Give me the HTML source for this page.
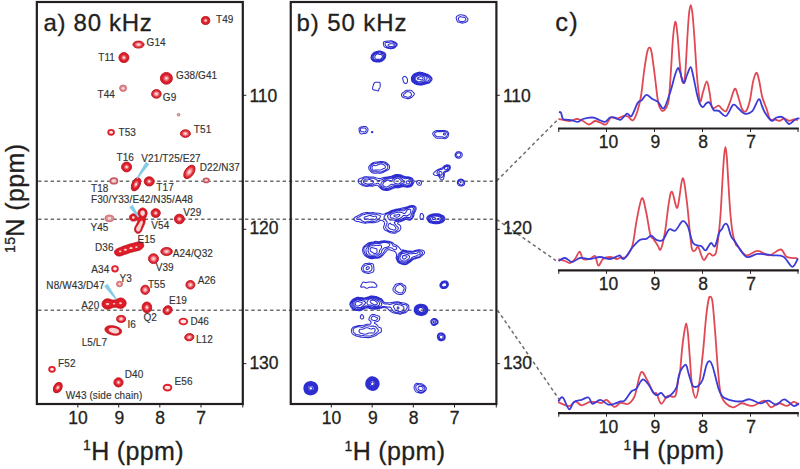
<!DOCTYPE html><html><head><meta charset="utf-8"><style>html,body{margin:0;padding:0;background:#fff;overflow:hidden}svg{display:block}text{font-family:"Liberation Sans", sans-serif}</style></head><body>
<svg width="800" height="469" viewBox="0 0 800 469">
<defs><radialGradient id="rg" cx="0.5" cy="0.5" r="0.5"><stop offset="0" stop-color="#f8d4d4"/><stop offset="0.3" stop-color="#ee7a80"/><stop offset="0.62" stop-color="#e2252f"/><stop offset="1" stop-color="#d51824"/></radialGradient><radialGradient id="rg2" cx="0.5" cy="0.5" r="0.5"><stop offset="0" stop-color="#f8d8d8"/><stop offset="0.4" stop-color="#ef9096"/><stop offset="0.68" stop-color="#e3343e"/><stop offset="1" stop-color="#d41a26"/></radialGradient></defs>
<rect width="800" height="469" fill="#fff"/>
<line x1="38.1" y1="181.3" x2="496" y2="181.3" stroke="#6e6e6e" stroke-width="1.5" stroke-dasharray="3.4 2.87" fill="none"/>
<line x1="38.1" y1="219.3" x2="496" y2="219.3" stroke="#6e6e6e" stroke-width="1.5" stroke-dasharray="3.4 2.87" fill="none"/>
<line x1="38.1" y1="310.2" x2="496" y2="310.2" stroke="#6e6e6e" stroke-width="1.5" stroke-dasharray="3.4 2.87" fill="none"/>
<line x1="496.8" y1="180.8" x2="558" y2="119.4" stroke="#6e6e6e" stroke-width="1.5" stroke-dasharray="3.4 2.87" fill="none"/>
<line x1="496.8" y1="219.5" x2="556" y2="260.6" stroke="#6e6e6e" stroke-width="1.5" stroke-dasharray="3.4 2.87" fill="none"/>
<line x1="497.5" y1="310.2" x2="560.3" y2="401" stroke="#6e6e6e" stroke-width="1.5" stroke-dasharray="3.4 2.87" fill="none"/>
<g><ellipse cx="205.60" cy="20.50" rx="4.20" ry="4.00" fill="url(#rg)" stroke="#c0141f" stroke-width="0.9"/>
<ellipse cx="205.60" cy="20.50" rx="2.60" ry="2.48" fill="none" stroke="#c01520" stroke-width="0.5" opacity="0.6"/>
<ellipse cx="205.60" cy="20.50" rx="0.80" ry="0.80" fill="#fbe6e6"/></g>
<g><ellipse cx="138.50" cy="44.60" rx="5.60" ry="3.50" fill="url(#rg2)" stroke="#c0141f" stroke-width="0.9"/>
<ellipse cx="138.50" cy="44.60" rx="1.01" ry="0.80" fill="#fbe6e6"/></g>
<g><ellipse cx="123.90" cy="57.60" rx="5.00" ry="5.00" fill="url(#rg)" stroke="#c0141f" stroke-width="0.9"/>
<ellipse cx="123.90" cy="57.60" rx="3.10" ry="3.10" fill="none" stroke="#c01520" stroke-width="0.5" opacity="0.6"/>
<ellipse cx="123.90" cy="57.60" rx="0.90" ry="0.90" fill="#fbe6e6"/></g>
<g><ellipse cx="166.40" cy="78.30" rx="6.00" ry="5.90" fill="url(#rg)" stroke="#c0141f" stroke-width="0.9"/>
<ellipse cx="166.40" cy="78.30" rx="3.72" ry="3.66" fill="none" stroke="#c01520" stroke-width="0.5" opacity="0.6"/>
<ellipse cx="166.40" cy="78.30" rx="1.08" ry="1.06" fill="#fbe6e6"/></g>
<g><ellipse cx="123.10" cy="88.20" rx="3.50" ry="3.20" fill="#dc8c90" stroke="#d07078" stroke-width="1"/>
<ellipse cx="123.10" cy="88.20" rx="1.40" ry="1.28" fill="#f7dede"/></g>
<g><ellipse cx="156.40" cy="93.90" rx="4.80" ry="4.30" fill="url(#rg2)" stroke="#c0141f" stroke-width="0.9"/>
<ellipse cx="156.40" cy="93.90" rx="0.86" ry="0.80" fill="#fbe6e6"/></g>
<g><ellipse cx="178.60" cy="114.70" rx="1.30" ry="1.30" fill="#dc8c90" stroke="#d07078" stroke-width="1"/>
<ellipse cx="178.60" cy="114.70" rx="0.52" ry="0.52" fill="#f7dede"/></g>
<g><ellipse cx="111.10" cy="132.30" rx="2.85" ry="2.45" fill="#fbeaea" stroke="#e2202c" stroke-width="1.9"/></g>
<g><ellipse cx="185.40" cy="133.60" rx="5.00" ry="3.80" fill="url(#rg2)" stroke="#c0141f" stroke-width="0.9"/>
<ellipse cx="185.40" cy="133.60" rx="0.90" ry="0.80" fill="#fbe6e6"/></g>
<g><ellipse cx="126.60" cy="167.00" rx="5.00" ry="4.90" fill="url(#rg)" stroke="#c0141f" stroke-width="0.9"/>
<ellipse cx="126.60" cy="167.00" rx="3.10" ry="3.04" fill="none" stroke="#c01520" stroke-width="0.5" opacity="0.6"/>
<ellipse cx="126.60" cy="167.00" rx="0.90" ry="0.88" fill="#fbe6e6"/></g>
<g transform="rotate(-55.0 189.40 171.90)"><ellipse cx="189.40" cy="171.90" rx="7.60" ry="4.40" fill="url(#rg2)" stroke="#c0141f" stroke-width="0.9"/>
<ellipse cx="189.40" cy="171.90" rx="1.37" ry="0.80" fill="#fbe6e6"/></g>
<g><ellipse cx="113.90" cy="180.90" rx="3.55" ry="2.75" fill="#f0cfcf" stroke="#c65a60" stroke-width="1.7"/></g>
<g transform="rotate(-65.0 136.00 184.30)"><ellipse cx="136.00" cy="184.30" rx="7.00" ry="4.00" fill="url(#rg)" stroke="#c0141f" stroke-width="0.9"/>
<ellipse cx="136.00" cy="184.30" rx="4.34" ry="2.48" fill="none" stroke="#c01520" stroke-width="0.5" opacity="0.6"/>
<ellipse cx="136.00" cy="184.30" rx="1.26" ry="0.80" fill="#fbe6e6"/></g>
<g><ellipse cx="149.20" cy="181.40" rx="5.00" ry="4.60" fill="url(#rg)" stroke="#c0141f" stroke-width="0.9"/>
<ellipse cx="149.20" cy="181.40" rx="3.10" ry="2.85" fill="none" stroke="#c01520" stroke-width="0.5" opacity="0.6"/>
<ellipse cx="149.20" cy="181.40" rx="0.90" ry="0.83" fill="#fbe6e6"/></g>
<g><ellipse cx="206.20" cy="180.40" rx="2.75" ry="1.95" fill="#f0cfcf" stroke="#c65a60" stroke-width="1.7"/></g>
<g><ellipse cx="155.70" cy="213.10" rx="4.60" ry="4.40" fill="url(#rg)" stroke="#c0141f" stroke-width="0.9"/>
<ellipse cx="155.70" cy="213.10" rx="2.85" ry="2.73" fill="none" stroke="#c01520" stroke-width="0.5" opacity="0.6"/>
<ellipse cx="155.70" cy="213.10" rx="0.83" ry="0.80" fill="#fbe6e6"/></g>
<g><ellipse cx="179.40" cy="219.00" rx="5.00" ry="4.80" fill="url(#rg)" stroke="#c0141f" stroke-width="0.9"/>
<ellipse cx="179.40" cy="219.00" rx="3.10" ry="2.98" fill="none" stroke="#c01520" stroke-width="0.5" opacity="0.6"/>
<ellipse cx="179.40" cy="219.00" rx="0.90" ry="0.86" fill="#fbe6e6"/></g>
<g><ellipse cx="109.40" cy="218.40" rx="4.40" ry="3.30" fill="#dc8c90" stroke="#d07078" stroke-width="1"/>
<ellipse cx="109.40" cy="218.40" rx="1.76" ry="1.32" fill="#f7dede"/></g>
<g><ellipse cx="166.60" cy="251.50" rx="5.80" ry="4.00" fill="url(#rg2)" stroke="#c0141f" stroke-width="0.9"/>
<ellipse cx="166.60" cy="251.50" rx="1.04" ry="0.80" fill="#fbe6e6"/></g>
<g><ellipse cx="153.50" cy="258.70" rx="5.00" ry="4.90" fill="url(#rg2)" stroke="#c0141f" stroke-width="0.9"/>
<ellipse cx="153.50" cy="258.70" rx="0.90" ry="0.88" fill="#fbe6e6"/></g>
<g><ellipse cx="115.00" cy="268.80" rx="2.85" ry="2.65" fill="#fbeaea" stroke="#e2202c" stroke-width="1.9"/></g>
<g><ellipse cx="119.50" cy="284.00" rx="3.00" ry="2.80" fill="#dc8c90" stroke="#d07078" stroke-width="1"/>
<ellipse cx="119.50" cy="284.00" rx="1.20" ry="1.12" fill="#f7dede"/></g>
<g><ellipse cx="145.20" cy="289.80" rx="4.40" ry="4.60" fill="url(#rg2)" stroke="#c0141f" stroke-width="0.9"/>
<ellipse cx="145.20" cy="289.80" rx="0.80" ry="0.83" fill="#fbe6e6"/></g>
<g><ellipse cx="190.40" cy="284.80" rx="4.50" ry="4.30" fill="url(#rg2)" stroke="#c0141f" stroke-width="0.9"/>
<ellipse cx="190.40" cy="284.80" rx="0.81" ry="0.80" fill="#fbe6e6"/></g>
<g><ellipse cx="146.90" cy="307.40" rx="4.80" ry="5.40" fill="url(#rg)" stroke="#c0141f" stroke-width="0.9"/>
<ellipse cx="146.90" cy="307.40" rx="2.98" ry="3.35" fill="none" stroke="#c01520" stroke-width="0.5" opacity="0.6"/>
<ellipse cx="146.90" cy="307.40" rx="0.86" ry="0.97" fill="#fbe6e6"/></g>
<g transform="rotate(-45.0 167.50 310.20)"><ellipse cx="167.50" cy="310.20" rx="4.80" ry="4.20" fill="url(#rg)" stroke="#c0141f" stroke-width="0.9"/>
<ellipse cx="167.50" cy="310.20" rx="2.98" ry="2.60" fill="none" stroke="#c01520" stroke-width="0.5" opacity="0.6"/>
<ellipse cx="167.50" cy="310.20" rx="0.86" ry="0.80" fill="#fbe6e6"/></g>
<g><ellipse cx="121.10" cy="318.90" rx="4.50" ry="3.50" fill="url(#rg2)" stroke="#c0141f" stroke-width="0.9"/>
<ellipse cx="121.10" cy="318.90" rx="0.81" ry="0.80" fill="#fbe6e6"/></g>
<g><ellipse cx="183.30" cy="321.50" rx="3.85" ry="2.85" fill="#fbeaea" stroke="#e2202c" stroke-width="1.9"/></g>
<g transform="rotate(-10.0 189.30 337.20)"><ellipse cx="189.30" cy="337.20" rx="4.60" ry="3.60" fill="url(#rg2)" stroke="#c0141f" stroke-width="0.9"/>
<ellipse cx="189.30" cy="337.20" rx="0.83" ry="0.80" fill="#fbe6e6"/></g>
<g><ellipse cx="52.00" cy="369.30" rx="2.85" ry="2.45" fill="#fbeaea" stroke="#e2202c" stroke-width="1.9"/></g>
<g><ellipse cx="118.50" cy="382.40" rx="4.60" ry="4.60" fill="url(#rg)" stroke="#c0141f" stroke-width="0.9"/>
<ellipse cx="118.50" cy="382.40" rx="2.85" ry="2.85" fill="none" stroke="#c01520" stroke-width="0.5" opacity="0.6"/>
<ellipse cx="118.50" cy="382.40" rx="0.83" ry="0.83" fill="#fbe6e6"/></g>
<g><ellipse cx="167.50" cy="387.60" rx="3.85" ry="2.85" fill="#fbeaea" stroke="#e2202c" stroke-width="1.9"/></g>
<g transform="rotate(-58.0 57.80 387.60)"><ellipse cx="57.80" cy="387.60" rx="5.60" ry="3.90" fill="url(#rg)" stroke="#c0141f" stroke-width="0.9"/>
<ellipse cx="57.80" cy="387.60" rx="3.47" ry="2.42" fill="none" stroke="#c01520" stroke-width="0.5" opacity="0.6"/>
<ellipse cx="57.80" cy="387.60" rx="1.01" ry="0.80" fill="#fbe6e6"/></g>
<path d="M138.80,233.24 L138.40,233.31 L138.00,233.34 L137.60,233.31 L137.20,233.23 L137.00,233.17 L136.61,233.00 L136.40,232.89 L136.20,232.76 L135.99,232.60 L135.77,232.40 L135.58,232.20 L135.40,231.99 L135.20,231.70 L135.03,231.40 L134.93,231.20 L134.80,230.87 L134.71,230.60 L134.62,230.20 L134.59,230.00 L134.54,229.60 L134.53,229.20 L134.55,228.80 L134.60,228.46 L134.64,228.20 L134.74,227.80 L134.80,227.60 L134.94,227.20 L135.02,227.00 L135.20,226.60 L135.30,226.40 L135.40,226.20 L135.60,225.84 L135.73,225.60 L135.85,225.40 L136.00,225.14 L136.20,224.80 L136.31,224.60 L136.42,224.40 L136.60,224.05 L136.72,223.80 L136.82,223.60 L136.99,223.20 L137.06,223.00 L137.20,222.63 L137.28,222.40 L137.40,222.02 L137.46,221.80 L137.57,221.40 L137.62,221.20 L137.70,220.80 L137.76,220.40 L137.77,220.00 L137.60,219.79 L137.40,219.83 L137.04,220.00 L136.80,220.13 L136.60,220.23 L136.27,220.40 L136.00,220.53 L135.80,220.61 L135.40,220.77 L135.20,220.83 L134.80,220.95 L134.58,221.00 L134.20,221.07 L133.80,221.11 L133.40,221.12 L133.00,221.10 L132.60,221.05 L132.39,221.00 L132.00,220.89 L131.76,220.80 L131.40,220.63 L131.20,220.52 L131.00,220.39 L130.74,220.20 L130.52,220.00 L130.33,219.80 L130.16,219.60 L130.00,219.38 L129.80,219.03 L129.69,218.80 L129.60,218.55 L129.50,218.20 L129.44,217.80 L129.43,217.40 L129.47,217.00 L129.55,216.60 L129.61,216.40 L129.78,216.00 L129.89,215.80 L130.01,215.60 L130.20,215.35 L130.40,215.12 L130.60,214.92 L130.80,214.75 L131.01,214.60 L131.33,214.40 L131.60,214.26 L131.80,214.18 L132.20,214.04 L132.40,213.99 L132.80,213.91 L133.20,213.87 L133.60,213.86 L134.00,213.87 L134.40,213.92 L134.80,213.99 L135.00,214.03 L135.40,214.12 L135.70,214.20 L136.00,214.28 L136.40,214.37 L136.64,214.40 L136.86,214.40 L137.20,214.29 L137.40,214.09 L137.56,213.80 L137.63,213.60 L137.76,213.20 L137.81,213.00 L137.91,212.60 L138.00,212.27 L138.08,212.00 L138.20,211.61 L138.27,211.40 L138.40,211.09 L138.53,210.80 L138.63,210.60 L138.80,210.30 L139.00,210.00 L139.14,209.80 L139.31,209.60 L139.49,209.40 L139.70,209.20 L139.94,209.00 L140.20,208.80 L140.40,208.68 L140.60,208.56 L140.94,208.40 L141.20,208.30 L141.51,208.20 L141.80,208.13 L142.20,208.07 L142.60,208.05 L143.00,208.07 L143.40,208.13 L143.69,208.20 L144.00,208.29 L144.27,208.40 L144.60,208.56 L144.80,208.67 L145.00,208.80 L145.27,209.00 L145.51,209.20 L145.71,209.40 L145.90,209.60 L146.06,209.80 L146.21,210.00 L146.40,210.30 L146.56,210.60 L146.66,210.80 L146.80,211.15 L146.89,211.40 L146.99,211.80 L147.03,212.00 L147.09,212.40 L147.12,212.80 L147.12,213.20 L147.10,213.60 L147.05,214.00 L147.00,214.26 L146.93,214.60 L146.82,215.00 L146.75,215.20 L146.61,215.60 L146.54,215.80 L146.40,216.14 L146.29,216.40 L146.20,216.61 L146.03,217.00 L145.95,217.20 L145.80,217.57 L145.72,217.80 L145.60,218.17 L145.54,218.40 L145.45,218.80 L145.40,219.05 L145.35,219.40 L145.30,219.80 L145.26,220.20 L145.23,220.60 L145.20,220.85 L145.16,221.20 L145.11,221.60 L145.05,222.00 L145.00,222.25 L144.93,222.60 L144.83,223.00 L144.78,223.20 L144.66,223.60 L144.60,223.80 L144.46,224.20 L144.38,224.40 L144.22,224.80 L144.14,225.00 L144.00,225.30 L143.86,225.60 L143.76,225.80 L143.60,226.13 L143.46,226.40 L143.36,226.60 L143.20,226.92 L143.07,227.20 L142.97,227.40 L142.80,227.77 L142.70,228.00 L142.60,228.24 L142.45,228.60 L142.37,228.80 L142.22,229.20 L142.14,229.40 L142.00,229.76 L141.90,230.00 L141.80,230.23 L141.63,230.60 L141.53,230.80 L141.40,231.03 L141.20,231.36 L141.04,231.60 L140.89,231.80 L140.72,232.00 L140.54,232.20 L140.33,232.40 L140.09,232.60 L139.80,232.80 L139.60,232.92 L139.40,233.02 L139.00,233.18 L138.80,233.24Z" fill="#e2202c" stroke="#c0141f" stroke-width="0.9" fill-rule="evenodd"/>
<path d="M138.20,232.41 L137.80,232.40 L137.60,232.38 L137.20,232.27 L137.00,232.18 L136.68,232.00 L136.42,231.80 L136.21,231.60 L136.03,231.40 L135.89,231.20 L135.77,231.00 L135.60,230.66 L135.50,230.40 L135.40,230.00 L135.36,229.80 L135.33,229.40 L135.33,229.00 L135.37,228.60 L135.40,228.40 L135.49,228.00 L135.60,227.67 L135.70,227.40 L135.80,227.18 L135.98,226.80 L136.09,226.60 L136.21,226.40 L136.40,226.09 L136.58,225.80 L136.71,225.60 L136.84,225.40 L137.00,225.16 L137.20,224.84 L137.35,224.60 L137.46,224.40 L137.60,224.16 L137.79,223.80 L137.89,223.60 L138.00,223.38 L138.18,223.00 L138.28,222.80 L138.40,222.54 L138.57,222.20 L138.67,222.00 L138.80,221.75 L138.99,221.40 L139.11,221.20 L139.23,221.00 L139.40,220.73 L139.60,220.43 L139.76,220.20 L139.90,220.00 L140.05,219.80 L140.20,219.58 L140.40,219.29 L140.58,219.00 L140.70,218.80 L140.80,218.57 L140.91,218.20 L140.93,217.80 L140.84,217.40 L140.76,217.20 L140.60,216.88 L140.44,216.60 L140.31,216.40 L140.17,216.20 L140.00,215.94 L139.80,215.62 L139.67,215.40 L139.57,215.20 L139.40,214.82 L139.32,214.60 L139.21,214.20 L139.17,214.00 L139.12,213.60 L139.10,213.20 L139.12,212.80 L139.17,212.40 L139.21,212.20 L139.32,211.80 L139.40,211.57 L139.56,211.20 L139.67,211.00 L139.80,210.78 L140.00,210.51 L140.20,210.28 L140.40,210.08 L140.60,209.91 L140.80,209.76 L141.07,209.60 L141.40,209.44 L141.60,209.37 L142.00,209.27 L142.40,209.21 L142.80,209.21 L143.20,209.26 L143.60,209.37 L143.80,209.44 L144.14,209.60 L144.40,209.76 L144.60,209.90 L144.80,210.07 L145.00,210.26 L145.20,210.49 L145.40,210.77 L145.54,211.00 L145.65,211.20 L145.80,211.56 L145.88,211.80 L145.98,212.20 L146.01,212.40 L146.05,212.80 L146.06,213.20 L146.02,213.60 L146.00,213.80 L145.92,214.20 L145.80,214.60 L145.73,214.80 L145.60,215.14 L145.48,215.40 L145.39,215.60 L145.20,215.95 L145.06,216.20 L144.94,216.40 L144.80,216.63 L144.60,216.97 L144.46,217.20 L144.36,217.40 L144.20,217.74 L144.10,218.00 L144.01,218.40 L143.98,218.60 L143.97,219.00 L143.99,219.40 L144.00,219.60 L144.04,220.00 L144.06,220.40 L144.08,220.80 L144.09,221.20 L144.07,221.60 L144.04,222.00 L144.00,222.29 L143.95,222.60 L143.87,223.00 L143.80,223.27 L143.71,223.60 L143.60,223.92 L143.50,224.20 L143.40,224.45 L143.25,224.80 L143.17,225.00 L143.00,225.35 L142.88,225.60 L142.78,225.80 L142.60,226.16 L142.48,226.40 L142.39,226.60 L142.20,227.00 L142.12,227.20 L142.00,227.47 L141.87,227.80 L141.80,228.00 L141.65,228.40 L141.58,228.60 L141.44,229.00 L141.37,229.20 L141.21,229.60 L141.13,229.80 L141.00,230.09 L140.85,230.40 L140.74,230.60 L140.60,230.82 L140.40,231.11 L140.20,231.35 L140.00,231.56 L139.80,231.74 L139.60,231.90 L139.40,232.03 L139.06,232.20 L138.80,232.30 L138.40,232.39 L138.20,232.41Z M134.00,220.01 L133.60,220.07 L133.20,220.07 L132.80,220.03 L132.60,219.98 L132.20,219.85 L132.00,219.76 L131.72,219.60 L131.45,219.40 L131.24,219.20 L131.06,219.00 L130.92,218.80 L130.80,218.58 L130.65,218.20 L130.59,218.00 L130.54,217.60 L130.56,217.20 L130.60,216.97 L130.72,216.60 L130.81,216.40 L131.00,216.08 L131.20,215.84 L131.40,215.64 L131.60,215.48 L131.80,215.34 L132.07,215.20 L132.40,215.07 L132.63,215.00 L133.00,214.93 L133.40,214.90 L133.80,214.93 L134.20,215.00 L134.40,215.05 L134.80,215.20 L135.00,215.30 L135.20,215.41 L135.47,215.60 L135.69,215.80 L135.87,216.00 L136.01,216.20 L136.20,216.59 L136.27,216.80 L136.33,217.20 L136.32,217.60 L136.25,218.00 L136.18,218.20 L136.00,218.60 L135.88,218.80 L135.72,219.00 L135.54,219.20 L135.31,219.40 L135.03,219.60 L134.80,219.73 L134.60,219.82 L134.20,219.96 L134.00,220.01Z" fill="none" stroke="#b80f1a" stroke-width="0.6" opacity="0.7"/>
<path d="M143.20,215.84 L142.80,215.93 L142.40,215.89 L142.14,215.80 L141.80,215.62 L141.60,215.48 L141.40,215.31 L141.20,215.11 L141.00,214.88 L140.81,214.60 L140.69,214.40 L140.59,214.20 L140.45,213.80 L140.40,213.60 L140.34,213.20 L140.33,212.80 L140.39,212.40 L140.44,212.20 L140.59,211.80 L140.69,211.60 L140.82,211.40 L141.00,211.18 L141.20,210.99 L141.45,210.80 L141.80,210.61 L142.00,210.54 L142.40,210.46 L142.80,210.46 L143.20,210.54 L143.40,210.61 L143.77,210.80 L144.00,210.97 L144.20,211.15 L144.40,211.39 L144.53,211.60 L144.64,211.80 L144.80,212.20 L144.85,212.40 L144.90,212.80 L144.91,213.20 L144.86,213.60 L144.80,213.86 L144.69,214.20 L144.60,214.41 L144.40,214.77 L144.24,215.00 L144.08,215.20 L143.88,215.40 L143.64,215.60 L143.40,215.75 L143.20,215.84Z M133.40,218.80 L133.20,218.80 L132.80,218.71 L132.57,218.60 L132.31,218.40 L132.13,218.20 L132.00,217.95 L131.92,217.60 L131.95,217.20 L132.02,217.00 L132.20,216.71 L132.40,216.51 L132.60,216.37 L133.00,216.22 L133.20,216.19 L133.60,216.20 L133.80,216.25 L134.15,216.40 L134.40,216.59 L134.58,216.80 L134.69,217.00 L134.78,217.40 L134.74,217.80 L134.60,218.11 L134.40,218.37 L134.20,218.53 L134.00,218.65 L133.60,218.78 L133.40,218.80Z M138.40,231.45 L138.00,231.47 L137.60,231.40 L137.40,231.33 L137.15,231.20 L136.88,231.00 L136.69,230.80 L136.54,230.60 L136.40,230.36 L136.25,230.00 L136.20,229.80 L136.13,229.40 L136.13,229.00 L136.17,228.60 L136.21,228.40 L136.32,228.00 L136.40,227.78 L136.57,227.40 L136.68,227.20 L136.80,226.99 L137.00,226.68 L137.19,226.40 L137.34,226.20 L137.49,226.00 L137.64,225.80 L137.80,225.59 L138.00,225.31 L138.20,225.02 L138.35,224.80 L138.47,224.60 L138.60,224.38 L138.80,224.02 L138.92,223.80 L139.02,223.60 L139.20,223.26 L139.34,223.00 L139.46,222.80 L139.60,222.55 L139.80,222.24 L139.96,222.00 L140.12,221.80 L140.28,221.60 L140.46,221.40 L140.67,221.20 L140.91,221.00 L141.20,220.80 L141.40,220.70 L141.80,220.61 L142.20,220.69 L142.40,220.84 L142.60,221.12 L142.72,221.40 L142.80,221.74 L142.83,222.00 L142.84,222.40 L142.81,222.80 L142.78,223.00 L142.69,223.40 L142.60,223.73 L142.51,224.00 L142.40,224.29 L142.27,224.60 L142.18,224.80 L142.00,225.19 L141.90,225.40 L141.80,225.60 L141.61,226.00 L141.52,226.20 L141.40,226.49 L141.28,226.80 L141.20,227.02 L141.07,227.40 L141.00,227.64 L140.89,228.00 L140.80,228.33 L140.72,228.60 L140.60,228.97 L140.52,229.20 L140.40,229.50 L140.26,229.80 L140.16,230.00 L140.00,230.27 L139.80,230.54 L139.60,230.77 L139.40,230.96 L139.20,231.11 L139.00,231.23 L138.60,231.40 L138.40,231.45Z" fill="#f7d2d2" stroke="none" fill-rule="evenodd"/>
<path d="M119.80,256.01 L119.40,256.04 L119.00,256.05 L118.60,256.02 L118.40,256.00 L118.00,255.93 L117.60,255.84 L117.40,255.77 L117.00,255.62 L116.80,255.53 L116.54,255.40 L116.22,255.20 L116.00,255.05 L115.80,254.88 L115.60,254.70 L115.40,254.49 L115.20,254.24 L115.04,254.00 L114.92,253.80 L114.80,253.53 L114.68,253.20 L114.60,252.87 L114.56,252.60 L114.54,252.20 L114.58,251.80 L114.62,251.60 L114.73,251.20 L114.82,251.00 L115.00,250.64 L115.15,250.40 L115.29,250.20 L115.46,250.00 L115.65,249.80 L115.86,249.60 L116.11,249.40 L116.38,249.20 L116.60,249.06 L116.80,248.94 L117.06,248.80 L117.40,248.63 L117.60,248.54 L117.95,248.40 L118.20,248.30 L118.46,248.20 L118.80,248.07 L119.00,248.00 L119.40,247.85 L119.60,247.77 L120.00,247.61 L120.20,247.53 L120.50,247.40 L120.80,247.26 L121.00,247.17 L121.38,247.00 L121.60,246.90 L121.81,246.80 L122.20,246.63 L122.40,246.54 L122.75,246.40 L123.00,246.30 L123.28,246.20 L123.60,246.09 L123.87,246.00 L124.20,245.89 L124.52,245.80 L124.80,245.71 L125.19,245.60 L125.40,245.54 L125.80,245.41 L126.00,245.35 L126.40,245.21 L126.60,245.14 L127.00,245.00 L127.20,244.92 L127.53,244.80 L127.80,244.69 L128.06,244.60 L128.40,244.47 L128.61,244.40 L129.00,244.27 L129.21,244.20 L129.60,244.08 L129.90,244.00 L130.20,243.92 L130.60,243.83 L130.80,243.78 L131.20,243.69 L131.60,243.60 L131.80,243.56 L132.20,243.47 L132.49,243.40 L132.80,243.32 L133.20,243.21 L133.40,243.16 L133.80,243.04 L134.00,242.98 L134.40,242.85 L134.60,242.79 L135.00,242.67 L135.27,242.60 L135.60,242.51 L136.00,242.41 L136.20,242.36 L136.60,242.28 L137.00,242.20 L137.20,242.16 L137.60,242.09 L138.00,242.03 L138.23,242.00 L138.60,241.95 L139.00,241.91 L139.40,241.88 L139.80,241.87 L140.20,241.88 L140.60,241.92 L141.00,242.00 L141.20,242.05 L141.60,242.18 L141.80,242.27 L142.05,242.40 L142.36,242.60 L142.60,242.79 L142.80,242.97 L143.00,243.20 L143.15,243.40 L143.28,243.60 L143.40,243.84 L143.55,244.20 L143.60,244.40 L143.68,244.80 L143.71,245.20 L143.70,245.60 L143.63,246.00 L143.59,246.20 L143.46,246.60 L143.38,246.80 L143.20,247.16 L143.06,247.40 L142.93,247.60 L142.78,247.80 L142.60,248.03 L142.40,248.26 L142.20,248.46 L142.00,248.65 L141.80,248.83 L141.58,249.00 L141.32,249.20 L141.02,249.40 L140.80,249.54 L140.60,249.66 L140.33,249.80 L140.00,249.96 L139.80,250.05 L139.43,250.20 L139.20,250.28 L138.84,250.40 L138.60,250.47 L138.20,250.58 L138.00,250.63 L137.60,250.71 L137.20,250.80 L137.00,250.84 L136.60,250.92 L136.20,251.00 L136.00,251.04 L135.60,251.13 L135.31,251.20 L135.00,251.28 L134.60,251.39 L134.40,251.44 L134.00,251.56 L133.80,251.62 L133.40,251.73 L133.16,251.80 L132.80,251.90 L132.44,252.00 L132.20,252.07 L131.80,252.17 L131.60,252.22 L131.20,252.33 L130.92,252.40 L130.60,252.49 L130.21,252.60 L130.00,252.67 L129.60,252.79 L129.40,252.86 L129.01,253.00 L128.80,253.08 L128.48,253.20 L128.20,253.31 L127.95,253.40 L127.60,253.53 L127.40,253.61 L127.00,253.75 L126.80,253.82 L126.40,253.95 L126.20,254.01 L125.80,254.13 L125.57,254.20 L125.20,254.31 L124.90,254.40 L124.60,254.49 L124.27,254.60 L124.00,254.69 L123.69,254.80 L123.40,254.91 L123.17,255.00 L122.80,255.15 L122.60,255.22 L122.20,255.38 L122.00,255.46 L121.60,255.60 L121.40,255.67 L121.00,255.78 L120.80,255.84 L120.40,255.93 L120.00,255.99 L119.80,256.01Z" fill="#e2202c" stroke="#c0141f" stroke-width="0.9" fill-rule="evenodd"/>
<path d="M120.60,255.00 L120.20,255.09 L119.80,255.15 L119.40,255.18 L119.00,255.17 L118.60,255.14 L118.20,255.07 L117.94,255.00 L117.60,254.88 L117.40,254.80 L117.03,254.60 L116.80,254.45 L116.60,254.29 L116.40,254.11 L116.20,253.88 L116.00,253.61 L115.88,253.40 L115.79,253.20 L115.67,252.80 L115.61,252.40 L115.63,252.00 L115.71,251.60 L115.80,251.33 L115.96,251.00 L116.09,250.80 L116.23,250.60 L116.41,250.40 L116.61,250.20 L116.85,250.00 L117.13,249.80 L117.40,249.63 L117.60,249.52 L117.84,249.40 L118.20,249.24 L118.40,249.15 L118.79,249.00 L119.00,248.92 L119.33,248.80 L119.60,248.70 L119.87,248.60 L120.20,248.47 L120.40,248.39 L120.80,248.21 L121.00,248.12 L121.26,248.00 L121.60,247.84 L121.80,247.74 L122.09,247.60 L122.40,247.45 L122.60,247.36 L122.97,247.20 L123.20,247.10 L123.47,247.00 L123.80,246.88 L124.04,246.80 L124.40,246.69 L124.69,246.60 L125.00,246.51 L125.39,246.40 L125.60,246.34 L126.00,246.22 L126.20,246.16 L126.60,246.03 L126.80,245.96 L127.20,245.81 L127.40,245.74 L127.76,245.60 L128.00,245.50 L128.27,245.40 L128.60,245.27 L128.80,245.20 L129.20,245.06 L129.40,244.99 L129.80,244.87 L130.06,244.80 L130.40,244.71 L130.80,244.62 L131.00,244.58 L131.40,244.50 L131.80,244.42 L132.00,244.39 L132.40,244.31 L132.80,244.22 L133.00,244.18 L133.40,244.08 L133.72,244.00 L134.00,243.92 L134.40,243.80 L134.60,243.74 L135.00,243.62 L135.20,243.56 L135.60,243.44 L135.80,243.39 L136.20,243.28 L136.52,243.20 L136.80,243.13 L137.20,243.04 L137.40,243.00 L137.80,242.92 L138.20,242.84 L138.45,242.80 L138.80,242.74 L139.20,242.70 L139.60,242.67 L140.00,242.66 L140.40,242.69 L140.80,242.76 L141.00,242.81 L141.40,242.96 L141.60,243.06 L141.82,243.20 L142.07,243.40 L142.27,243.60 L142.43,243.80 L142.60,244.07 L142.75,244.40 L142.81,244.60 L142.88,245.00 L142.89,245.40 L142.83,245.80 L142.79,246.00 L142.65,246.40 L142.56,246.60 L142.40,246.88 L142.20,247.18 L142.02,247.40 L141.85,247.60 L141.65,247.80 L141.43,248.00 L141.20,248.19 L141.00,248.34 L140.80,248.48 L140.60,248.61 L140.28,248.80 L140.00,248.95 L139.80,249.05 L139.48,249.20 L139.20,249.31 L138.97,249.40 L138.60,249.53 L138.35,249.60 L138.00,249.69 L137.60,249.79 L137.40,249.83 L137.00,249.92 L136.60,250.00 L136.40,250.04 L136.00,250.12 L135.67,250.20 L135.40,250.27 L135.00,250.37 L134.80,250.43 L134.40,250.55 L134.20,250.61 L133.80,250.74 L133.60,250.80 L133.20,250.93 L132.97,251.00 L132.60,251.11 L132.29,251.20 L132.00,251.28 L131.60,251.38 L131.40,251.43 L131.00,251.54 L130.74,251.60 L130.40,251.69 L130.00,251.80 L129.80,251.86 L129.40,251.98 L129.20,252.05 L128.80,252.19 L128.60,252.26 L128.25,252.40 L128.00,252.50 L127.74,252.60 L127.40,252.73 L127.20,252.81 L126.80,252.95 L126.60,253.02 L126.20,253.15 L126.00,253.21 L125.60,253.33 L125.36,253.40 L125.00,253.50 L124.65,253.60 L124.40,253.67 L124.00,253.79 L123.80,253.85 L123.40,253.99 L123.20,254.06 L122.83,254.20 L122.60,254.29 L122.32,254.40 L122.00,254.53 L121.80,254.61 L121.40,254.76 L121.20,254.83 L120.80,254.95 L120.60,255.00Z" fill="none" stroke="#b80f1a" stroke-width="0.6" opacity="0.7"/>
<path d="M130.60,248.83 L130.20,248.86 L129.80,248.84 L129.50,248.80 L129.20,248.61 L129.20,248.48 L129.35,248.20 L129.56,248.00 L129.80,247.82 L130.00,247.71 L130.20,247.60 L130.60,247.45 L130.80,247.39 L131.20,247.33 L131.60,247.33 L132.00,247.39 L132.20,247.49 L132.40,247.78 L132.40,247.81 L132.20,248.15 L132.00,248.32 L131.80,248.45 L131.49,248.60 L131.20,248.70 L130.80,248.80 L130.60,248.83Z M125.40,250.45 L125.00,250.54 L124.60,250.55 L124.20,250.43 L124.10,250.20 L124.20,249.97 L124.40,249.77 L124.65,249.60 L125.00,249.45 L125.20,249.38 L125.60,249.31 L126.00,249.28 L126.40,249.34 L126.60,249.52 L126.60,249.63 L126.40,249.89 L126.20,250.06 L126.00,250.20 L125.60,250.39 L125.40,250.45Z" fill="#f7d2d2" stroke="none" fill-rule="evenodd"/>
<ellipse cx="120.20" cy="251.40" rx="1.20" ry="0.90" fill="#f8dada"/>
<ellipse cx="125.50" cy="249.60" rx="1.40" ry="0.90" fill="#f8dada"/>
<ellipse cx="131.10" cy="248.20" rx="1.40" ry="0.90" fill="#f8dada"/>
<ellipse cx="136.40" cy="247.10" rx="1.30" ry="0.90" fill="#f8dada"/>
<path d="M109.00,309.03 L108.60,309.11 L108.20,309.16 L107.80,309.19 L107.40,309.19 L107.00,309.17 L106.60,309.12 L106.20,309.04 L106.00,308.99 L105.60,308.87 L105.40,308.79 L105.00,308.62 L104.80,308.52 L104.59,308.40 L104.28,308.20 L104.01,308.00 L103.80,307.83 L103.60,307.65 L103.40,307.45 L103.20,307.22 L103.02,307.00 L102.88,306.80 L102.75,306.60 L102.60,306.34 L102.43,306.00 L102.35,305.80 L102.21,305.40 L102.16,305.20 L102.07,304.80 L102.03,304.40 L102.01,304.00 L102.03,303.60 L102.07,303.20 L102.16,302.80 L102.21,302.60 L102.35,302.20 L102.43,302.00 L102.60,301.66 L102.75,301.40 L102.88,301.20 L103.02,301.00 L103.20,300.78 L103.40,300.55 L103.60,300.35 L103.80,300.17 L104.01,300.00 L104.28,299.80 L104.59,299.60 L104.80,299.48 L105.00,299.38 L105.40,299.21 L105.60,299.13 L106.00,299.01 L106.20,298.96 L106.60,298.88 L107.00,298.83 L107.40,298.80 L107.80,298.81 L108.20,298.83 L108.60,298.88 L109.00,298.95 L109.21,299.00 L109.60,299.10 L109.95,299.20 L110.20,299.28 L110.56,299.40 L110.80,299.48 L111.14,299.60 L111.40,299.69 L111.76,299.80 L112.00,299.87 L112.40,299.96 L112.60,300.00 L113.00,300.06 L113.40,300.09 L113.80,300.09 L114.20,300.07 L114.60,300.01 L114.80,299.97 L115.20,299.87 L115.42,299.80 L115.80,299.66 L116.00,299.58 L116.40,299.40 L116.60,299.30 L116.81,299.20 L117.20,299.01 L117.40,298.91 L117.63,298.80 L118.00,298.63 L118.20,298.55 L118.59,298.40 L118.80,298.33 L119.20,298.21 L119.40,298.16 L119.80,298.08 L120.20,298.03 L120.60,298.01 L121.00,298.01 L121.40,298.04 L121.80,298.10 L122.20,298.19 L122.40,298.25 L122.80,298.39 L123.00,298.47 L123.26,298.60 L123.60,298.78 L123.80,298.91 L124.00,299.05 L124.20,299.20 L124.43,299.40 L124.64,299.60 L124.83,299.80 L125.00,300.00 L125.20,300.26 L125.40,300.57 L125.53,300.80 L125.63,301.00 L125.80,301.38 L125.88,301.60 L125.99,302.00 L126.04,302.20 L126.10,302.60 L126.14,303.00 L126.14,303.40 L126.10,303.80 L126.04,304.20 L125.99,304.40 L125.88,304.80 L125.80,305.02 L125.63,305.40 L125.53,305.60 L125.40,305.83 L125.20,306.14 L125.00,306.40 L124.83,306.60 L124.64,306.80 L124.43,307.00 L124.20,307.20 L124.00,307.35 L123.80,307.49 L123.60,307.62 L123.27,307.80 L123.00,307.93 L122.80,308.01 L122.40,308.15 L122.20,308.21 L121.80,308.30 L121.40,308.36 L121.00,308.40 L120.80,308.40 L120.47,308.40 L120.20,308.39 L119.80,308.34 L119.40,308.28 L119.02,308.20 L118.80,308.15 L118.40,308.04 L118.20,307.98 L117.80,307.86 L117.60,307.80 L117.20,307.68 L116.93,307.60 L116.60,307.52 L116.20,307.43 L116.00,307.40 L115.60,307.34 L115.20,307.32 L114.80,307.31 L114.40,307.33 L114.00,307.37 L113.80,307.40 L113.40,307.48 L113.00,307.58 L112.80,307.63 L112.40,307.77 L112.20,307.84 L111.80,308.00 L111.60,308.08 L111.32,308.20 L111.00,308.34 L110.80,308.42 L110.40,308.59 L110.20,308.67 L109.82,308.80 L109.60,308.87 L109.20,308.98 L109.00,309.03Z" fill="#e2202c" stroke="#c0141f" stroke-width="0.9" fill-rule="evenodd"/>
<path d="M108.00,308.00 L107.60,308.02 L107.20,308.00 L107.00,307.98 L106.60,307.92 L106.20,307.81 L106.00,307.75 L105.64,307.60 L105.40,307.48 L105.20,307.36 L104.95,307.20 L104.69,307.00 L104.47,306.80 L104.28,306.60 L104.11,306.40 L103.96,306.20 L103.80,305.95 L103.61,305.60 L103.53,305.40 L103.40,305.02 L103.35,304.80 L103.28,304.40 L103.26,304.00 L103.28,303.60 L103.35,303.20 L103.40,302.98 L103.53,302.60 L103.61,302.40 L103.80,302.05 L103.96,301.80 L104.11,301.60 L104.28,301.40 L104.47,301.20 L104.69,301.00 L104.95,300.80 L105.20,300.64 L105.40,300.52 L105.64,300.40 L106.00,300.25 L106.20,300.18 L106.60,300.08 L107.00,300.01 L107.20,299.99 L107.60,299.98 L108.00,299.99 L108.20,300.01 L108.60,300.07 L109.00,300.16 L109.20,300.21 L109.60,300.34 L109.80,300.41 L110.20,300.56 L110.40,300.64 L110.78,300.80 L111.00,300.89 L111.26,301.00 L111.60,301.13 L111.80,301.20 L112.20,301.33 L112.46,301.40 L112.80,301.47 L113.20,301.53 L113.60,301.55 L114.00,301.55 L114.40,301.52 L114.80,301.45 L115.02,301.40 L115.40,301.29 L115.65,301.20 L116.00,301.05 L116.20,300.96 L116.50,300.80 L116.80,300.63 L117.00,300.52 L117.21,300.40 L117.55,300.20 L117.80,300.06 L118.00,299.95 L118.30,299.80 L118.60,299.66 L118.80,299.58 L119.20,299.43 L119.40,299.37 L119.80,299.28 L120.20,299.21 L120.40,299.19 L120.80,299.18 L121.12,299.20 L121.40,299.23 L121.80,299.31 L122.10,299.40 L122.40,299.51 L122.61,299.60 L122.98,299.80 L123.20,299.94 L123.40,300.09 L123.60,300.26 L123.80,300.46 L124.00,300.68 L124.20,300.94 L124.37,301.20 L124.48,301.40 L124.60,301.65 L124.73,302.00 L124.80,302.24 L124.88,302.60 L124.92,303.00 L124.92,303.40 L124.88,303.80 L124.80,304.16 L124.73,304.40 L124.60,304.75 L124.48,305.00 L124.37,305.20 L124.20,305.46 L124.00,305.72 L123.80,305.95 L123.60,306.14 L123.40,306.31 L123.20,306.46 L122.98,306.60 L122.61,306.80 L122.40,306.89 L122.11,307.00 L121.80,307.09 L121.40,307.18 L121.20,307.20 L120.80,307.23 L120.40,307.23 L120.09,307.20 L119.80,307.16 L119.40,307.08 L119.08,307.00 L118.80,306.92 L118.44,306.80 L118.20,306.71 L117.89,306.60 L117.60,306.49 L117.36,306.40 L117.00,306.27 L116.79,306.20 L116.40,306.08 L116.05,306.00 L115.80,305.95 L115.40,305.90 L115.00,305.87 L114.60,305.87 L114.20,305.90 L113.80,305.95 L113.53,306.00 L113.20,306.07 L112.80,306.19 L112.60,306.26 L112.23,306.40 L112.00,306.50 L111.78,306.60 L111.40,306.78 L111.20,306.88 L110.97,307.00 L110.60,307.18 L110.40,307.28 L110.14,307.40 L109.80,307.55 L109.60,307.62 L109.20,307.76 L109.00,307.82 L108.60,307.92 L108.20,307.98 L108.00,308.00Z" fill="none" stroke="#b80f1a" stroke-width="0.6" opacity="0.7"/>
<path d="" fill="#f7d2d2" stroke="none" fill-rule="evenodd"/>
<ellipse cx="107.50" cy="304.00" rx="1.80" ry="1.00" fill="#f8dada"/>
<ellipse cx="114.00" cy="303.80" rx="1.20" ry="0.80" fill="#f8dada"/>
<ellipse cx="120.50" cy="303.20" rx="1.30" ry="1.00" fill="#f8dada"/>
<path d="M116.80,335.22 L116.40,335.26 L116.00,335.28 L115.60,335.29 L115.20,335.28 L114.80,335.26 L114.40,335.23 L114.10,335.20 L113.80,335.16 L113.40,335.11 L113.00,335.04 L112.80,335.00 L112.40,334.92 L112.00,334.82 L111.80,334.77 L111.40,334.67 L111.17,334.60 L110.80,334.49 L110.53,334.40 L110.20,334.29 L109.96,334.20 L109.60,334.06 L109.40,333.98 L109.00,333.80 L108.80,333.71 L108.57,333.60 L108.20,333.41 L108.00,333.29 L107.80,333.18 L107.52,333.00 L107.22,332.80 L107.00,332.64 L106.80,332.48 L106.60,332.31 L106.40,332.13 L106.20,331.94 L106.00,331.73 L105.80,331.49 L105.60,331.22 L105.46,331.00 L105.34,330.80 L105.20,330.49 L105.09,330.20 L105.00,329.84 L104.96,329.60 L104.95,329.20 L105.00,328.82 L105.05,328.60 L105.20,328.22 L105.31,328.00 L105.44,327.80 L105.60,327.59 L105.80,327.36 L106.00,327.17 L106.21,327.00 L106.49,326.80 L106.80,326.61 L107.00,326.50 L107.21,326.40 L107.60,326.23 L107.80,326.16 L108.20,326.03 L108.40,325.97 L108.80,325.87 L109.18,325.80 L109.40,325.76 L109.80,325.71 L110.20,325.67 L110.60,325.65 L111.00,325.64 L111.40,325.64 L111.80,325.65 L112.20,325.68 L112.60,325.71 L113.00,325.76 L113.26,325.80 L113.60,325.85 L114.00,325.93 L114.35,326.00 L114.60,326.05 L115.00,326.15 L115.20,326.20 L115.60,326.32 L115.88,326.40 L116.20,326.50 L116.49,326.60 L116.80,326.71 L117.03,326.80 L117.40,326.94 L117.60,327.03 L117.98,327.20 L118.20,327.30 L118.40,327.41 L118.76,327.60 L119.00,327.74 L119.20,327.86 L119.41,328.00 L119.70,328.20 L119.96,328.40 L120.19,328.60 L120.40,328.79 L120.60,329.00 L120.78,329.20 L120.93,329.40 L121.07,329.60 L121.20,329.81 L121.40,330.20 L121.48,330.40 L121.59,330.80 L121.62,331.00 L121.65,331.40 L121.62,331.80 L121.58,332.00 L121.46,332.40 L121.38,332.60 L121.20,332.93 L121.01,333.20 L120.85,333.40 L120.66,333.60 L120.45,333.80 L120.20,334.00 L120.00,334.14 L119.80,334.27 L119.57,334.40 L119.20,334.58 L119.00,334.67 L118.67,334.80 L118.40,334.89 L118.02,335.00 L117.80,335.05 L117.40,335.14 L117.00,335.20 L116.80,335.22Z" fill="#e2202c" stroke="#c0141f" stroke-width="0.9" fill-rule="evenodd"/>
<path d="M116.40,334.41 L116.00,334.44 L115.60,334.45 L115.20,334.44 L114.80,334.42 L114.59,334.40 L114.20,334.36 L113.80,334.30 L113.40,334.23 L113.20,334.19 L112.80,334.10 L112.41,334.00 L112.20,333.94 L111.80,333.83 L111.60,333.76 L111.20,333.63 L111.00,333.56 L110.60,333.40 L110.40,333.32 L110.12,333.20 L109.80,333.05 L109.60,332.95 L109.31,332.80 L109.00,332.62 L108.80,332.50 L108.60,332.36 L108.37,332.20 L108.11,332.00 L107.88,331.80 L107.67,331.60 L107.48,331.40 L107.31,331.20 L107.17,331.00 L107.00,330.72 L106.84,330.40 L106.77,330.20 L106.68,329.80 L106.67,329.40 L106.74,329.00 L106.80,328.80 L107.00,328.41 L107.15,328.20 L107.33,328.00 L107.55,327.80 L107.80,327.61 L108.00,327.48 L108.20,327.37 L108.55,327.20 L108.80,327.10 L109.08,327.00 L109.40,326.91 L109.80,326.82 L110.00,326.78 L110.40,326.72 L110.80,326.68 L111.20,326.66 L111.60,326.65 L112.00,326.66 L112.40,326.68 L112.80,326.71 L113.20,326.76 L113.48,326.80 L113.80,326.85 L114.20,326.93 L114.54,327.00 L114.80,327.06 L115.20,327.16 L115.40,327.21 L115.80,327.33 L116.01,327.40 L116.40,327.53 L116.60,327.60 L117.00,327.76 L117.20,327.84 L117.55,328.00 L117.80,328.12 L118.00,328.23 L118.30,328.40 L118.60,328.59 L118.80,328.72 L119.00,328.87 L119.20,329.04 L119.40,329.22 L119.60,329.42 L119.80,329.65 L120.00,329.93 L120.16,330.20 L120.25,330.40 L120.38,330.80 L120.42,331.00 L120.45,331.40 L120.40,331.80 L120.35,332.00 L120.20,332.37 L120.07,332.60 L119.93,332.80 L119.76,333.00 L119.56,333.20 L119.31,333.40 L119.02,333.60 L118.80,333.73 L118.60,333.84 L118.22,334.00 L118.00,334.08 L117.61,334.20 L117.40,334.25 L117.00,334.33 L116.60,334.39 L116.40,334.41Z" fill="none" stroke="#b80f1a" stroke-width="0.6" opacity="0.7"/>
<path d="M116.60,333.43 L116.20,333.49 L115.80,333.52 L115.40,333.52 L115.00,333.50 L114.60,333.47 L114.20,333.41 L114.00,333.37 L113.60,333.29 L113.23,333.20 L113.00,333.14 L112.60,333.02 L112.40,332.95 L112.00,332.80 L111.80,332.72 L111.51,332.60 L111.20,332.46 L111.00,332.36 L110.70,332.20 L110.40,332.03 L110.20,331.90 L110.00,331.76 L109.79,331.60 L109.56,331.40 L109.35,331.20 L109.18,331.00 L109.00,330.75 L108.81,330.40 L108.74,330.20 L108.69,329.80 L108.74,329.40 L108.82,329.20 L109.00,328.91 L109.20,328.69 L109.40,328.53 L109.60,328.39 L109.98,328.20 L110.20,328.11 L110.56,328.00 L110.80,327.94 L111.20,327.87 L111.60,327.83 L112.00,327.80 L112.20,327.80 L112.40,327.80 L112.80,327.81 L113.20,327.85 L113.60,327.89 L114.00,327.95 L114.30,328.00 L114.60,328.06 L115.00,328.15 L115.20,328.20 L115.60,328.31 L115.88,328.40 L116.20,328.51 L116.44,328.60 L116.80,328.75 L117.00,328.85 L117.30,329.00 L117.60,329.17 L117.80,329.30 L118.00,329.45 L118.20,329.61 L118.40,329.80 L118.60,330.02 L118.80,330.31 L118.95,330.60 L119.02,330.80 L119.09,331.20 L119.06,331.60 L119.00,331.83 L118.81,332.20 L118.66,332.40 L118.47,332.60 L118.22,332.80 L118.00,332.94 L117.80,333.05 L117.46,333.20 L117.20,333.29 L116.80,333.40 L116.60,333.43Z" fill="#f7d2d2" stroke="none" fill-rule="evenodd"/>
<ellipse cx="113.00" cy="330.60" rx="2.60" ry="0.80" fill="#f8dada"/>
<polygon points="145.87,161.81 149.33,164.19 137.58,178.90 136.42,178.10" fill="#86cbe8"/>
<polygon points="129.26,207.18 132.74,204.82 139.08,216.61 137.92,217.39" fill="#86cbe8"/>
<polygon points="104.10,286.24 107.50,283.76 116.57,298.59 115.43,299.41" fill="#86cbe8"/>
<text x="216.00" y="22.50" font-size="10.00" text-anchor="start" fill="#333" stroke="#333" stroke-width="0.15" letter-spacing="0.1">T49</text>
<text x="146.50" y="45.50" font-size="10.00" text-anchor="start" fill="#333" stroke="#333" stroke-width="0.15" letter-spacing="0.1">G14</text>
<text x="115.00" y="61.20" font-size="10.00" text-anchor="end" fill="#333" stroke="#333" stroke-width="0.15" letter-spacing="0.1">T11</text>
<text x="176.00" y="78.50" font-size="10.00" text-anchor="start" fill="#333" stroke="#333" stroke-width="0.15" letter-spacing="0.1">G38/G41</text>
<text x="115.00" y="97.50" font-size="10.00" text-anchor="end" fill="#333" stroke="#333" stroke-width="0.15" letter-spacing="0.1">T44</text>
<text x="162.80" y="100.50" font-size="10.00" text-anchor="start" fill="#333" stroke="#333" stroke-width="0.15" letter-spacing="0.1">G9</text>
<text x="118.50" y="136.30" font-size="10.00" text-anchor="start" fill="#333" stroke="#333" stroke-width="0.15" letter-spacing="0.1">T53</text>
<text x="193.80" y="132.50" font-size="10.00" text-anchor="start" fill="#333" stroke="#333" stroke-width="0.15" letter-spacing="0.1">T51</text>
<text x="134.00" y="161.30" font-size="10.00" text-anchor="end" fill="#333" stroke="#333" stroke-width="0.15" letter-spacing="0.1">T16</text>
<text x="141.30" y="161.50" font-size="10.00" text-anchor="start" fill="#333" stroke="#333" stroke-width="0.15" letter-spacing="0.1">V21/T25/E27</text>
<text x="199.80" y="170.50" font-size="10.00" text-anchor="start" fill="#333" stroke="#333" stroke-width="0.15" letter-spacing="0.1">D22/N37</text>
<text x="108.50" y="191.50" font-size="10.00" text-anchor="end" fill="#333" stroke="#333" stroke-width="0.15" letter-spacing="0.1">T18</text>
<text x="156.30" y="190.90" font-size="10.00" text-anchor="start" fill="#333" stroke="#333" stroke-width="0.15" letter-spacing="0.1">T17</text>
<text x="91.00" y="202.70" font-size="10.00" text-anchor="start" fill="#333" stroke="#333" stroke-width="0.15" letter-spacing="0.1">F30/Y33/E42/N35/A48</text>
<text x="151.30" y="228.50" font-size="10.00" text-anchor="start" fill="#333" stroke="#333" stroke-width="0.15" letter-spacing="0.1">V54</text>
<text x="183.30" y="215.90" font-size="10.00" text-anchor="start" fill="#333" stroke="#333" stroke-width="0.15" letter-spacing="0.1">V29</text>
<text x="108.50" y="231.10" font-size="10.00" text-anchor="end" fill="#333" stroke="#333" stroke-width="0.15" letter-spacing="0.1">Y45</text>
<text x="137.40" y="242.90" font-size="10.00" text-anchor="start" fill="#333" stroke="#333" stroke-width="0.15" letter-spacing="0.1">E15</text>
<text x="113.70" y="250.70" font-size="10.00" text-anchor="end" fill="#333" stroke="#333" stroke-width="0.15" letter-spacing="0.1">D36</text>
<text x="172.80" y="256.80" font-size="10.00" text-anchor="start" fill="#333" stroke="#333" stroke-width="0.15" letter-spacing="0.1">A24/Q32</text>
<text x="155.70" y="271.00" font-size="10.00" text-anchor="start" fill="#333" stroke="#333" stroke-width="0.15" letter-spacing="0.1">V39</text>
<text x="109.30" y="273.10" font-size="10.00" text-anchor="end" fill="#333" stroke="#333" stroke-width="0.15" letter-spacing="0.1">A34</text>
<text x="119.50" y="281.70" font-size="10.00" text-anchor="start" fill="#333" stroke="#333" stroke-width="0.15" letter-spacing="0.1">Y3</text>
<text x="147.90" y="287.50" font-size="10.00" text-anchor="start" fill="#333" stroke="#333" stroke-width="0.15" letter-spacing="0.1">T55</text>
<text x="197.70" y="284.30" font-size="10.00" text-anchor="start" fill="#333" stroke="#333" stroke-width="0.15" letter-spacing="0.1">A26</text>
<text x="104.60" y="288.80" font-size="10.00" text-anchor="end" fill="#333" stroke="#333" stroke-width="0.15" letter-spacing="0.1">N8/W43/D47</text>
<text x="99.30" y="308.50" font-size="10.00" text-anchor="end" fill="#333" stroke="#333" stroke-width="0.15" letter-spacing="0.1">A20</text>
<text x="143.40" y="321.10" font-size="10.00" text-anchor="start" fill="#333" stroke="#333" stroke-width="0.15" letter-spacing="0.1">Q2</text>
<text x="168.90" y="304.00" font-size="10.00" text-anchor="start" fill="#333" stroke="#333" stroke-width="0.15" letter-spacing="0.1">E19</text>
<text x="127.40" y="328.10" font-size="10.00" text-anchor="start" fill="#333" stroke="#333" stroke-width="0.15" letter-spacing="0.1">I6</text>
<text x="190.40" y="324.50" font-size="10.00" text-anchor="start" fill="#333" stroke="#333" stroke-width="0.15" letter-spacing="0.1">D46</text>
<text x="107.20" y="346.00" font-size="10.00" text-anchor="end" fill="#333" stroke="#333" stroke-width="0.15" letter-spacing="0.1">L5/L7</text>
<text x="195.90" y="343.40" font-size="10.00" text-anchor="start" fill="#333" stroke="#333" stroke-width="0.15" letter-spacing="0.1">L12</text>
<text x="58.10" y="367.00" font-size="10.00" text-anchor="start" fill="#333" stroke="#333" stroke-width="0.15" letter-spacing="0.1">F52</text>
<text x="124.80" y="377.50" font-size="10.00" text-anchor="start" fill="#333" stroke="#333" stroke-width="0.15" letter-spacing="0.1">D40</text>
<text x="174.60" y="385.40" font-size="10.00" text-anchor="start" fill="#333" stroke="#333" stroke-width="0.15" letter-spacing="0.1">E56</text>
<text x="65.70" y="398.50" font-size="10.00" text-anchor="start" fill="#333" stroke="#333" stroke-width="0.15" letter-spacing="0.1">W43 (side chain)</text>
<path d="M463.2,23.0 L462.8,23.1 L462.2,23.1 L461.8,23.0 L461.5,23.0 L461.0,22.8 L460.7,22.8 L460.2,22.6 L459.8,22.5 L459.5,22.4 L459.0,22.3 L458.6,22.2 L458.2,22.1 L457.9,22.0 L457.6,21.8 L457.4,21.5 L457.2,21.2 L457.1,20.8 L457.0,20.5 L456.8,20.0 L456.7,19.8 L456.5,19.2 L456.4,19.0 L456.3,18.5 L456.2,18.1 L456.2,17.8 L456.2,17.5 L456.4,17.0 L456.5,16.7 L456.8,16.4 L457.0,16.2 L457.3,16.0 L457.7,15.8 L458.0,15.6 L458.2,15.5 L458.7,15.2 L459.0,15.1 L459.2,15.0 L459.8,14.8 L460.0,14.7 L460.5,14.7 L461.0,14.7 L461.2,14.8 L461.8,14.9 L462.1,15.0 L462.5,15.1 L463.0,15.1 L463.5,15.2 L464.0,15.2 L464.2,15.3 L464.8,15.4 L465.0,15.6 L465.3,15.8 L465.5,16.0 L465.8,16.2 L466.0,16.5 L466.2,16.8 L466.5,17.0 L466.8,17.3 L467.0,17.5 L467.2,17.8 L467.5,18.2 L467.7,18.5 L467.8,18.8 L467.9,19.2 L467.9,19.8 L467.8,20.2 L467.7,20.5 L467.5,20.9 L467.2,21.2 L467.0,21.5 L466.8,21.6 L466.5,21.8 L466.1,22.0 L465.8,22.2 L465.5,22.2 L465.0,22.4 L464.8,22.5 L464.2,22.7 L464.0,22.8 L463.5,23.0 L463.2,23.0Z M392.8,48.5 L392.2,48.6 L391.8,48.7 L391.2,48.7 L390.8,48.7 L390.2,48.7 L389.8,48.6 L389.2,48.5 L389.0,48.5 L388.5,48.4 L388.0,48.3 L387.8,48.2 L387.2,48.1 L387.0,48.0 L386.5,47.8 L386.2,47.7 L385.9,47.5 L385.5,47.3 L385.2,47.2 L384.8,47.0 L384.5,46.8 L384.2,46.5 L384.0,46.2 L383.9,46.0 L383.8,45.5 L383.7,45.2 L383.6,44.8 L383.5,44.4 L383.4,44.0 L383.4,43.5 L383.3,43.0 L383.4,42.5 L383.5,42.2 L383.8,42.0 L384.1,41.8 L384.5,41.6 L384.8,41.5 L385.2,41.4 L385.8,41.3 L386.2,41.3 L386.5,41.2 L387.0,41.1 L387.5,41.1 L388.0,41.1 L388.5,41.0 L389.0,41.0 L389.2,41.0 L389.8,40.9 L390.2,40.8 L390.5,40.7 L391.0,40.7 L391.5,40.7 L391.8,40.8 L392.2,40.9 L392.5,41.0 L393.0,41.2 L393.2,41.3 L393.8,41.5 L394.0,41.6 L394.4,41.8 L394.8,41.9 L395.0,42.1 L395.3,42.2 L395.7,42.5 L396.0,42.7 L396.2,42.9 L396.5,43.1 L396.8,43.4 L396.9,43.8 L397.0,44.0 L397.1,44.5 L397.1,45.0 L397.0,45.3 L396.8,45.7 L396.6,46.0 L396.4,46.2 L396.1,46.5 L395.9,46.8 L395.6,47.0 L395.4,47.2 L395.0,47.5 L394.8,47.7 L394.5,47.9 L394.2,48.0 L393.8,48.2 L393.5,48.3 L393.0,48.5 L392.8,48.5Z M380.2,61.8 L379.8,61.9 L379.2,61.9 L378.8,62.0 L378.2,62.0 L377.8,61.9 L377.2,61.9 L376.8,61.9 L376.2,61.9 L375.8,61.8 L375.2,61.8 L375.0,61.7 L374.5,61.6 L374.1,61.5 L373.8,61.4 L373.5,61.2 L373.1,61.0 L372.8,60.8 L372.5,60.5 L372.3,60.2 L372.1,60.0 L371.9,59.8 L371.7,59.5 L371.5,59.2 L371.3,58.8 L371.2,58.5 L371.1,58.0 L371.0,57.5 L371.1,57.0 L371.2,56.5 L371.3,56.2 L371.4,55.8 L371.5,55.5 L371.7,55.0 L371.9,54.8 L372.0,54.5 L372.2,54.2 L372.5,53.9 L372.8,53.6 L373.0,53.4 L373.2,53.1 L373.5,52.9 L373.8,52.7 L374.0,52.5 L374.4,52.2 L374.8,52.0 L375.0,51.9 L375.5,51.8 L375.8,51.7 L376.2,51.6 L376.8,51.5 L377.0,51.4 L377.5,51.3 L377.8,51.2 L378.2,51.1 L378.8,51.0 L379.1,51.0 L379.5,51.0 L380.0,51.0 L380.2,51.0 L380.8,51.1 L381.1,51.2 L381.5,51.4 L381.8,51.5 L382.2,51.7 L382.5,51.8 L383.0,52.0 L383.2,52.1 L383.7,52.2 L384.0,52.4 L384.2,52.5 L384.5,52.8 L384.8,53.0 L385.0,53.2 L385.2,53.5 L385.5,54.0 L385.6,54.2 L385.7,54.8 L385.7,55.2 L385.7,55.8 L385.6,56.2 L385.5,56.8 L385.5,57.0 L385.4,57.5 L385.2,57.8 L385.1,58.2 L384.9,58.5 L384.7,58.8 L384.5,59.0 L384.2,59.3 L384.0,59.5 L383.7,59.8 L383.4,60.0 L383.1,60.2 L382.8,60.5 L382.5,60.8 L382.2,60.9 L382.0,61.1 L381.8,61.3 L381.2,61.5 L381.0,61.6 L380.5,61.7 L380.2,61.8Z M421.5,85.0 L421.0,85.1 L420.5,85.1 L420.0,85.0 L419.6,85.0 L419.2,85.0 L418.8,84.9 L418.2,84.8 L417.9,84.8 L417.5,84.7 L417.0,84.6 L416.7,84.5 L416.2,84.4 L415.9,84.2 L415.5,84.1 L415.2,84.0 L414.9,83.8 L414.5,83.5 L414.2,83.3 L414.0,83.1 L413.8,82.9 L413.5,82.7 L413.1,82.5 L412.8,82.2 L412.5,82.0 L412.2,81.8 L412.0,81.5 L411.9,81.2 L411.8,80.9 L411.7,80.5 L411.6,80.0 L411.5,79.5 L411.5,79.2 L411.4,78.8 L411.4,78.2 L411.5,77.8 L411.5,77.5 L411.7,77.0 L411.8,76.8 L412.0,76.3 L412.1,76.0 L412.3,75.8 L412.5,75.4 L412.8,75.1 L413.0,74.8 L413.2,74.6 L413.5,74.4 L413.8,74.2 L414.1,74.0 L414.5,73.8 L414.8,73.7 L415.1,73.5 L415.5,73.3 L415.8,73.2 L416.2,73.0 L416.5,72.9 L416.8,72.8 L417.2,72.6 L417.6,72.5 L418.0,72.4 L418.5,72.3 L418.8,72.2 L419.2,72.2 L419.8,72.1 L420.2,72.2 L420.8,72.2 L421.0,72.3 L421.5,72.4 L422.0,72.5 L422.2,72.5 L422.8,72.6 L423.1,72.8 L423.5,72.9 L423.9,73.0 L424.2,73.1 L424.6,73.2 L425.0,73.4 L425.4,73.5 L425.8,73.6 L426.1,73.8 L426.5,73.9 L426.8,74.0 L427.2,74.2 L427.5,74.3 L427.8,74.5 L428.2,74.8 L428.5,74.9 L428.8,75.1 L429.0,75.3 L429.4,75.5 L429.7,75.8 L430.0,75.9 L430.2,76.1 L430.5,76.3 L430.8,76.6 L431.0,76.8 L431.2,77.1 L431.5,77.5 L431.7,77.8 L431.8,78.0 L432.0,78.5 L432.0,78.8 L432.0,79.2 L432.0,79.5 L431.8,80.0 L431.7,80.2 L431.5,80.6 L431.2,80.9 L431.0,81.2 L430.8,81.5 L430.5,81.8 L430.3,82.0 L430.1,82.2 L429.8,82.5 L429.5,82.8 L429.2,82.9 L429.0,83.0 L428.5,83.2 L428.2,83.3 L427.8,83.4 L427.3,83.5 L427.0,83.6 L426.5,83.7 L426.2,83.8 L425.8,84.0 L425.5,84.1 L425.0,84.2 L424.8,84.3 L424.2,84.4 L423.9,84.5 L423.5,84.6 L423.0,84.7 L422.8,84.8 L422.2,84.9 L421.8,85.0 L421.5,85.0Z M406.2,83.3 L405.8,83.4 L405.2,83.4 L404.9,83.2 L404.5,83.0 L404.2,82.9 L404.0,82.6 L403.8,82.3 L403.6,82.0 L403.5,81.8 L403.3,81.2 L403.2,80.9 L403.1,80.5 L403.0,80.0 L402.9,79.8 L402.8,79.2 L402.7,79.0 L402.7,78.5 L402.8,78.0 L402.8,77.8 L403.0,77.4 L403.2,77.1 L403.5,76.9 L403.8,76.7 L404.2,76.5 L404.5,76.4 L405.0,76.4 L405.3,76.5 L405.8,76.7 L406.0,77.0 L406.2,77.2 L406.5,77.5 L406.7,77.8 L406.8,78.0 L407.0,78.2 L407.2,78.7 L407.4,79.0 L407.5,79.5 L407.5,79.8 L407.5,80.2 L407.5,80.6 L407.5,81.0 L407.4,81.5 L407.3,82.0 L407.2,82.2 L407.0,82.7 L406.8,83.0 L406.5,83.2 L406.2,83.3Z M378.2,90.9 L377.8,91.0 L377.3,90.8 L377.0,90.6 L376.8,90.4 L376.2,90.3 L376.0,90.2 L375.5,90.2 L375.0,90.1 L374.5,90.1 L374.1,90.0 L373.8,89.9 L373.4,89.8 L373.0,89.5 L372.8,89.3 L372.6,89.0 L372.5,88.8 L372.5,88.5 L372.6,88.0 L372.7,87.5 L372.8,87.2 L372.8,86.8 L373.0,86.2 L373.0,86.0 L373.2,85.5 L373.3,85.2 L373.5,84.8 L373.6,84.5 L373.8,84.1 L373.9,83.8 L374.0,83.5 L374.2,83.0 L374.4,82.8 L374.8,82.5 L375.0,82.4 L375.5,82.3 L376.0,82.3 L376.5,82.3 L376.9,82.2 L377.2,82.2 L377.8,82.2 L378.2,82.2 L378.8,82.2 L379.2,82.2 L379.5,82.4 L379.8,82.5 L380.0,82.8 L380.2,83.2 L380.2,83.8 L380.2,84.2 L380.1,84.8 L380.1,85.2 L380.1,85.8 L380.1,86.2 L380.1,86.8 L380.0,87.2 L379.9,87.5 L379.7,87.8 L379.5,88.0 L379.2,88.3 L379.1,88.8 L379.0,89.0 L378.9,89.5 L378.8,89.9 L378.6,90.2 L378.5,90.6 L378.2,90.9Z M408.8,98.6 L408.2,98.6 L407.8,98.6 L407.2,98.6 L407.0,98.5 L406.5,98.4 L406.1,98.2 L405.8,98.2 L405.2,98.1 L404.8,98.0 L404.5,98.0 L404.0,97.8 L403.8,97.7 L403.3,97.5 L403.0,97.3 L402.8,97.1 L402.5,97.0 L402.2,96.8 L402.0,96.5 L401.8,96.2 L401.6,95.8 L401.5,95.2 L401.5,94.8 L401.6,94.2 L401.8,93.9 L402.0,93.5 L402.1,93.2 L402.4,93.0 L402.7,92.8 L403.0,92.6 L403.2,92.5 L403.7,92.2 L404.0,92.0 L404.2,91.8 L404.5,91.6 L404.8,91.3 L405.0,91.1 L405.2,90.9 L405.5,90.7 L405.9,90.5 L406.2,90.4 L406.8,90.3 L407.2,90.3 L407.8,90.3 L408.2,90.3 L408.8,90.3 L409.2,90.3 L409.8,90.3 L410.2,90.3 L410.8,90.3 L411.2,90.5 L411.5,90.6 L411.8,90.8 L412.0,91.0 L412.3,91.2 L412.5,91.5 L412.8,91.8 L413.0,92.0 L413.2,92.3 L413.5,92.5 L413.8,92.8 L414.0,93.0 L414.2,93.4 L414.3,93.8 L414.3,94.2 L414.2,94.5 L414.0,95.0 L413.8,95.2 L413.5,95.5 L413.2,95.7 L413.0,96.0 L412.8,96.2 L412.5,96.5 L412.3,96.8 L412.1,97.0 L411.9,97.2 L411.5,97.5 L411.2,97.6 L411.0,97.8 L410.5,98.0 L410.2,98.0 L409.8,98.2 L409.5,98.3 L409.0,98.5 L408.8,98.6Z M362.2,133.8 L361.8,133.9 L361.2,133.9 L360.8,133.8 L360.5,133.6 L360.2,133.4 L360.0,133.1 L359.8,132.8 L359.6,132.5 L359.5,132.2 L359.4,131.8 L359.3,131.2 L359.2,131.0 L359.1,130.5 L359.1,130.0 L359.0,129.5 L359.0,129.2 L359.0,129.0 L359.1,128.5 L359.2,128.2 L359.5,127.9 L359.8,127.7 L360.0,127.4 L360.3,127.2 L360.8,127.0 L361.0,126.9 L361.5,126.8 L361.9,126.8 L362.2,126.7 L362.8,126.7 L363.2,126.6 L363.8,126.5 L364.0,126.5 L364.5,126.4 L365.0,126.4 L365.5,126.5 L365.8,126.6 L366.0,126.8 L366.4,127.0 L366.7,127.2 L367.0,127.5 L367.2,127.8 L367.4,128.0 L367.6,128.2 L367.8,128.6 L367.9,129.0 L368.0,129.5 L368.0,130.0 L367.9,130.5 L367.8,131.0 L367.7,131.2 L367.5,131.6 L367.2,132.0 L367.1,132.2 L366.8,132.5 L366.6,132.8 L366.3,133.0 L366.0,133.2 L365.8,133.3 L365.2,133.5 L365.0,133.5 L364.5,133.6 L364.0,133.6 L363.5,133.5 L363.0,133.6 L362.5,133.7 L362.2,133.8Z M445.5,138.6 L445.0,138.7 L444.5,138.7 L444.0,138.7 L443.5,138.6 L443.2,138.5 L442.8,138.3 L442.3,138.2 L442.0,138.2 L441.5,138.2 L441.0,138.2 L440.5,138.2 L440.0,138.2 L439.5,138.2 L439.0,138.2 L438.5,138.2 L438.0,138.2 L437.5,138.2 L437.0,138.2 L436.5,138.1 L436.2,138.0 L435.8,137.8 L435.5,137.5 L435.3,137.2 L435.0,137.0 L434.8,136.8 L434.5,136.5 L434.3,136.2 L434.1,136.0 L433.8,135.8 L433.6,135.5 L433.4,135.2 L433.2,135.0 L433.0,134.6 L432.8,134.2 L432.7,134.0 L432.7,133.5 L432.8,133.2 L433.0,132.8 L433.2,132.5 L433.5,132.2 L433.7,132.0 L434.0,131.8 L434.2,131.6 L434.5,131.4 L434.8,131.2 L435.2,131.0 L435.5,130.9 L435.8,130.8 L436.2,130.6 L436.8,130.6 L437.2,130.5 L437.5,130.5 L438.0,130.5 L438.5,130.5 L439.0,130.5 L439.5,130.5 L440.0,130.5 L440.5,130.5 L440.8,130.5 L441.2,130.5 L441.8,130.5 L442.2,130.5 L442.8,130.5 L443.2,130.5 L443.8,130.5 L444.2,130.5 L444.8,130.6 L445.2,130.7 L445.6,130.8 L446.0,130.9 L446.4,131.0 L446.8,131.1 L447.0,131.3 L447.4,131.5 L447.7,131.8 L447.9,132.0 L448.1,132.2 L448.3,132.5 L448.5,133.0 L448.5,133.2 L448.6,133.8 L448.6,134.2 L448.6,134.8 L448.5,135.2 L448.4,135.5 L448.2,136.0 L448.1,136.2 L448.0,136.5 L447.8,136.9 L447.5,137.2 L447.2,137.4 L447.0,137.7 L446.8,137.9 L446.5,138.1 L446.2,138.2 L445.8,138.5 L445.5,138.6Z M372.5,132.6 L372.0,132.7 L371.6,132.5 L371.4,132.2 L371.5,131.8 L371.8,131.5 L372.0,131.5 L372.3,131.5 L372.7,131.8 L372.8,132.0 L372.8,132.3 L372.5,132.6Z M459.2,158.3 L458.8,158.3 L458.2,158.3 L458.0,158.2 L457.5,158.1 L457.2,157.9 L456.9,157.8 L456.5,157.5 L456.2,157.3 L456.0,157.1 L455.8,156.8 L455.5,156.5 L455.4,156.2 L455.2,155.9 L455.1,155.5 L455.1,155.0 L455.1,154.5 L455.2,154.0 L455.4,153.8 L455.5,153.5 L455.8,153.1 L456.0,152.8 L456.2,152.5 L456.5,152.3 L456.8,152.2 L457.1,152.0 L457.5,151.8 L457.9,151.8 L458.2,151.7 L458.8,151.7 L459.2,151.8 L459.5,151.8 L460.0,151.9 L460.2,152.0 L460.8,152.2 L461.0,152.4 L461.2,152.6 L461.5,152.8 L461.8,153.2 L461.9,153.5 L462.0,153.8 L462.2,154.2 L462.2,154.8 L462.2,155.2 L462.1,155.8 L462.0,156.0 L461.8,156.5 L461.6,156.8 L461.4,157.0 L461.1,157.2 L460.8,157.5 L460.5,157.8 L460.2,157.9 L460.0,158.1 L459.5,158.2 L459.2,158.3Z M380.2,173.3 L379.8,173.3 L379.2,173.3 L379.0,173.2 L378.5,173.2 L378.0,173.1 L377.5,173.0 L377.0,173.1 L376.5,173.2 L376.0,173.2 L375.8,173.3 L375.2,173.3 L374.8,173.3 L374.5,173.2 L374.0,173.2 L373.5,173.1 L373.1,173.0 L372.8,172.9 L372.3,172.8 L372.0,172.6 L371.8,172.4 L371.5,172.2 L371.2,172.0 L371.0,171.7 L370.8,171.4 L370.5,171.1 L370.2,170.8 L370.0,170.5 L369.8,170.2 L369.6,170.0 L369.4,169.8 L369.2,169.5 L369.0,169.0 L368.9,168.8 L368.8,168.2 L368.8,167.9 L368.7,167.5 L368.8,167.2 L368.8,166.8 L369.0,166.4 L369.2,166.0 L369.5,165.8 L369.7,165.5 L370.0,165.2 L370.2,165.0 L370.4,164.8 L370.7,164.5 L370.9,164.2 L371.2,164.0 L371.4,163.8 L371.8,163.5 L372.0,163.3 L372.2,163.2 L372.6,163.0 L373.0,162.8 L373.3,162.8 L373.8,162.6 L374.1,162.5 L374.5,162.4 L374.9,162.2 L375.2,162.2 L375.8,162.0 L376.0,162.0 L376.5,161.9 L377.0,161.9 L377.5,161.9 L378.0,161.9 L378.5,161.8 L379.0,161.8 L379.2,161.7 L379.8,161.6 L380.2,161.5 L380.5,161.5 L381.0,161.4 L381.5,161.4 L382.0,161.4 L382.5,161.5 L382.8,161.5 L383.2,161.6 L383.8,161.7 L384.0,161.8 L384.5,161.9 L384.8,162.0 L385.2,162.2 L385.5,162.3 L385.9,162.5 L386.2,162.7 L386.5,162.9 L386.8,163.1 L387.0,163.3 L387.2,163.5 L387.5,163.8 L387.8,164.0 L388.1,164.2 L388.4,164.5 L388.7,164.8 L388.9,165.0 L389.1,165.2 L389.2,165.6 L389.4,166.0 L389.5,166.5 L389.5,166.8 L389.6,167.2 L389.6,167.8 L389.5,168.1 L389.4,168.5 L389.2,168.8 L389.0,169.2 L388.8,169.4 L388.5,169.6 L388.2,169.8 L387.8,170.0 L387.5,170.1 L387.2,170.3 L386.8,170.5 L386.5,170.6 L386.2,170.8 L385.8,171.0 L385.5,171.1 L385.2,171.2 L384.8,171.5 L384.5,171.6 L384.2,171.8 L383.9,172.0 L383.5,172.2 L383.2,172.4 L383.0,172.5 L382.5,172.7 L382.2,172.8 L381.8,172.9 L381.4,173.0 L381.0,173.1 L380.5,173.2 L380.2,173.3Z M442.5,180.0 L442.0,180.0 L441.8,180.0 L441.3,179.8 L441.0,179.5 L440.8,179.3 L440.5,179.1 L440.2,178.8 L440.1,178.5 L439.9,178.2 L439.8,178.0 L439.5,177.5 L439.4,177.2 L439.2,177.0 L439.0,176.6 L438.8,176.3 L438.5,176.1 L438.2,175.9 L438.0,175.7 L437.5,175.5 L437.2,175.5 L436.8,175.5 L436.2,175.5 L435.8,175.4 L435.2,175.3 L434.9,175.2 L434.5,175.0 L434.2,174.9 L434.0,174.7 L433.8,174.5 L433.5,174.1 L433.3,173.8 L433.4,173.2 L433.6,173.0 L433.8,172.8 L434.1,172.5 L434.4,172.2 L434.7,172.0 L435.0,171.8 L435.2,171.5 L435.5,171.3 L435.8,171.1 L436.0,170.9 L436.2,170.7 L436.5,170.4 L436.8,170.2 L437.1,170.0 L437.5,169.8 L437.8,169.6 L438.0,169.5 L438.5,169.3 L438.8,169.2 L439.2,169.0 L439.5,168.9 L439.8,168.8 L440.2,168.6 L440.5,168.5 L441.0,168.3 L441.3,168.2 L441.8,168.1 L442.0,168.0 L442.4,167.8 L442.7,167.5 L442.9,167.2 L443.2,167.0 L443.4,166.8 L443.6,166.5 L443.9,166.2 L444.2,166.0 L444.5,165.8 L444.8,165.6 L445.0,165.5 L445.5,165.3 L445.8,165.1 L446.2,165.0 L446.5,164.9 L447.0,164.8 L447.5,164.8 L448.0,164.9 L448.4,165.0 L448.8,165.1 L449.0,165.2 L449.5,165.5 L449.8,165.7 L450.0,166.0 L450.1,166.2 L450.2,166.6 L450.3,167.0 L450.4,167.5 L450.3,168.0 L450.2,168.2 L450.1,168.8 L449.9,169.0 L449.8,169.4 L449.5,169.8 L449.3,170.0 L449.1,170.2 L448.9,170.5 L448.6,170.8 L448.3,171.0 L448.0,171.1 L447.7,171.2 L447.2,171.4 L447.0,171.5 L446.5,171.7 L446.2,171.8 L445.8,172.0 L445.5,172.1 L445.2,172.3 L445.0,172.5 L444.8,172.8 L444.5,173.2 L444.4,173.5 L444.3,174.0 L444.3,174.5 L444.3,175.0 L444.3,175.5 L444.2,175.8 L444.2,176.2 L444.0,176.8 L444.0,177.0 L443.8,177.5 L443.8,177.9 L443.7,178.2 L443.6,178.8 L443.5,179.0 L443.2,179.5 L443.0,179.7 L442.8,179.9 L442.5,180.0Z M388.2,190.3 L387.8,190.4 L387.2,190.4 L386.8,190.4 L386.2,190.4 L385.8,190.4 L385.2,190.4 L384.8,190.3 L384.2,190.3 L384.0,190.2 L383.5,190.1 L383.1,190.0 L382.8,189.8 L382.5,189.7 L382.1,189.5 L381.8,189.3 L381.5,189.1 L381.2,188.9 L381.0,188.7 L380.7,188.5 L380.5,188.2 L380.2,188.0 L380.0,187.7 L379.8,187.5 L379.5,187.2 L379.2,187.0 L379.0,186.7 L378.8,186.4 L378.5,186.2 L378.2,185.9 L378.0,185.6 L377.8,185.5 L377.2,185.3 L377.0,185.2 L376.5,185.2 L376.2,185.3 L375.8,185.3 L375.2,185.4 L375.0,185.5 L374.5,185.6 L374.1,185.8 L373.8,185.8 L373.2,186.0 L373.0,186.1 L372.5,186.2 L372.0,186.2 L371.5,186.2 L371.0,186.2 L370.5,186.1 L370.0,186.0 L369.5,186.0 L369.0,186.1 L368.5,186.2 L368.2,186.2 L367.8,186.3 L367.2,186.4 L366.8,186.4 L366.2,186.4 L365.8,186.3 L365.5,186.2 L365.0,186.1 L364.5,186.0 L364.2,186.0 L363.8,185.9 L363.3,185.8 L363.0,185.7 L362.7,185.5 L362.2,185.3 L362.0,185.1 L361.8,185.0 L361.4,184.8 L361.1,184.5 L360.8,184.3 L360.5,184.2 L360.2,184.0 L359.8,183.8 L359.5,183.6 L359.2,183.4 L359.0,183.2 L358.8,183.0 L358.5,182.6 L358.3,182.2 L358.2,181.9 L358.2,181.5 L358.1,181.0 L358.2,180.5 L358.3,180.2 L358.5,179.8 L358.6,179.5 L358.8,179.2 L359.1,179.0 L359.5,178.8 L359.8,178.6 L360.0,178.5 L360.5,178.3 L360.8,178.2 L361.2,178.1 L361.6,178.0 L362.0,177.9 L362.3,177.8 L362.8,177.6 L363.0,177.5 L363.4,177.2 L363.8,177.1 L364.0,177.0 L364.5,176.8 L364.8,176.8 L365.2,176.7 L365.8,176.7 L366.2,176.7 L366.8,176.7 L367.2,176.7 L367.6,176.8 L368.0,176.8 L368.5,176.9 L369.0,177.0 L369.2,177.0 L369.8,177.1 L370.2,177.1 L370.8,177.0 L371.0,177.0 L371.5,176.9 L372.0,176.9 L372.5,176.9 L373.0,176.9 L373.3,177.0 L373.8,177.1 L374.2,177.2 L374.5,177.3 L375.0,177.4 L375.3,177.5 L375.8,177.7 L376.0,177.8 L376.5,177.9 L376.8,178.0 L377.2,178.1 L377.8,178.2 L378.0,178.3 L378.5,178.4 L378.8,178.5 L379.2,178.6 L379.8,178.6 L380.2,178.5 L380.5,178.5 L381.0,178.4 L381.4,178.2 L381.8,178.1 L382.2,178.0 L382.5,177.9 L382.9,177.8 L383.2,177.6 L383.7,177.5 L384.0,177.4 L384.5,177.3 L385.0,177.3 L385.2,177.2 L385.8,177.2 L386.2,177.2 L386.8,177.1 L387.2,177.1 L387.6,177.0 L388.0,176.9 L388.5,176.8 L388.8,176.8 L389.2,176.6 L389.8,176.6 L390.0,176.5 L390.5,176.4 L391.0,176.3 L391.2,176.2 L391.8,176.1 L392.1,176.0 L392.5,175.8 L392.8,175.7 L393.2,175.5 L393.5,175.4 L393.8,175.2 L394.2,175.0 L394.5,174.9 L395.0,174.8 L395.2,174.7 L395.8,174.5 L396.0,174.5 L396.5,174.4 L397.0,174.4 L397.5,174.5 L398.0,174.5 L398.2,174.5 L398.8,174.5 L399.2,174.6 L399.8,174.7 L400.1,174.8 L400.5,174.8 L401.0,175.0 L401.2,175.1 L401.6,175.2 L402.0,175.4 L402.2,175.5 L402.8,175.7 L403.0,175.8 L403.5,176.0 L403.8,176.1 L404.2,176.2 L404.5,176.4 L404.9,176.5 L405.2,176.6 L405.8,176.7 L406.2,176.7 L406.8,176.7 L407.2,176.7 L407.8,176.7 L408.2,176.7 L408.5,176.8 L409.0,176.9 L409.3,177.0 L409.8,177.2 L410.0,177.3 L410.5,177.5 L410.8,177.5 L411.2,177.7 L411.5,177.9 L411.8,178.0 L412.1,178.2 L412.4,178.5 L412.6,178.8 L412.8,179.0 L413.0,179.3 L413.2,179.7 L413.4,180.0 L413.5,180.2 L413.8,180.7 L413.9,181.0 L414.0,181.4 L414.0,181.8 L414.0,182.0 L413.8,182.5 L413.7,182.8 L413.5,183.1 L413.3,183.5 L413.2,183.8 L413.0,184.1 L412.8,184.5 L412.7,184.8 L412.5,185.0 L412.2,185.4 L412.0,185.7 L411.8,185.9 L411.5,186.1 L411.2,186.3 L410.9,186.5 L410.5,186.7 L410.2,186.8 L409.8,186.9 L409.2,187.0 L409.0,187.0 L408.5,187.1 L408.0,187.1 L407.5,187.2 L407.0,187.2 L406.5,187.2 L406.0,187.1 L405.6,187.0 L405.2,186.9 L404.8,186.8 L404.5,186.7 L404.0,186.6 L403.5,186.6 L403.0,186.6 L402.5,186.6 L402.0,186.7 L401.8,186.8 L401.2,187.0 L401.0,187.1 L400.6,187.2 L400.2,187.4 L399.9,187.5 L399.5,187.6 L399.0,187.7 L398.5,187.7 L398.0,187.7 L397.5,187.7 L397.0,187.6 L396.5,187.6 L396.0,187.6 L395.5,187.6 L395.0,187.7 L394.7,187.8 L394.2,187.9 L394.0,188.0 L393.5,188.2 L393.2,188.3 L392.9,188.5 L392.5,188.7 L392.2,188.8 L391.8,189.0 L391.5,189.1 L391.2,189.2 L390.8,189.4 L390.5,189.6 L390.1,189.8 L389.8,189.9 L389.4,190.0 L389.0,190.1 L388.5,190.2 L388.2,190.3Z M462.5,185.8 L462.0,185.9 L461.5,186.0 L461.0,186.0 L460.5,185.9 L460.0,185.8 L459.8,185.7 L459.3,185.5 L459.0,185.4 L458.8,185.2 L458.4,185.0 L458.2,184.8 L458.0,184.5 L457.8,184.1 L457.6,183.8 L457.5,183.5 L457.4,183.0 L457.3,182.5 L457.4,182.0 L457.5,181.5 L457.6,181.2 L457.8,180.9 L458.0,180.5 L458.2,180.2 L458.5,180.0 L458.8,179.8 L459.0,179.6 L459.2,179.5 L459.8,179.3 L460.0,179.2 L460.5,179.1 L461.0,179.1 L461.5,179.2 L461.8,179.2 L462.2,179.4 L462.5,179.5 L462.9,179.8 L463.2,180.0 L463.5,180.2 L463.8,180.4 L464.0,180.8 L464.1,181.0 L464.3,181.2 L464.5,181.8 L464.6,182.0 L464.6,182.5 L464.7,183.0 L464.6,183.5 L464.5,184.0 L464.4,184.2 L464.2,184.6 L464.0,184.9 L463.8,185.2 L463.5,185.3 L463.2,185.5 L462.8,185.7 L462.5,185.8Z M419.8,185.3 L419.2,185.3 L419.0,185.2 L418.5,185.1 L418.2,185.0 L417.8,184.8 L417.6,184.5 L417.4,184.2 L417.2,184.0 L417.0,183.7 L416.8,183.2 L416.7,183.0 L416.6,182.5 L416.7,182.0 L416.8,181.8 L417.0,181.4 L417.2,181.2 L417.5,181.0 L417.9,180.8 L418.2,180.6 L418.8,180.5 L419.0,180.5 L419.5,180.5 L419.8,180.5 L420.2,180.7 L420.5,180.8 L420.8,181.0 L421.0,181.4 L421.2,181.8 L421.3,182.0 L421.4,182.5 L421.4,183.0 L421.4,183.5 L421.3,184.0 L421.2,184.2 L421.0,184.6 L420.8,184.8 L420.5,185.0 L420.0,185.2 L419.8,185.3Z M395.0,233.3 L394.5,233.3 L394.0,233.3 L393.8,233.2 L393.2,233.2 L392.8,233.1 L392.2,233.0 L391.9,233.0 L391.5,233.0 L391.0,232.9 L390.5,232.8 L390.2,232.7 L389.8,232.6 L389.5,232.4 L389.2,232.2 L388.8,232.0 L388.5,231.8 L388.2,231.6 L388.0,231.5 L387.5,231.2 L387.2,231.1 L387.0,231.0 L386.5,230.8 L386.2,230.7 L385.8,230.5 L385.5,230.4 L385.2,230.2 L385.0,230.0 L384.7,229.8 L384.5,229.5 L384.2,229.2 L384.0,228.8 L383.9,228.5 L383.8,228.2 L383.6,227.8 L383.6,227.2 L383.7,226.8 L383.8,226.4 L383.9,226.0 L384.0,225.6 L384.1,225.2 L384.2,224.9 L384.4,224.5 L384.5,224.0 L384.5,223.8 L384.6,223.2 L384.5,222.9 L384.4,222.5 L384.2,222.2 L384.0,221.8 L383.8,221.5 L383.5,221.3 L383.2,221.1 L383.0,220.9 L382.7,220.8 L382.2,220.6 L382.0,220.5 L381.5,220.3 L381.0,220.3 L380.5,220.3 L380.0,220.5 L379.8,220.6 L379.5,220.8 L379.1,221.0 L378.8,221.2 L378.5,221.4 L378.2,221.6 L377.9,221.8 L377.5,221.9 L377.2,222.0 L376.8,222.1 L376.2,222.2 L376.0,222.3 L375.5,222.4 L375.2,222.5 L374.8,222.6 L374.2,222.7 L373.9,222.8 L373.5,222.8 L373.0,222.8 L372.5,222.8 L372.0,222.8 L371.5,222.8 L371.0,222.8 L370.5,222.8 L370.2,222.7 L369.8,222.7 L369.2,222.6 L368.8,222.6 L368.2,222.6 L367.8,222.7 L367.5,222.8 L367.0,222.9 L366.5,223.0 L366.2,223.1 L365.8,223.1 L365.2,223.1 L364.8,223.1 L364.2,223.0 L364.0,223.0 L363.5,222.9 L363.0,222.8 L362.7,222.8 L362.2,222.7 L361.8,222.6 L361.3,222.5 L361.0,222.4 L360.5,222.3 L360.2,222.2 L359.8,222.0 L359.5,221.9 L359.2,221.7 L358.8,221.6 L358.2,221.5 L357.9,221.5 L357.5,221.5 L357.0,221.5 L356.5,221.3 L356.2,221.2 L355.8,221.1 L355.5,221.0 L355.1,220.8 L354.8,220.6 L354.5,220.4 L354.2,220.2 L354.0,220.0 L353.8,219.6 L353.6,219.2 L353.7,218.8 L353.8,218.5 L354.0,218.2 L354.2,218.0 L354.5,217.7 L354.8,217.5 L355.1,217.2 L355.4,217.0 L355.8,216.8 L356.0,216.6 L356.3,216.5 L356.8,216.3 L357.0,216.2 L357.4,216.0 L357.8,215.8 L358.0,215.7 L358.4,215.5 L358.8,215.3 L359.0,215.1 L359.2,215.0 L359.7,214.8 L360.0,214.6 L360.2,214.4 L360.6,214.2 L361.0,214.0 L361.2,213.9 L361.5,213.8 L362.0,213.5 L362.2,213.4 L362.7,213.2 L363.0,213.2 L363.5,213.0 L363.8,213.0 L364.2,212.9 L364.8,212.8 L365.0,212.7 L365.5,212.7 L366.0,212.6 L366.5,212.6 L367.0,212.6 L367.5,212.6 L368.0,212.6 L368.5,212.7 L369.0,212.7 L369.5,212.7 L370.0,212.7 L370.5,212.7 L371.0,212.7 L371.5,212.7 L372.0,212.6 L372.5,212.6 L373.0,212.6 L373.5,212.6 L374.0,212.7 L374.2,212.8 L374.8,212.9 L375.2,213.0 L375.5,213.0 L376.0,213.1 L376.5,213.2 L376.9,213.2 L377.2,213.3 L377.8,213.3 L378.2,213.3 L378.8,213.3 L379.2,213.3 L379.8,213.4 L380.1,213.5 L380.5,213.6 L380.8,213.8 L381.2,213.9 L381.5,214.0 L382.0,214.2 L382.3,214.2 L382.8,214.3 L383.2,214.3 L383.5,214.2 L384.0,214.1 L384.3,214.0 L384.8,213.8 L385.0,213.7 L385.4,213.5 L385.8,213.3 L386.0,213.2 L386.4,213.0 L386.8,212.8 L387.0,212.7 L387.5,212.6 L387.8,212.5 L388.2,212.3 L388.5,212.2 L388.9,212.0 L389.2,211.8 L389.5,211.7 L389.8,211.5 L390.1,211.2 L390.5,211.0 L390.8,210.9 L391.1,210.8 L391.5,210.6 L391.8,210.5 L392.2,210.3 L392.5,210.2 L393.0,210.1 L393.5,210.0 L393.8,209.9 L394.2,209.8 L394.5,209.7 L395.0,209.5 L395.2,209.5 L395.8,209.3 L396.1,209.2 L396.5,209.2 L397.0,209.1 L397.5,209.0 L397.8,209.0 L398.2,208.9 L398.8,208.8 L399.2,208.8 L399.5,208.7 L400.0,208.6 L400.5,208.5 L400.8,208.4 L401.2,208.2 L401.5,208.2 L402.0,208.0 L402.2,208.0 L402.8,207.9 L403.2,207.8 L403.8,207.8 L404.0,207.8 L404.5,207.6 L404.9,207.5 L405.2,207.4 L405.6,207.2 L406.0,207.1 L406.3,207.0 L406.8,206.9 L407.2,206.8 L407.5,206.7 L408.0,206.5 L408.2,206.4 L408.6,206.2 L409.0,206.1 L409.3,206.0 L409.8,205.8 L410.1,205.8 L410.5,205.7 L411.0,205.6 L411.4,205.5 L411.8,205.5 L412.2,205.4 L412.8,205.4 L413.1,205.5 L413.5,205.6 L413.9,205.8 L414.2,205.9 L414.5,206.0 L414.8,206.2 L415.2,206.5 L415.5,206.8 L415.7,207.0 L415.9,207.2 L416.0,207.6 L416.1,208.0 L416.1,208.5 L416.1,209.0 L416.0,209.4 L415.9,209.8 L415.8,210.2 L415.7,210.5 L415.5,210.9 L415.3,211.2 L415.2,211.5 L415.0,211.9 L414.8,212.2 L414.6,212.5 L414.5,212.8 L414.3,213.2 L414.2,213.5 L414.1,214.0 L414.0,214.3 L414.0,214.8 L413.9,215.2 L413.8,215.8 L413.7,216.0 L413.5,216.5 L413.4,216.8 L413.2,217.0 L413.0,217.5 L412.8,217.8 L412.7,218.0 L412.5,218.3 L412.2,218.6 L412.0,218.9 L411.8,219.1 L411.5,219.3 L411.2,219.5 L410.9,219.8 L410.5,219.9 L410.2,220.0 L409.8,220.1 L409.2,220.1 L408.8,220.1 L408.4,220.0 L408.0,219.9 L407.7,219.8 L407.2,219.6 L407.0,219.5 L406.5,219.4 L406.0,219.4 L405.5,219.5 L405.2,219.6 L404.8,219.8 L404.5,219.9 L404.2,220.0 L403.8,220.2 L403.5,220.3 L403.1,220.5 L402.8,220.7 L402.5,220.8 L402.1,221.0 L401.8,221.2 L401.5,221.3 L401.0,221.5 L400.8,221.6 L400.2,221.7 L400.0,221.8 L399.5,221.9 L399.0,222.0 L398.8,222.1 L398.4,222.2 L398.1,222.5 L397.8,222.8 L397.7,223.0 L397.6,223.5 L397.8,223.8 L398.0,224.0 L398.4,224.2 L398.8,224.4 L399.0,224.5 L399.4,224.8 L399.7,225.0 L399.9,225.2 L400.1,225.5 L400.3,225.8 L400.5,226.2 L400.6,226.5 L400.7,227.0 L400.8,227.2 L400.8,227.8 L400.8,228.2 L400.8,228.7 L400.6,229.0 L400.5,229.3 L400.2,229.7 L400.0,230.0 L399.8,230.2 L399.6,230.5 L399.4,230.8 L399.1,231.0 L398.8,231.2 L398.5,231.4 L398.2,231.5 L397.8,231.7 L397.5,231.8 L397.1,232.0 L396.8,232.2 L396.5,232.4 L396.2,232.6 L396.0,232.8 L395.8,233.0 L395.2,233.2 L395.0,233.3Z M421.8,219.5 L421.2,219.6 L420.9,219.5 L420.6,219.2 L420.4,219.0 L420.2,218.6 L420.2,218.2 L420.1,217.8 L420.0,217.2 L420.0,216.8 L420.1,216.2 L420.1,215.8 L420.2,215.2 L420.3,215.0 L420.4,214.5 L420.5,214.0 L420.6,213.8 L420.9,213.5 L421.2,213.4 L421.8,213.4 L422.0,213.5 L422.4,213.8 L422.7,214.0 L422.8,214.2 L423.0,214.6 L423.2,215.0 L423.3,215.2 L423.5,215.8 L423.6,216.0 L423.7,216.5 L423.7,217.0 L423.5,217.5 L423.3,217.8 L423.1,218.0 L422.9,218.2 L422.7,218.5 L422.5,218.8 L422.2,219.1 L422.0,219.4 L421.8,219.5Z M439.0,223.5 L438.5,223.6 L438.0,223.7 L437.5,223.7 L437.0,223.7 L436.5,223.7 L436.0,223.7 L435.5,223.7 L435.0,223.7 L434.5,223.7 L434.0,223.6 L433.5,223.5 L433.2,223.5 L432.8,223.4 L432.2,223.3 L432.0,223.2 L431.5,223.1 L431.0,223.0 L430.8,222.9 L430.2,222.8 L430.0,222.7 L429.6,222.5 L429.2,222.3 L429.0,222.1 L428.8,221.9 L428.5,221.6 L428.3,221.2 L428.1,221.0 L428.0,220.8 L427.8,220.4 L427.5,220.0 L427.4,219.8 L427.2,219.5 L427.0,219.0 L426.9,218.8 L426.8,218.2 L426.8,217.8 L427.0,217.3 L427.2,217.0 L427.4,216.8 L427.6,216.5 L427.9,216.2 L428.2,216.0 L428.5,215.8 L428.8,215.6 L429.0,215.4 L429.3,215.2 L429.7,215.0 L430.0,214.8 L430.2,214.7 L430.8,214.5 L431.0,214.4 L431.5,214.3 L431.8,214.2 L432.2,214.1 L432.7,214.0 L433.0,213.9 L433.5,213.9 L434.0,213.8 L434.5,213.8 L435.0,213.8 L435.5,213.8 L436.0,213.8 L436.5,213.8 L437.0,213.8 L437.5,213.8 L438.0,213.8 L438.5,213.8 L439.0,213.9 L439.3,214.0 L439.8,214.2 L440.0,214.3 L440.4,214.5 L440.8,214.7 L441.0,214.8 L441.4,215.0 L441.8,215.1 L442.1,215.2 L442.5,215.4 L442.8,215.5 L443.2,215.8 L443.5,216.0 L443.8,216.2 L444.0,216.5 L444.1,216.8 L444.3,217.0 L444.5,217.5 L444.6,217.8 L444.8,218.2 L444.9,218.5 L445.0,219.0 L444.9,219.5 L444.8,220.0 L444.6,220.2 L444.4,220.5 L444.2,220.8 L443.9,221.0 L443.7,221.2 L443.4,221.5 L443.1,221.8 L442.8,222.0 L442.5,222.2 L442.2,222.4 L442.0,222.5 L441.5,222.7 L441.2,222.8 L440.8,223.0 L440.5,223.1 L440.1,223.2 L439.8,223.4 L439.2,223.5 L439.0,223.5Z M406.0,264.5 L405.5,264.6 L405.0,264.7 L404.5,264.7 L404.0,264.7 L403.5,264.6 L403.1,264.5 L402.8,264.4 L402.2,264.3 L402.0,264.2 L401.5,264.0 L401.2,263.9 L400.9,263.8 L400.5,263.6 L400.2,263.5 L399.8,263.3 L399.5,263.2 L399.2,263.0 L398.8,262.8 L398.5,262.6 L398.2,262.3 L398.0,262.1 L397.8,261.8 L397.6,261.5 L397.4,261.2 L397.2,260.9 L397.1,260.5 L397.0,260.2 L396.8,259.8 L396.6,259.5 L396.5,259.2 L396.3,258.8 L396.2,258.5 L396.2,258.0 L396.2,257.5 L396.2,257.0 L396.3,256.8 L396.4,256.2 L396.5,256.0 L396.6,255.5 L396.6,255.0 L396.6,254.5 L396.5,254.1 L396.4,253.8 L396.2,253.4 L396.1,253.0 L395.9,252.8 L395.8,252.5 L395.5,252.1 L395.2,251.9 L395.0,251.7 L394.8,251.5 L394.3,251.2 L394.0,251.1 L393.6,251.0 L393.2,250.9 L392.8,250.8 L392.5,250.7 L392.0,250.6 L391.7,250.5 L391.2,250.3 L391.0,250.2 L390.5,250.0 L390.2,249.9 L389.8,249.8 L389.5,249.7 L389.0,249.6 L388.5,249.7 L388.2,249.8 L387.8,249.9 L387.5,250.1 L387.2,250.2 L386.9,250.5 L386.7,250.8 L386.5,251.0 L386.2,251.3 L386.0,251.6 L385.8,252.0 L385.5,252.2 L385.3,252.5 L385.0,252.8 L384.8,253.0 L384.5,253.2 L384.3,253.5 L384.1,253.8 L383.9,254.0 L383.7,254.2 L383.5,254.6 L383.2,254.9 L383.0,255.2 L382.8,255.4 L382.5,255.6 L382.2,255.8 L382.0,256.0 L381.7,256.2 L381.4,256.5 L381.2,256.8 L380.9,257.0 L380.6,257.2 L380.2,257.4 L380.0,257.6 L379.6,257.8 L379.2,257.9 L378.8,258.0 L378.5,258.1 L378.0,258.2 L377.5,258.2 L377.2,258.3 L376.8,258.3 L376.2,258.3 L375.8,258.3 L375.2,258.3 L374.8,258.3 L374.2,258.4 L373.8,258.5 L373.5,258.5 L373.0,258.6 L372.5,258.6 L372.0,258.7 L371.5,258.7 L371.0,258.7 L370.5,258.6 L370.0,258.5 L369.8,258.4 L369.4,258.2 L369.0,258.1 L368.8,257.9 L368.4,257.8 L368.0,257.6 L367.8,257.4 L367.3,257.2 L367.0,257.1 L366.8,257.0 L366.4,256.8 L366.0,256.5 L365.8,256.3 L365.5,256.1 L365.2,255.9 L365.0,255.7 L364.8,255.4 L364.5,255.1 L364.2,254.8 L364.0,254.5 L363.8,254.2 L363.7,254.0 L363.5,253.7 L363.3,253.2 L363.2,253.0 L363.1,252.5 L363.0,252.2 L362.9,251.8 L362.8,251.2 L362.7,251.0 L362.7,250.5 L362.6,250.0 L362.6,249.5 L362.7,249.0 L362.8,248.7 L362.9,248.2 L363.0,247.9 L363.2,247.5 L363.3,247.2 L363.5,247.0 L363.8,246.7 L364.0,246.4 L364.2,246.2 L364.5,246.0 L364.8,245.8 L365.1,245.5 L365.4,245.2 L365.7,245.0 L366.0,244.8 L366.2,244.6 L366.5,244.3 L366.8,244.1 L367.0,243.9 L367.3,243.8 L367.6,243.5 L368.0,243.2 L368.2,243.1 L368.5,242.9 L368.9,242.8 L369.2,242.6 L369.6,242.5 L370.0,242.4 L370.5,242.3 L370.9,242.2 L371.2,242.2 L371.8,242.2 L372.2,242.2 L372.8,242.1 L373.2,242.0 L373.5,242.0 L374.0,241.8 L374.2,241.7 L374.6,241.5 L375.0,241.4 L375.5,241.3 L376.0,241.3 L376.5,241.4 L377.0,241.5 L377.2,241.5 L377.8,241.6 L378.2,241.7 L378.8,241.7 L379.2,241.7 L379.8,241.6 L380.0,241.5 L380.5,241.3 L380.8,241.2 L381.2,241.1 L381.8,241.0 L382.0,241.0 L382.5,240.9 L383.0,240.9 L383.5,240.8 L384.0,240.8 L384.5,240.8 L385.0,240.8 L385.5,240.9 L386.0,240.9 L386.4,241.0 L386.8,241.0 L387.2,241.1 L387.8,241.2 L388.2,241.2 L388.5,241.3 L389.0,241.3 L389.5,241.4 L389.8,241.5 L390.2,241.7 L390.5,241.8 L391.0,241.9 L391.2,242.0 L391.7,242.2 L392.0,242.4 L392.2,242.5 L392.6,242.8 L392.9,243.0 L393.2,243.2 L393.5,243.5 L393.7,243.8 L394.0,244.0 L394.2,244.1 L394.5,244.3 L394.9,244.5 L395.2,244.6 L395.5,244.8 L396.0,245.0 L396.2,245.1 L396.5,245.3 L396.8,245.5 L397.1,245.8 L397.4,246.0 L397.7,246.2 L398.0,246.5 L398.2,246.7 L398.5,247.0 L398.8,247.2 L399.0,247.5 L399.2,247.7 L399.5,248.0 L399.8,248.2 L400.0,248.5 L400.1,248.8 L400.3,249.0 L400.5,249.4 L400.8,249.7 L401.0,249.8 L401.5,249.9 L402.0,249.9 L402.5,249.9 L403.0,249.9 L403.5,249.9 L403.8,250.0 L404.2,250.1 L404.8,250.2 L405.0,250.3 L405.5,250.4 L406.0,250.5 L406.2,250.6 L406.8,250.7 L407.0,250.8 L407.5,250.9 L407.8,251.0 L408.2,251.1 L408.8,251.1 L409.2,251.1 L409.8,251.1 L410.2,251.1 L410.8,251.2 L411.2,251.2 L411.5,251.3 L412.0,251.3 L412.5,251.3 L412.8,251.2 L413.2,251.1 L413.5,251.0 L414.0,250.8 L414.2,250.7 L414.8,250.6 L415.0,250.5 L415.5,250.4 L416.0,250.2 L416.2,250.2 L416.8,250.1 L417.1,250.0 L417.5,249.9 L418.0,249.8 L418.5,249.8 L419.0,249.8 L419.5,249.8 L420.0,249.8 L420.5,249.9 L421.0,249.9 L421.5,249.9 L422.0,250.0 L422.2,250.1 L422.7,250.2 L423.0,250.4 L423.2,250.6 L423.5,250.8 L423.8,251.0 L424.1,251.2 L424.2,251.5 L424.5,252.0 L424.5,252.2 L424.5,252.8 L424.5,253.0 L424.3,253.5 L424.1,253.8 L423.9,254.0 L423.7,254.2 L423.4,254.5 L423.1,254.8 L422.8,255.0 L422.5,255.2 L422.2,255.4 L422.0,255.6 L421.8,255.8 L421.5,256.0 L421.2,256.2 L420.9,256.5 L420.7,256.8 L420.4,257.0 L420.2,257.2 L419.8,257.5 L419.5,257.6 L419.1,257.8 L418.8,257.8 L418.2,257.9 L417.9,258.0 L417.5,258.1 L417.0,258.2 L416.8,258.3 L416.2,258.5 L416.0,258.5 L415.5,258.7 L415.2,258.8 L414.8,258.9 L414.3,259.0 L414.0,259.1 L413.6,259.2 L413.2,259.4 L413.0,259.6 L412.7,259.8 L412.4,260.0 L412.1,260.2 L411.9,260.5 L411.6,260.8 L411.4,261.0 L411.1,261.2 L410.8,261.5 L410.5,261.7 L410.2,261.9 L410.0,262.1 L409.7,262.2 L409.4,262.5 L409.0,262.8 L408.8,262.9 L408.5,263.1 L408.2,263.3 L408.0,263.5 L407.6,263.8 L407.2,264.0 L407.0,264.1 L406.7,264.2 L406.2,264.4 L406.0,264.5Z M369.2,273.3 L368.8,273.4 L368.2,273.4 L367.8,273.4 L367.2,273.3 L367.0,273.2 L366.5,273.1 L366.1,273.0 L365.8,272.9 L365.2,272.8 L365.0,272.7 L364.5,272.5 L364.2,272.4 L363.9,272.2 L363.5,272.0 L363.2,271.8 L363.0,271.6 L362.8,271.4 L362.5,271.2 L362.2,270.8 L362.1,270.5 L361.9,270.2 L361.8,269.8 L361.6,269.5 L361.5,269.1 L361.4,268.8 L361.4,268.2 L361.5,267.8 L361.6,267.5 L361.8,267.2 L362.0,266.8 L362.2,266.5 L362.3,266.2 L362.5,266.0 L362.8,265.8 L363.0,265.5 L363.2,265.2 L363.5,264.9 L363.8,264.6 L364.0,264.4 L364.2,264.1 L364.5,263.9 L364.8,263.8 L365.2,263.6 L365.8,263.5 L366.0,263.5 L366.5,263.5 L367.0,263.5 L367.5,263.4 L368.0,263.3 L368.2,263.2 L368.8,263.2 L369.2,263.1 L369.8,263.2 L370.2,263.2 L370.5,263.3 L371.0,263.4 L371.5,263.4 L371.8,263.5 L372.2,263.7 L372.5,263.8 L372.8,264.0 L373.0,264.2 L373.2,264.5 L373.5,265.0 L373.5,265.2 L373.6,265.8 L373.7,266.2 L373.7,266.8 L373.8,267.0 L373.8,267.5 L373.8,268.0 L373.9,268.5 L374.0,269.0 L374.0,269.5 L374.0,270.0 L373.8,270.5 L373.7,270.8 L373.5,271.2 L373.3,271.5 L373.2,271.8 L372.9,272.0 L372.6,272.2 L372.2,272.5 L372.0,272.6 L371.5,272.7 L371.2,272.8 L370.8,272.9 L370.2,273.0 L370.0,273.1 L369.5,273.2 L369.2,273.3Z M444.0,288.5 L443.5,288.5 L443.0,288.5 L442.7,288.5 L442.2,288.4 L441.8,288.2 L441.5,288.1 L441.2,287.9 L441.0,287.7 L440.8,287.4 L440.5,287.0 L440.3,286.8 L440.2,286.5 L440.0,286.0 L440.0,285.8 L439.9,285.2 L439.9,284.8 L440.0,284.3 L440.1,284.0 L440.3,283.8 L440.5,283.4 L440.8,283.0 L441.0,282.8 L441.2,282.5 L441.4,282.2 L441.7,282.0 L442.0,281.8 L442.2,281.6 L442.5,281.5 L443.0,281.3 L443.2,281.2 L443.8,281.0 L444.0,281.0 L444.5,280.9 L445.0,280.9 L445.5,280.9 L446.0,281.0 L446.2,281.1 L446.6,281.2 L447.0,281.5 L447.2,281.7 L447.5,282.0 L447.7,282.2 L447.8,282.5 L448.0,282.9 L448.2,283.2 L448.2,283.5 L448.4,284.0 L448.4,284.5 L448.3,285.0 L448.2,285.2 L448.1,285.8 L447.9,286.0 L447.8,286.4 L447.5,286.8 L447.4,287.0 L447.2,287.2 L446.9,287.5 L446.6,287.8 L446.2,288.0 L446.0,288.1 L445.6,288.2 L445.2,288.4 L444.8,288.4 L444.2,288.5 L444.0,288.5Z M367.0,288.3 L366.6,288.2 L366.2,288.2 L365.9,288.0 L365.5,287.8 L365.2,287.6 L365.0,287.4 L364.8,287.2 L364.3,287.0 L364.0,286.9 L363.5,286.8 L363.0,286.9 L362.5,287.0 L362.2,287.1 L361.8,287.1 L361.2,287.1 L361.0,287.0 L360.7,286.8 L360.6,286.2 L360.8,286.0 L361.0,285.5 L361.2,285.2 L361.3,285.0 L361.5,284.6 L361.7,284.2 L361.8,284.0 L362.0,283.5 L362.1,283.2 L362.3,283.0 L362.5,282.7 L362.8,282.4 L363.0,282.2 L363.5,282.0 L364.0,282.1 L364.4,282.2 L364.8,282.4 L365.0,282.5 L365.5,282.6 L366.0,282.7 L366.5,282.5 L366.8,282.5 L367.2,282.3 L367.5,282.2 L368.0,282.2 L368.5,282.1 L369.0,282.0 L369.2,282.0 L369.8,281.9 L370.2,281.9 L370.8,281.9 L371.0,282.0 L371.5,282.1 L372.0,282.2 L372.5,282.2 L373.0,282.1 L373.5,282.2 L373.8,282.3 L374.2,282.5 L374.5,282.7 L374.8,283.0 L375.0,283.2 L375.2,283.5 L375.5,283.7 L375.8,283.9 L376.0,284.2 L376.2,284.4 L376.5,284.7 L376.7,285.0 L376.8,285.2 L376.9,285.8 L376.9,286.2 L376.8,286.5 L376.5,286.8 L376.2,287.0 L375.8,287.2 L375.5,287.3 L375.0,287.3 L374.5,287.3 L374.1,287.2 L373.8,287.2 L373.2,287.2 L372.8,287.1 L372.2,287.1 L371.8,287.1 L371.2,287.1 L370.8,287.2 L370.2,287.2 L369.9,287.2 L369.5,287.3 L369.0,287.5 L368.8,287.6 L368.3,287.8 L368.0,287.9 L367.8,288.0 L367.2,288.2 L367.0,288.3Z M402.2,294.3 L401.8,294.4 L401.2,294.5 L400.8,294.5 L400.2,294.4 L399.8,294.4 L399.2,294.4 L398.8,294.3 L398.2,294.3 L398.0,294.2 L397.5,294.1 L397.2,294.0 L396.8,293.8 L396.5,293.6 L396.2,293.4 L396.0,293.2 L395.6,293.0 L395.3,292.8 L395.0,292.5 L394.8,292.3 L394.5,292.1 L394.2,291.8 L394.0,291.6 L393.8,291.3 L393.6,291.0 L393.4,290.8 L393.2,290.5 L393.0,290.0 L393.0,289.8 L393.0,289.2 L393.0,289.0 L393.1,288.5 L393.2,288.2 L393.5,287.8 L393.6,287.5 L393.8,287.2 L394.0,286.9 L394.2,286.5 L394.3,286.2 L394.5,285.9 L394.7,285.5 L394.9,285.2 L395.0,285.0 L395.3,284.8 L395.5,284.5 L395.9,284.2 L396.2,284.1 L396.5,284.0 L397.0,283.9 L397.5,283.8 L397.8,283.8 L398.2,283.7 L398.8,283.6 L399.0,283.5 L399.5,283.4 L400.0,283.3 L400.5,283.3 L401.0,283.3 L401.5,283.4 L401.8,283.5 L402.1,283.8 L402.4,284.0 L402.7,284.2 L402.9,284.5 L403.2,284.8 L403.5,285.0 L403.8,285.1 L404.0,285.3 L404.5,285.5 L404.8,285.6 L405.0,285.8 L405.3,286.0 L405.5,286.3 L405.7,286.8 L405.8,287.0 L405.9,287.5 L405.8,288.0 L405.8,288.5 L405.8,288.9 L405.7,289.2 L405.6,289.8 L405.5,290.2 L405.5,290.5 L405.4,291.0 L405.2,291.2 L405.0,291.7 L404.8,292.0 L404.6,292.2 L404.4,292.5 L404.1,292.8 L403.9,293.0 L403.7,293.2 L403.4,293.5 L403.1,293.8 L402.8,294.0 L402.5,294.1 L402.2,294.3Z M400.8,314.1 L400.2,314.2 L399.8,314.2 L399.2,314.1 L399.0,314.0 L398.5,313.8 L398.2,313.8 L397.8,313.6 L397.2,313.5 L397.0,313.5 L396.5,313.4 L396.0,313.3 L395.5,313.3 L395.0,313.3 L394.8,313.2 L394.2,313.1 L393.9,313.0 L393.5,312.9 L393.2,312.7 L392.8,312.5 L392.5,312.4 L392.2,312.2 L391.8,312.0 L391.5,311.9 L391.2,311.7 L391.0,311.5 L390.6,311.2 L390.3,311.0 L390.0,310.8 L389.8,310.7 L389.5,310.5 L389.2,310.2 L388.9,310.0 L388.7,309.8 L388.5,309.5 L388.2,309.1 L388.0,308.8 L387.8,308.6 L387.5,308.4 L387.1,308.2 L386.8,308.1 L386.3,308.0 L386.0,307.9 L385.5,307.8 L385.0,307.8 L384.8,307.7 L384.2,307.6 L383.8,307.5 L383.2,307.5 L382.8,307.6 L382.4,307.8 L382.0,307.9 L381.7,308.0 L381.2,308.1 L380.8,308.2 L380.5,308.2 L380.0,308.3 L379.5,308.4 L379.0,308.4 L378.7,308.5 L378.2,308.6 L377.8,308.8 L377.5,308.8 L377.0,309.0 L376.8,309.0 L376.2,309.1 L375.8,309.2 L375.2,309.2 L374.8,309.2 L374.2,309.1 L373.8,309.1 L373.2,309.0 L372.8,309.0 L372.5,309.0 L372.0,309.0 L371.5,308.9 L371.0,308.9 L370.5,308.8 L370.2,308.7 L369.8,308.6 L369.5,308.5 L369.0,308.3 L368.8,308.2 L368.2,308.1 L367.8,308.0 L367.5,308.0 L367.0,308.0 L366.5,308.0 L366.2,308.0 L365.8,308.1 L365.3,308.2 L365.0,308.4 L364.7,308.5 L364.3,308.8 L364.0,308.9 L363.8,309.1 L363.4,309.2 L363.0,309.5 L362.8,309.6 L362.5,309.8 L362.0,310.0 L361.8,310.1 L361.4,310.2 L361.0,310.4 L360.8,310.5 L360.2,310.7 L359.8,310.7 L359.5,310.8 L359.0,310.8 L358.8,310.7 L358.2,310.7 L357.8,310.6 L357.2,310.5 L356.8,310.5 L356.5,310.5 L356.0,310.4 L355.5,310.3 L355.2,310.2 L354.8,310.1 L354.4,310.0 L354.0,309.8 L353.8,309.7 L353.2,309.5 L353.0,309.4 L352.8,309.2 L352.5,309.0 L352.2,308.7 L352.0,308.5 L351.8,308.2 L351.5,307.8 L351.2,307.5 L351.0,307.2 L350.9,307.0 L350.7,306.8 L350.5,306.3 L350.4,306.0 L350.2,305.7 L350.1,305.2 L350.0,304.9 L349.9,304.5 L349.9,304.0 L350.0,303.5 L350.0,303.2 L350.2,302.8 L350.3,302.5 L350.5,302.1 L350.8,301.8 L350.9,301.5 L351.1,301.2 L351.3,301.0 L351.5,300.7 L351.8,300.4 L352.0,300.1 L352.2,299.9 L352.5,299.6 L352.8,299.4 L353.0,299.2 L353.4,299.0 L353.8,298.8 L354.0,298.7 L354.4,298.5 L354.8,298.3 L355.0,298.2 L355.5,298.0 L355.8,297.9 L356.0,297.8 L356.5,297.6 L356.8,297.5 L357.2,297.3 L357.8,297.3 L358.2,297.3 L358.8,297.3 L359.2,297.4 L359.8,297.5 L360.0,297.5 L360.5,297.6 L361.0,297.6 L361.5,297.6 L362.0,297.7 L362.2,297.8 L362.8,297.8 L363.2,297.9 L363.8,298.0 L364.2,298.0 L364.8,297.9 L365.2,297.8 L365.5,297.8 L366.0,297.6 L366.4,297.5 L366.8,297.4 L367.2,297.2 L367.5,297.1 L367.9,297.0 L368.2,296.9 L368.6,296.8 L369.0,296.6 L369.2,296.5 L369.8,296.3 L370.0,296.2 L370.5,296.1 L371.0,296.0 L371.5,296.0 L372.0,296.0 L372.5,296.1 L373.0,296.1 L373.5,296.2 L373.9,296.2 L374.2,296.3 L374.8,296.3 L375.2,296.4 L375.8,296.5 L376.0,296.5 L376.5,296.6 L376.8,296.8 L377.2,296.9 L377.5,297.0 L377.9,297.2 L378.2,297.4 L378.5,297.5 L379.0,297.8 L379.2,297.9 L379.6,298.0 L380.0,298.2 L380.2,298.3 L380.7,298.5 L381.0,298.6 L381.2,298.8 L381.6,299.0 L381.9,299.2 L382.1,299.5 L382.3,299.8 L382.5,300.0 L382.8,300.4 L382.9,300.8 L383.1,301.0 L383.2,301.3 L383.5,301.6 L383.8,301.9 L384.0,302.1 L384.2,302.3 L384.7,302.5 L385.0,302.6 L385.5,302.7 L386.0,302.7 L386.5,302.7 L387.0,302.7 L387.5,302.7 L388.0,302.7 L388.2,302.8 L388.8,302.8 L389.2,302.8 L389.8,302.8 L390.0,302.7 L390.5,302.7 L391.0,302.6 L391.5,302.6 L392.0,302.5 L392.2,302.5 L392.8,302.3 L393.2,302.2 L393.5,302.2 L394.0,302.1 L394.5,302.1 L395.0,302.0 L395.4,302.0 L395.8,301.9 L396.2,301.8 L396.8,301.8 L397.0,301.8 L397.5,301.7 L397.8,301.8 L398.2,301.8 L398.8,302.0 L399.0,302.0 L399.5,302.2 L399.8,302.3 L400.2,302.4 L400.7,302.5 L401.0,302.6 L401.5,302.6 L402.0,302.7 L402.2,302.8 L402.8,302.9 L403.2,302.9 L403.8,302.9 L404.2,303.0 L404.5,303.0 L405.0,303.2 L405.2,303.3 L405.7,303.5 L406.0,303.7 L406.2,303.8 L406.7,304.0 L407.0,304.1 L407.2,304.3 L407.7,304.5 L408.0,304.8 L408.2,305.0 L408.5,305.2 L408.6,305.5 L408.7,306.0 L408.8,306.2 L408.8,306.8 L408.9,307.2 L408.9,307.8 L408.9,308.2 L408.8,308.8 L408.7,309.0 L408.5,309.5 L408.4,309.8 L408.2,310.0 L408.0,310.4 L407.8,310.7 L407.5,311.0 L407.3,311.2 L407.0,311.5 L406.8,311.7 L406.5,311.9 L406.2,312.1 L406.0,312.3 L405.7,312.5 L405.3,312.8 L405.0,312.9 L404.5,313.0 L404.2,313.0 L403.8,313.1 L403.2,313.1 L402.8,313.2 L402.5,313.3 L402.0,313.5 L401.8,313.6 L401.5,313.8 L401.0,314.0 L400.8,314.1Z M421.5,315.5 L421.2,315.5 L420.8,315.5 L420.2,315.4 L419.8,315.2 L419.5,315.2 L419.0,315.1 L418.6,315.0 L418.2,314.9 L417.8,314.8 L417.5,314.8 L417.0,314.6 L416.8,314.4 L416.5,314.2 L416.2,314.0 L415.9,313.8 L415.7,313.5 L415.5,313.2 L415.2,312.9 L415.0,312.5 L414.8,312.2 L414.7,312.0 L414.5,311.6 L414.3,311.2 L414.2,310.9 L414.2,310.5 L414.2,310.0 L414.2,309.5 L414.3,309.2 L414.4,308.8 L414.5,308.2 L414.5,308.0 L414.7,307.5 L414.8,307.2 L415.0,307.0 L415.2,306.6 L415.5,306.4 L415.8,306.1 L416.0,305.9 L416.2,305.7 L416.6,305.5 L417.0,305.3 L417.2,305.1 L417.5,305.0 L418.0,304.8 L418.2,304.7 L418.8,304.5 L419.0,304.4 L419.5,304.3 L419.8,304.2 L420.2,304.2 L420.8,304.2 L421.0,304.3 L421.5,304.3 L422.0,304.4 L422.5,304.5 L422.8,304.5 L423.2,304.6 L423.7,304.8 L424.0,304.8 L424.4,305.0 L424.8,305.1 L425.0,305.3 L425.4,305.5 L425.8,305.7 L426.0,305.9 L426.2,306.1 L426.5,306.4 L426.8,306.7 L426.9,307.0 L427.1,307.2 L427.2,307.6 L427.5,308.0 L427.6,308.2 L427.7,308.8 L427.8,309.0 L427.9,309.5 L427.9,310.0 L427.8,310.5 L427.8,310.8 L427.6,311.2 L427.5,311.5 L427.3,312.0 L427.1,312.2 L427.0,312.5 L426.8,312.9 L426.5,313.2 L426.3,313.5 L426.1,313.8 L425.8,314.0 L425.5,314.2 L425.2,314.4 L425.0,314.5 L424.5,314.7 L424.2,314.8 L423.8,315.0 L423.5,315.1 L423.0,315.2 L422.8,315.3 L422.2,315.4 L421.8,315.5 L421.5,315.5Z M369.2,337.5 L368.8,337.6 L368.2,337.6 L367.8,337.6 L367.2,337.6 L366.8,337.5 L366.5,337.5 L366.0,337.5 L365.5,337.5 L365.0,337.5 L364.5,337.5 L364.0,337.4 L363.5,337.4 L363.0,337.3 L362.5,337.3 L362.0,337.3 L361.5,337.3 L361.0,337.2 L360.8,337.2 L360.2,337.1 L360.0,337.0 L359.5,336.8 L359.2,336.7 L358.8,336.5 L358.5,336.4 L358.0,336.3 L357.5,336.3 L357.2,336.2 L356.8,336.2 L356.2,336.0 L356.0,335.9 L355.6,335.8 L355.2,335.5 L355.0,335.4 L354.7,335.2 L354.2,335.0 L354.0,334.9 L353.7,334.8 L353.2,334.5 L353.0,334.3 L352.8,334.1 L352.5,333.9 L352.2,333.5 L352.1,333.2 L351.9,333.0 L351.8,332.6 L351.6,332.2 L351.5,331.9 L351.4,331.5 L351.4,331.0 L351.4,330.5 L351.5,330.1 L351.6,329.8 L351.7,329.2 L351.8,329.0 L352.0,328.6 L352.2,328.2 L352.3,328.0 L352.5,327.8 L352.8,327.5 L353.2,327.2 L353.5,327.1 L353.8,327.0 L354.2,326.8 L354.5,326.7 L355.0,326.5 L355.2,326.4 L355.8,326.3 L356.0,326.2 L356.5,326.0 L356.8,326.0 L357.2,325.9 L357.7,325.8 L358.0,325.7 L358.5,325.5 L358.8,325.5 L359.2,325.4 L359.8,325.4 L360.2,325.5 L360.5,325.5 L361.0,325.6 L361.5,325.6 L362.0,325.6 L362.4,325.5 L362.8,325.4 L363.2,325.3 L363.5,325.2 L364.0,325.1 L364.4,325.0 L364.8,324.9 L365.2,324.8 L365.5,324.7 L366.0,324.5 L366.2,324.5 L366.8,324.3 L367.2,324.3 L367.8,324.3 L368.2,324.3 L368.8,324.3 L369.2,324.3 L369.7,324.2 L370.0,324.2 L370.3,324.0 L370.6,323.8 L370.8,323.5 L371.0,323.1 L371.1,322.8 L371.0,322.2 L371.0,322.0 L370.8,321.5 L370.6,321.2 L370.3,321.0 L370.0,320.8 L369.8,320.5 L369.5,320.3 L369.2,320.1 L369.0,319.8 L368.9,319.5 L368.9,319.0 L369.0,318.7 L369.1,318.2 L369.2,317.9 L369.4,317.5 L369.5,317.2 L369.8,316.8 L369.9,316.5 L370.1,316.2 L370.3,316.0 L370.5,315.8 L370.8,315.5 L371.1,315.2 L371.4,315.0 L371.8,314.8 L372.0,314.7 L372.5,314.5 L372.8,314.5 L373.2,314.4 L373.8,314.4 L374.2,314.5 L374.5,314.5 L375.0,314.8 L375.2,314.9 L375.5,315.0 L376.0,315.2 L376.2,315.3 L376.8,315.4 L377.0,315.5 L377.5,315.6 L377.9,315.8 L378.2,315.9 L378.5,316.0 L379.0,316.2 L379.2,316.4 L379.5,316.7 L379.7,317.0 L379.8,317.3 L379.8,317.8 L379.8,318.2 L379.7,318.5 L379.6,319.0 L379.5,319.3 L379.3,319.8 L379.2,320.0 L379.0,320.3 L378.8,320.6 L378.5,320.9 L378.2,321.1 L377.9,321.2 L377.5,321.4 L377.2,321.5 L376.8,321.6 L376.2,321.7 L376.0,321.8 L375.5,321.9 L375.2,322.0 L374.8,322.2 L374.5,322.5 L374.3,322.8 L374.4,323.2 L374.7,323.5 L375.0,323.6 L375.3,323.8 L375.8,324.0 L376.0,324.1 L376.2,324.3 L376.5,324.5 L376.8,324.8 L377.1,325.0 L377.3,325.2 L377.6,325.5 L377.8,325.8 L378.0,326.2 L378.2,326.5 L378.4,326.8 L378.6,327.0 L379.0,327.2 L379.2,327.4 L379.6,327.5 L380.0,327.6 L380.3,327.8 L380.8,327.9 L381.0,328.1 L381.2,328.5 L381.3,328.8 L381.4,329.2 L381.3,329.8 L381.3,330.2 L381.4,330.8 L381.4,331.2 L381.2,331.7 L381.1,332.0 L380.8,332.2 L380.5,332.5 L380.2,332.6 L379.9,332.8 L379.5,333.0 L379.2,333.1 L379.0,333.2 L378.6,333.5 L378.2,333.7 L378.0,333.9 L377.8,334.1 L377.5,334.3 L377.2,334.5 L376.9,334.8 L376.6,335.0 L376.3,335.2 L376.0,335.4 L375.8,335.6 L375.4,335.8 L375.0,335.9 L374.6,336.0 L374.2,336.1 L373.8,336.2 L373.5,336.3 L373.1,336.5 L372.8,336.7 L372.5,336.8 L372.0,337.0 L371.8,337.1 L371.2,337.2 L371.0,337.3 L370.5,337.4 L370.0,337.4 L369.5,337.5 L369.2,337.5Z M362.8,318.8 L362.2,319.0 L361.8,318.9 L361.3,318.8 L361.0,318.5 L360.8,318.3 L360.5,318.0 L360.4,317.8 L360.3,317.2 L360.4,316.8 L360.5,316.2 L360.6,316.0 L360.8,315.6 L361.0,315.2 L361.1,315.0 L361.4,314.8 L361.8,314.5 L362.2,314.7 L362.5,314.9 L362.8,315.2 L363.0,315.5 L363.1,315.8 L363.3,316.0 L363.5,316.5 L363.6,316.8 L363.6,317.2 L363.6,317.8 L363.5,318.0 L363.2,318.4 L363.0,318.7 L362.8,318.8Z M434.8,325.3 L434.2,325.4 L433.8,325.4 L433.2,325.4 L432.9,325.2 L432.5,325.1 L432.2,324.9 L432.0,324.6 L431.8,324.3 L431.6,324.0 L431.4,323.8 L431.2,323.4 L431.1,323.0 L431.0,322.8 L430.9,322.2 L430.8,321.8 L430.8,321.2 L430.9,320.8 L431.0,320.5 L431.2,320.2 L431.5,319.9 L431.8,319.6 L432.0,319.4 L432.2,319.2 L432.5,319.0 L432.9,318.8 L433.2,318.6 L433.5,318.5 L434.0,318.4 L434.5,318.4 L434.9,318.5 L435.2,318.6 L435.6,318.8 L436.0,319.0 L436.2,319.1 L436.5,319.3 L436.8,319.5 L437.1,319.8 L437.3,320.0 L437.5,320.2 L437.8,320.6 L438.0,321.0 L438.0,321.2 L438.1,321.8 L438.1,322.2 L438.0,322.8 L437.9,323.0 L437.8,323.3 L437.5,323.6 L437.2,323.9 L437.0,324.1 L436.7,324.2 L436.3,324.5 L436.0,324.7 L435.8,324.8 L435.4,325.0 L435.0,325.2 L434.8,325.3Z M441.8,340.8 L441.2,340.8 L440.8,340.8 L440.5,340.8 L440.0,340.6 L439.7,340.5 L439.2,340.3 L439.0,340.1 L438.8,339.9 L438.5,339.6 L438.2,339.3 L438.1,339.0 L437.9,338.8 L437.8,338.3 L437.6,338.0 L437.5,337.6 L437.4,337.2 L437.4,336.8 L437.4,336.2 L437.5,335.8 L437.5,335.5 L437.7,335.0 L437.8,334.8 L438.0,334.4 L438.2,334.0 L438.5,333.8 L438.8,333.6 L439.0,333.4 L439.4,333.2 L439.8,333.1 L440.2,333.0 L440.5,333.0 L441.0,332.9 L441.5,333.0 L441.8,333.0 L442.2,333.1 L442.6,333.2 L443.0,333.4 L443.2,333.6 L443.5,333.8 L443.8,334.0 L444.1,334.2 L444.4,334.5 L444.6,334.8 L444.8,335.0 L445.0,335.5 L445.1,335.8 L445.2,336.2 L445.2,336.8 L445.2,337.2 L445.1,337.8 L445.0,338.2 L445.0,338.5 L444.8,338.9 L444.6,339.2 L444.4,339.5 L444.1,339.8 L443.8,340.0 L443.5,340.1 L443.2,340.3 L442.8,340.5 L442.5,340.6 L442.0,340.7 L441.8,340.8Z M373.8,390.3 L373.2,390.4 L372.8,390.4 L372.2,390.3 L371.8,390.2 L371.5,390.2 L371.0,390.0 L370.8,389.9 L370.2,389.8 L370.0,389.7 L369.7,389.5 L369.2,389.3 L369.0,389.2 L368.8,389.0 L368.4,388.8 L368.0,388.5 L367.8,388.3 L367.5,388.0 L367.2,387.8 L367.0,387.5 L366.8,387.2 L366.6,387.0 L366.5,386.8 L366.2,386.3 L366.1,386.0 L366.0,385.7 L365.9,385.2 L365.8,384.8 L365.8,384.2 L365.8,383.8 L365.8,383.2 L365.9,382.8 L366.0,382.2 L366.0,382.0 L366.1,381.5 L366.2,381.1 L366.4,380.8 L366.5,380.5 L366.8,380.2 L367.0,379.8 L367.2,379.5 L367.5,379.2 L367.7,379.0 L368.0,378.8 L368.2,378.5 L368.5,378.3 L368.8,378.1 L369.0,377.9 L369.2,377.7 L369.6,377.5 L370.0,377.2 L370.2,377.1 L370.6,377.0 L371.0,376.9 L371.5,376.8 L372.0,376.8 L372.5,376.8 L373.0,376.9 L373.5,377.0 L373.8,377.1 L374.2,377.2 L374.5,377.3 L374.9,377.5 L375.2,377.7 L375.5,377.8 L375.8,378.0 L376.2,378.2 L376.5,378.5 L376.8,378.7 L377.0,378.9 L377.2,379.1 L377.5,379.4 L377.8,379.7 L378.0,380.0 L378.1,380.2 L378.3,380.5 L378.5,381.0 L378.6,381.2 L378.8,381.7 L378.8,382.0 L378.9,382.5 L379.0,382.8 L379.1,383.2 L379.1,383.8 L379.1,384.2 L379.0,384.8 L379.0,385.0 L378.8,385.5 L378.7,385.8 L378.5,386.2 L378.4,386.5 L378.2,386.8 L378.0,387.2 L377.9,387.5 L377.7,387.8 L377.5,388.1 L377.2,388.4 L377.0,388.7 L376.8,388.9 L376.5,389.1 L376.2,389.2 L375.8,389.5 L375.5,389.7 L375.2,389.8 L374.8,390.0 L374.5,390.1 L374.0,390.2 L373.8,390.3Z M311.5,394.8 L311.0,394.8 L310.5,394.9 L310.0,394.8 L309.5,394.8 L309.2,394.7 L308.8,394.6 L308.5,394.5 L308.0,394.3 L307.8,394.2 L307.3,394.0 L307.0,393.9 L306.8,393.7 L306.3,393.5 L306.0,393.3 L305.8,393.1 L305.5,392.9 L305.2,392.6 L305.0,392.2 L304.9,392.0 L304.8,391.7 L304.6,391.2 L304.5,391.0 L304.3,390.5 L304.2,390.2 L304.1,389.8 L304.0,389.3 L304.0,389.0 L303.9,388.5 L303.9,388.0 L304.0,387.5 L304.0,387.1 L304.1,386.8 L304.2,386.2 L304.2,385.9 L304.4,385.5 L304.5,385.2 L304.8,384.8 L304.9,384.5 L305.1,384.2 L305.3,384.0 L305.5,383.8 L305.8,383.5 L306.1,383.2 L306.4,383.0 L306.8,382.8 L307.0,382.6 L307.2,382.5 L307.7,382.2 L308.0,382.1 L308.4,382.0 L308.8,381.9 L309.2,381.8 L309.5,381.7 L310.0,381.6 L310.5,381.6 L311.0,381.6 L311.5,381.7 L311.9,381.8 L312.2,381.8 L312.8,381.9 L313.0,382.0 L313.5,382.2 L313.8,382.3 L314.2,382.5 L314.5,382.6 L314.8,382.8 L315.1,383.0 L315.4,383.2 L315.7,383.5 L316.0,383.7 L316.2,384.0 L316.4,384.2 L316.6,384.5 L316.8,384.8 L317.0,385.2 L317.2,385.5 L317.3,385.8 L317.5,386.2 L317.5,386.5 L317.6,387.0 L317.7,387.5 L317.7,388.0 L317.7,388.5 L317.7,389.0 L317.6,389.5 L317.5,389.9 L317.4,390.2 L317.2,390.6 L317.1,391.0 L316.9,391.2 L316.8,391.6 L316.5,391.9 L316.3,392.2 L316.1,392.5 L315.8,392.8 L315.5,393.0 L315.2,393.2 L315.0,393.4 L314.8,393.5 L314.4,393.8 L314.0,394.0 L313.8,394.1 L313.4,394.2 L313.0,394.4 L312.8,394.5 L312.2,394.6 L311.8,394.7 L311.5,394.8Z M422.0,393.0 L421.5,393.1 L421.0,393.1 L420.5,393.1 L420.0,393.1 L419.7,393.0 L419.2,392.9 L418.9,392.8 L418.5,392.6 L418.1,392.5 L417.8,392.4 L417.2,392.3 L417.0,392.2 L416.5,392.1 L416.2,392.0 L416.0,391.8 L415.7,391.5 L415.5,391.2 L415.2,390.8 L415.1,390.5 L414.9,390.2 L414.8,389.9 L414.5,389.5 L414.4,389.2 L414.2,388.8 L414.2,388.5 L414.1,388.0 L414.1,387.5 L414.2,387.0 L414.2,386.5 L414.3,386.2 L414.5,385.8 L414.6,385.5 L414.8,385.1 L414.9,384.8 L415.1,384.5 L415.3,384.2 L415.6,384.0 L415.9,383.8 L416.2,383.5 L416.5,383.5 L417.0,383.3 L417.5,383.3 L418.0,383.4 L418.5,383.4 L418.8,383.5 L419.2,383.6 L419.8,383.7 L420.1,383.8 L420.5,383.8 L421.0,383.8 L421.5,383.8 L422.0,384.0 L422.2,384.1 L422.5,384.2 L422.9,384.5 L423.2,384.7 L423.5,384.9 L423.8,385.1 L424.0,385.3 L424.3,385.5 L424.7,385.8 L425.0,386.0 L425.2,386.2 L425.5,386.5 L425.7,386.8 L425.9,387.0 L426.0,387.2 L426.2,387.8 L426.3,388.0 L426.3,388.5 L426.3,389.0 L426.2,389.2 L426.0,389.8 L425.9,390.0 L425.8,390.3 L425.5,390.6 L425.2,390.9 L425.0,391.2 L424.8,391.4 L424.5,391.6 L424.2,391.8 L424.0,392.0 L423.6,392.2 L423.3,392.5 L423.0,392.7 L422.8,392.8 L422.2,392.9 L422.0,393.0Z M463.5,21.5 L463.0,21.6 L462.5,21.7 L462.0,21.6 L461.5,21.6 L461.0,21.5 L460.8,21.4 L460.2,21.3 L460.0,21.2 L459.5,21.0 L459.2,20.8 L459.0,20.6 L458.8,20.2 L458.7,20.0 L458.5,19.5 L458.5,19.2 L458.4,18.8 L458.5,18.2 L458.6,18.0 L458.8,17.7 L459.0,17.4 L459.2,17.1 L459.5,16.9 L459.8,16.8 L460.2,16.6 L460.8,16.7 L461.0,16.8 L461.5,16.9 L461.8,17.0 L462.2,17.2 L462.8,17.2 L463.2,17.2 L463.8,17.1 L464.2,17.2 L464.5,17.3 L464.8,17.5 L465.1,17.8 L465.3,18.0 L465.5,18.3 L465.7,18.8 L465.8,19.0 L465.9,19.5 L465.8,20.0 L465.7,20.2 L465.5,20.5 L465.2,20.8 L464.8,21.0 L464.5,21.1 L464.2,21.3 L463.8,21.4 L463.5,21.5Z M391.8,47.8 L391.2,47.8 L390.8,47.8 L390.2,47.8 L389.9,47.8 L389.5,47.7 L389.0,47.6 L388.7,47.5 L388.2,47.4 L387.9,47.2 L387.5,47.1 L387.2,46.9 L386.9,46.8 L386.6,46.5 L386.3,46.2 L386.0,46.0 L385.8,45.8 L385.6,45.5 L385.5,45.2 L385.2,44.8 L385.2,44.5 L385.1,44.0 L385.1,43.5 L385.2,43.0 L385.5,42.8 L385.8,42.6 L386.1,42.5 L386.5,42.4 L387.0,42.4 L387.5,42.4 L388.0,42.4 L388.5,42.4 L389.0,42.3 L389.5,42.3 L389.8,42.2 L390.2,42.1 L390.5,42.0 L391.0,41.9 L391.5,41.9 L392.0,42.0 L392.2,42.1 L392.8,42.2 L393.0,42.3 L393.4,42.5 L393.8,42.7 L394.0,42.8 L394.4,43.0 L394.8,43.2 L395.0,43.3 L395.3,43.5 L395.6,43.8 L395.8,44.0 L396.0,44.5 L396.0,44.8 L396.0,45.0 L395.8,45.5 L395.6,45.8 L395.4,46.0 L395.2,46.2 L394.9,46.5 L394.6,46.8 L394.2,47.0 L394.0,47.1 L393.7,47.2 L393.2,47.4 L393.0,47.5 L392.5,47.6 L392.0,47.7 L391.8,47.8Z M380.5,61.0 L380.0,61.1 L379.5,61.2 L379.0,61.2 L378.5,61.2 L378.0,61.1 L377.5,61.1 L377.0,61.1 L376.5,61.1 L376.0,61.0 L375.7,61.0 L375.2,60.9 L374.8,60.9 L374.4,60.8 L374.0,60.6 L373.8,60.5 L373.4,60.2 L373.1,60.0 L372.8,59.8 L372.7,59.5 L372.5,59.2 L372.2,58.8 L372.1,58.5 L372.0,58.0 L372.0,57.8 L372.0,57.2 L372.0,56.9 L372.1,56.5 L372.2,56.0 L372.3,55.8 L372.5,55.4 L372.7,55.0 L372.9,54.8 L373.1,54.5 L373.4,54.2 L373.6,54.0 L373.9,53.8 L374.1,53.5 L374.4,53.2 L374.7,53.0 L375.0,52.8 L375.2,52.7 L375.7,52.5 L376.0,52.4 L376.5,52.3 L376.8,52.2 L377.2,52.1 L377.8,52.0 L378.0,52.0 L378.5,51.9 L379.0,51.8 L379.5,51.8 L380.0,51.8 L380.5,52.0 L380.8,52.0 L381.2,52.2 L381.5,52.4 L381.8,52.5 L382.2,52.7 L382.5,52.8 L383.0,53.0 L383.2,53.1 L383.5,53.3 L383.9,53.5 L384.1,53.8 L384.3,54.0 L384.5,54.3 L384.7,54.8 L384.7,55.2 L384.7,55.8 L384.7,56.2 L384.6,56.8 L384.5,57.2 L384.4,57.5 L384.2,57.9 L384.0,58.2 L383.9,58.5 L383.7,58.8 L383.4,59.0 L383.2,59.2 L382.9,59.5 L382.6,59.8 L382.4,60.0 L382.1,60.2 L381.8,60.5 L381.5,60.6 L381.2,60.8 L380.8,61.0 L380.5,61.0Z M422.2,84.3 L421.8,84.4 L421.2,84.4 L420.8,84.5 L420.2,84.5 L419.8,84.5 L419.2,84.4 L418.8,84.4 L418.2,84.3 L418.0,84.2 L417.5,84.1 L417.1,84.0 L416.8,83.9 L416.4,83.8 L416.0,83.6 L415.8,83.5 L415.3,83.2 L415.0,83.0 L414.8,82.9 L414.5,82.7 L414.2,82.5 L414.0,82.2 L413.7,82.0 L413.4,81.8 L413.2,81.5 L413.0,81.2 L412.8,80.9 L412.6,80.5 L412.5,80.0 L412.5,79.8 L412.4,79.2 L412.3,78.8 L412.3,78.2 L412.4,77.8 L412.5,77.2 L412.5,77.0 L412.7,76.5 L412.8,76.2 L413.0,75.9 L413.2,75.5 L413.5,75.2 L413.8,75.0 L414.0,74.8 L414.2,74.7 L414.5,74.5 L415.0,74.3 L415.2,74.2 L415.6,74.0 L416.0,73.8 L416.2,73.7 L416.6,73.5 L417.0,73.3 L417.2,73.2 L417.8,73.1 L418.0,73.0 L418.5,72.8 L419.0,72.8 L419.2,72.7 L419.8,72.7 L420.2,72.7 L420.5,72.8 L421.0,72.9 L421.5,73.0 L421.8,73.0 L422.2,73.1 L422.7,73.2 L423.0,73.3 L423.4,73.5 L423.8,73.6 L424.2,73.8 L424.5,73.9 L424.9,74.0 L425.2,74.1 L425.6,74.2 L426.0,74.4 L426.2,74.5 L426.7,74.8 L427.0,74.9 L427.2,75.0 L427.6,75.2 L427.9,75.5 L428.2,75.7 L428.5,75.9 L428.8,76.1 L429.0,76.3 L429.2,76.5 L429.5,76.8 L429.8,77.0 L430.1,77.2 L430.3,77.5 L430.5,77.8 L430.8,78.2 L430.9,78.5 L430.9,79.0 L430.8,79.5 L430.7,79.8 L430.5,80.0 L430.2,80.4 L430.0,80.8 L429.8,81.0 L429.6,81.2 L429.4,81.5 L429.1,81.8 L428.8,82.0 L428.5,82.2 L428.2,82.3 L427.8,82.5 L427.5,82.5 L427.0,82.7 L426.8,82.8 L426.3,83.0 L426.0,83.1 L425.8,83.3 L425.2,83.5 L425.0,83.6 L424.5,83.7 L424.2,83.8 L423.8,83.9 L423.4,84.0 L423.0,84.1 L422.5,84.2 L422.2,84.3Z M408.2,97.3 L407.9,97.2 L407.5,97.2 L407.0,97.0 L406.8,96.9 L406.2,96.8 L405.9,96.8 L405.5,96.7 L405.0,96.6 L404.8,96.5 L404.3,96.2 L404.0,96.1 L403.8,95.9 L403.5,95.6 L403.3,95.2 L403.4,94.8 L403.6,94.5 L403.9,94.2 L404.2,94.1 L404.5,93.9 L404.8,93.7 L405.0,93.5 L405.2,93.2 L405.5,93.0 L405.8,92.7 L406.0,92.4 L406.2,92.2 L406.5,92.0 L406.9,91.8 L407.2,91.7 L407.8,91.6 L408.2,91.7 L408.5,91.8 L409.0,91.9 L409.4,92.0 L409.8,92.1 L410.1,92.2 L410.5,92.5 L410.7,92.8 L410.8,93.0 L411.0,93.3 L411.2,93.7 L411.4,94.0 L411.5,94.5 L411.4,95.0 L411.2,95.4 L411.1,95.8 L410.9,96.0 L410.7,96.2 L410.4,96.5 L410.0,96.7 L409.8,96.8 L409.4,97.0 L409.0,97.1 L408.5,97.2 L408.2,97.3Z M365.0,132.0 L364.5,132.1 L364.0,132.0 L363.8,132.0 L363.2,131.8 L362.8,131.8 L362.2,131.8 L361.8,131.8 L361.3,131.8 L361.0,131.6 L360.8,131.2 L360.6,131.0 L360.5,130.7 L360.4,130.2 L360.3,129.8 L360.4,129.2 L360.5,129.0 L360.8,128.6 L361.0,128.4 L361.2,128.2 L361.8,128.1 L362.0,128.0 L362.5,128.0 L363.0,127.9 L363.5,127.9 L364.0,127.9 L364.5,127.9 L364.8,128.0 L365.2,128.2 L365.5,128.4 L365.8,128.7 L366.0,129.0 L366.1,129.2 L366.2,129.8 L366.2,130.2 L366.1,130.8 L366.0,131.0 L365.8,131.4 L365.5,131.7 L365.2,131.9 L365.0,132.0Z M444.5,137.5 L444.2,137.5 L443.8,137.4 L443.5,137.2 L443.0,137.0 L442.8,136.9 L442.2,136.8 L441.8,136.8 L441.2,136.8 L440.8,136.8 L440.2,136.8 L439.8,136.8 L439.2,136.8 L438.8,136.8 L438.2,136.8 L437.8,136.8 L437.5,136.7 L437.0,136.6 L436.8,136.4 L436.4,136.2 L436.1,136.0 L435.8,135.8 L435.5,135.5 L435.3,135.2 L435.1,135.0 L434.9,134.8 L434.8,134.4 L434.6,134.0 L434.7,133.5 L434.8,133.2 L435.0,132.9 L435.2,132.6 L435.5,132.4 L435.8,132.2 L436.2,132.0 L436.5,131.9 L436.9,131.8 L437.2,131.7 L437.8,131.6 L438.2,131.6 L438.8,131.6 L439.2,131.6 L439.8,131.6 L440.2,131.6 L440.8,131.6 L441.2,131.6 L441.8,131.6 L442.2,131.6 L442.8,131.5 L443.2,131.6 L443.8,131.6 L444.2,131.6 L444.8,131.7 L445.0,131.8 L445.5,131.9 L445.8,132.0 L446.2,132.2 L446.5,132.4 L446.8,132.6 L447.0,132.8 L447.2,133.2 L447.4,133.5 L447.4,134.0 L447.4,134.5 L447.2,135.0 L447.1,135.2 L447.0,135.5 L446.8,135.8 L446.5,136.1 L446.2,136.4 L446.0,136.7 L445.8,136.9 L445.5,137.1 L445.2,137.3 L444.8,137.5 L444.5,137.5Z M458.5,157.0 L458.2,157.0 L457.8,156.9 L457.5,156.7 L457.1,156.5 L456.8,156.2 L456.6,156.0 L456.4,155.8 L456.2,155.4 L456.2,155.0 L456.2,154.7 L456.4,154.2 L456.6,154.0 L456.8,153.8 L457.0,153.5 L457.4,153.2 L457.8,153.1 L458.0,153.0 L458.5,152.9 L459.0,152.9 L459.5,153.0 L459.8,153.1 L460.0,153.3 L460.3,153.5 L460.5,153.8 L460.7,154.2 L460.8,154.5 L460.8,155.0 L460.7,155.2 L460.5,155.6 L460.2,156.0 L460.0,156.2 L459.8,156.5 L459.5,156.7 L459.2,156.8 L458.8,157.0 L458.5,157.0Z M380.5,172.0 L380.0,172.1 L379.5,172.0 L379.2,172.0 L378.8,171.8 L378.4,171.8 L378.0,171.7 L377.5,171.7 L377.1,171.8 L376.8,171.8 L376.2,171.8 L375.8,171.8 L375.2,171.8 L374.8,171.8 L374.2,171.8 L373.8,171.8 L373.4,171.8 L373.0,171.6 L372.8,171.5 L372.5,171.2 L372.2,171.0 L372.0,170.8 L371.8,170.5 L371.5,170.2 L371.2,169.9 L371.0,169.6 L370.8,169.3 L370.6,169.0 L370.5,168.8 L370.3,168.2 L370.3,167.8 L370.4,167.2 L370.5,166.8 L370.6,166.5 L370.8,166.2 L371.0,165.9 L371.2,165.5 L371.4,165.2 L371.6,165.0 L371.8,164.8 L372.0,164.5 L372.3,164.2 L372.7,164.0 L373.0,163.9 L373.4,163.8 L373.8,163.7 L374.2,163.7 L374.8,163.7 L375.2,163.6 L375.8,163.5 L376.0,163.4 L376.5,163.3 L376.8,163.2 L377.2,163.1 L377.8,163.1 L378.2,163.0 L378.5,163.0 L379.0,162.9 L379.5,162.8 L379.9,162.8 L380.2,162.7 L380.8,162.6 L381.2,162.6 L381.8,162.6 L382.2,162.6 L382.8,162.7 L383.2,162.8 L383.5,162.8 L384.0,162.9 L384.2,163.0 L384.8,163.2 L385.0,163.3 L385.3,163.5 L385.6,163.8 L385.9,164.0 L386.2,164.2 L386.5,164.5 L386.8,164.7 L387.0,164.9 L387.2,165.2 L387.5,165.5 L387.6,165.8 L387.8,166.2 L387.8,166.5 L387.8,167.0 L387.8,167.5 L387.7,167.8 L387.6,168.2 L387.4,168.5 L387.2,168.8 L387.0,169.0 L386.7,169.2 L386.4,169.5 L386.0,169.7 L385.8,169.9 L385.4,170.0 L385.0,170.2 L384.8,170.3 L384.2,170.5 L384.0,170.6 L383.7,170.8 L383.3,171.0 L383.0,171.2 L382.8,171.3 L382.4,171.5 L382.0,171.6 L381.7,171.8 L381.2,171.9 L380.8,172.0 L380.5,172.0Z M441.8,177.5 L441.4,177.5 L441.0,177.3 L440.8,177.1 L440.5,176.9 L440.2,176.6 L440.0,176.4 L439.8,176.1 L439.5,175.8 L439.2,175.5 L439.0,175.3 L438.8,175.0 L438.5,174.8 L438.2,174.6 L438.0,174.5 L437.7,174.2 L437.4,174.0 L437.1,173.8 L436.9,173.5 L436.9,173.0 L437.0,172.6 L437.2,172.2 L437.3,172.0 L437.5,171.6 L437.7,171.2 L437.9,171.0 L438.2,170.8 L438.5,170.5 L438.8,170.4 L439.0,170.2 L439.5,170.0 L439.8,169.9 L440.0,169.7 L440.5,169.6 L440.8,169.5 L441.2,169.4 L441.8,169.3 L442.0,169.2 L442.5,169.0 L442.8,168.8 L443.0,168.6 L443.2,168.3 L443.4,168.0 L443.6,167.8 L443.8,167.5 L444.0,167.1 L444.2,166.8 L444.5,166.6 L444.8,166.4 L445.0,166.2 L445.3,166.0 L445.8,165.8 L446.0,165.7 L446.5,165.6 L447.0,165.5 L447.5,165.6 L448.0,165.7 L448.2,165.8 L448.6,166.0 L448.9,166.2 L449.1,166.5 L449.3,166.8 L449.4,167.2 L449.4,167.8 L449.2,168.2 L449.1,168.5 L449.0,168.8 L448.8,169.1 L448.5,169.5 L448.3,169.8 L448.0,170.0 L447.8,170.2 L447.5,170.3 L447.2,170.5 L446.8,170.7 L446.5,170.8 L446.0,170.9 L445.8,171.0 L445.2,171.2 L445.0,171.3 L444.5,171.5 L444.2,171.6 L444.0,171.8 L443.8,172.1 L443.5,172.5 L443.5,172.8 L443.4,173.2 L443.4,173.8 L443.4,174.2 L443.4,174.8 L443.4,175.2 L443.2,175.7 L443.1,176.0 L443.0,176.2 L442.8,176.6 L442.5,176.9 L442.2,177.2 L442.0,177.4 L441.8,177.5Z M386.5,189.5 L386.1,189.5 L385.8,189.5 L385.2,189.4 L384.8,189.4 L384.2,189.3 L384.0,189.2 L383.5,189.1 L383.2,189.0 L382.8,188.8 L382.5,188.6 L382.2,188.4 L382.0,188.2 L381.7,188.0 L381.4,187.8 L381.2,187.5 L381.0,187.2 L380.8,186.9 L380.5,186.6 L380.3,186.2 L380.1,186.0 L380.0,185.7 L379.8,185.2 L379.6,185.0 L379.5,184.7 L379.2,184.3 L379.0,184.0 L378.8,183.8 L378.6,183.5 L378.2,183.3 L378.0,183.2 L377.5,183.2 L377.2,183.3 L376.9,183.5 L376.5,183.6 L376.1,183.8 L375.8,183.8 L375.2,183.9 L374.8,183.9 L374.4,184.0 L374.0,184.1 L373.7,184.2 L373.2,184.5 L373.0,184.6 L372.7,184.8 L372.2,184.9 L372.0,185.0 L371.5,185.1 L371.0,185.1 L370.5,185.1 L370.0,185.0 L369.5,185.1 L369.0,185.1 L368.5,185.2 L368.2,185.3 L367.8,185.3 L367.2,185.3 L366.8,185.3 L366.2,185.3 L366.0,185.2 L365.5,185.1 L365.0,185.0 L364.8,184.9 L364.3,184.8 L364.0,184.7 L363.6,184.5 L363.2,184.3 L363.0,184.2 L362.6,184.0 L362.3,183.8 L362.0,183.6 L361.8,183.3 L361.5,183.1 L361.3,182.8 L361.2,182.5 L361.1,182.0 L361.2,181.5 L361.3,181.2 L361.5,180.8 L361.6,180.5 L361.8,180.2 L362.0,179.8 L362.2,179.5 L362.5,179.3 L362.8,179.1 L363.0,178.9 L363.2,178.7 L363.6,178.5 L364.0,178.3 L364.2,178.2 L364.8,178.1 L365.2,178.0 L365.7,178.0 L366.0,178.0 L366.2,178.0 L366.8,178.0 L367.2,178.0 L367.8,178.0 L368.2,178.1 L368.8,178.1 L369.2,178.2 L369.8,178.2 L370.2,178.2 L370.5,178.3 L371.0,178.3 L371.5,178.3 L371.9,178.2 L372.2,178.2 L372.8,178.2 L373.2,178.2 L373.5,178.3 L374.0,178.4 L374.2,178.5 L374.7,178.8 L375.0,178.9 L375.2,179.1 L375.6,179.2 L376.0,179.5 L376.2,179.6 L376.6,179.8 L377.0,180.0 L377.2,180.1 L377.5,180.3 L377.9,180.5 L378.2,180.6 L378.8,180.6 L379.2,180.6 L379.5,180.5 L380.0,180.3 L380.2,180.2 L380.8,180.0 L381.0,179.9 L381.5,179.8 L381.8,179.7 L382.2,179.6 L382.5,179.5 L383.0,179.2 L383.2,179.1 L383.5,178.9 L383.8,178.7 L384.1,178.5 L384.5,178.3 L384.8,178.2 L385.2,178.1 L385.8,178.1 L386.2,178.0 L386.6,178.0 L387.0,178.0 L387.5,177.9 L388.0,177.8 L388.4,177.8 L388.8,177.7 L389.2,177.6 L389.7,177.5 L390.0,177.4 L390.5,177.3 L390.9,177.2 L391.2,177.2 L391.8,177.1 L392.0,177.0 L392.5,176.8 L392.8,176.7 L393.2,176.5 L393.5,176.3 L393.8,176.2 L394.1,176.0 L394.5,175.8 L394.8,175.6 L395.1,175.5 L395.5,175.4 L396.0,175.3 L396.2,175.2 L396.8,175.2 L397.2,175.2 L397.8,175.2 L398.2,175.2 L398.8,175.2 L399.0,175.3 L399.5,175.3 L400.0,175.5 L400.2,175.5 L400.7,175.8 L401.0,175.9 L401.3,176.0 L401.7,176.2 L402.0,176.4 L402.3,176.5 L402.8,176.7 L403.0,176.8 L403.5,177.0 L403.8,177.0 L404.2,177.2 L404.5,177.3 L405.0,177.4 L405.5,177.5 L406.0,177.5 L406.5,177.5 L407.0,177.4 L407.5,177.4 L408.0,177.5 L408.2,177.5 L408.8,177.7 L409.0,177.8 L409.4,178.0 L409.8,178.2 L410.0,178.3 L410.5,178.5 L410.8,178.6 L411.0,178.8 L411.4,179.0 L411.7,179.2 L411.9,179.5 L412.0,179.8 L412.2,180.2 L412.4,180.5 L412.5,181.0 L412.6,181.2 L412.6,181.8 L412.6,182.2 L412.5,182.6 L412.4,183.0 L412.2,183.4 L412.1,183.8 L412.0,184.0 L411.8,184.4 L411.5,184.8 L411.3,185.0 L411.1,185.2 L410.8,185.5 L410.5,185.7 L410.2,185.9 L409.9,186.0 L409.5,186.1 L409.0,186.2 L408.7,186.2 L408.2,186.3 L407.8,186.4 L407.2,186.4 L406.8,186.4 L406.2,186.3 L406.0,186.2 L405.5,186.0 L405.2,185.9 L404.8,185.8 L404.5,185.7 L404.0,185.6 L403.5,185.6 L403.0,185.7 L402.5,185.8 L402.2,185.8 L401.8,186.0 L401.5,186.1 L401.1,186.2 L400.8,186.4 L400.5,186.5 L400.0,186.7 L399.8,186.8 L399.2,186.9 L398.8,187.0 L398.5,187.0 L398.0,187.0 L397.6,187.0 L397.2,187.0 L396.8,186.9 L396.2,186.9 L395.8,186.9 L395.2,186.9 L394.8,186.9 L394.2,186.9 L393.8,187.0 L393.5,187.1 L393.0,187.2 L392.8,187.3 L392.2,187.5 L392.0,187.6 L391.7,187.8 L391.2,188.0 L391.0,188.1 L390.8,188.3 L390.3,188.5 L390.0,188.6 L389.7,188.8 L389.2,188.9 L389.0,189.0 L388.5,189.2 L388.2,189.2 L387.8,189.4 L387.2,189.4 L386.8,189.5 L386.5,189.5Z M462.0,184.8 L461.5,184.9 L461.0,184.9 L460.5,184.8 L460.2,184.7 L459.8,184.5 L459.5,184.3 L459.2,184.1 L459.0,183.9 L458.8,183.7 L458.5,183.3 L458.4,183.0 L458.2,182.6 L458.2,182.2 L458.2,181.9 L458.4,181.5 L458.5,181.2 L458.8,180.9 L459.0,180.7 L459.2,180.4 L459.5,180.2 L460.0,180.0 L460.2,180.0 L460.8,179.9 L461.2,180.0 L461.5,180.0 L462.0,180.2 L462.2,180.4 L462.5,180.6 L462.8,180.9 L463.0,181.2 L463.1,181.5 L463.2,182.0 L463.3,182.2 L463.4,182.8 L463.3,183.2 L463.2,183.6 L463.1,184.0 L462.9,184.2 L462.6,184.5 L462.2,184.7 L462.0,184.8Z M419.5,183.4 L419.0,183.3 L418.8,183.0 L419.0,182.6 L419.5,182.7 L419.6,183.0 L419.5,183.4Z M394.5,232.0 L394.0,232.1 L393.5,232.0 L393.2,232.0 L392.8,231.9 L392.3,231.8 L392.0,231.7 L391.5,231.6 L391.0,231.5 L390.7,231.5 L390.2,231.4 L389.8,231.3 L389.5,231.2 L389.2,231.0 L388.8,230.8 L388.5,230.6 L388.2,230.4 L388.0,230.2 L387.7,230.0 L387.4,229.8 L387.1,229.5 L386.8,229.2 L386.6,229.0 L386.4,228.8 L386.2,228.5 L386.0,228.1 L385.8,227.8 L385.7,227.5 L385.7,227.0 L385.8,226.6 L385.8,226.2 L386.0,225.8 L386.1,225.5 L386.2,225.2 L386.4,224.8 L386.6,224.5 L386.8,224.1 L386.9,223.8 L387.0,223.5 L387.1,223.0 L387.1,222.5 L387.0,222.0 L386.9,221.8 L386.8,221.5 L386.5,221.2 L386.2,220.9 L386.0,220.7 L385.8,220.3 L385.5,220.0 L385.3,219.8 L385.2,219.5 L385.0,219.2 L384.8,218.9 L384.5,218.5 L384.3,218.2 L384.2,218.0 L384.1,217.5 L384.2,217.0 L384.2,216.7 L384.4,216.2 L384.5,216.0 L384.8,215.7 L385.0,215.3 L385.2,215.1 L385.5,214.8 L385.8,214.6 L386.0,214.4 L386.3,214.2 L386.7,214.0 L387.0,213.8 L387.2,213.7 L387.8,213.6 L388.1,213.5 L388.5,213.4 L388.8,213.2 L389.2,213.0 L389.5,212.8 L389.8,212.6 L390.0,212.4 L390.2,212.2 L390.6,212.0 L391.0,211.8 L391.2,211.6 L391.5,211.5 L392.0,211.3 L392.2,211.2 L392.8,211.1 L393.0,211.0 L393.5,210.8 L393.8,210.8 L394.2,210.6 L394.6,210.5 L395.0,210.4 L395.4,210.2 L395.8,210.2 L396.2,210.1 L396.5,210.0 L397.0,209.9 L397.5,209.8 L398.0,209.8 L398.2,209.7 L398.8,209.7 L399.2,209.6 L399.8,209.6 L400.2,209.6 L400.8,209.5 L401.0,209.5 L401.5,209.4 L402.0,209.3 L402.2,209.2 L402.8,209.2 L403.2,209.1 L403.8,209.0 L404.0,209.0 L404.5,208.8 L404.8,208.7 L405.1,208.5 L405.5,208.3 L405.8,208.1 L406.0,208.0 L406.5,207.8 L406.8,207.7 L407.2,207.6 L407.5,207.5 L408.0,207.3 L408.2,207.2 L408.7,207.0 L409.0,206.9 L409.3,206.8 L409.8,206.6 L410.0,206.5 L410.5,206.4 L411.0,206.3 L411.2,206.2 L411.8,206.2 L412.2,206.2 L412.5,206.3 L413.0,206.4 L413.3,206.5 L413.7,206.8 L414.0,206.9 L414.2,207.1 L414.5,207.4 L414.7,207.8 L414.8,208.0 L414.9,208.5 L414.9,209.0 L414.8,209.5 L414.7,209.8 L414.6,210.2 L414.5,210.5 L414.3,211.0 L414.2,211.2 L414.0,211.5 L413.8,212.0 L413.6,212.2 L413.5,212.5 L413.3,213.0 L413.2,213.2 L413.0,213.6 L412.9,214.0 L412.8,214.5 L412.8,215.0 L412.7,215.2 L412.6,215.8 L412.5,216.2 L412.4,216.5 L412.2,216.8 L412.0,217.2 L411.9,217.5 L411.7,217.8 L411.5,218.0 L411.2,218.3 L411.0,218.6 L410.8,218.8 L410.4,219.0 L410.0,219.1 L409.5,219.2 L409.0,219.1 L408.7,219.0 L408.2,218.8 L408.0,218.6 L407.8,218.5 L407.2,218.3 L406.9,218.2 L406.5,218.2 L406.0,218.2 L405.8,218.3 L405.2,218.4 L405.0,218.6 L404.7,218.8 L404.3,219.0 L404.0,219.2 L403.8,219.3 L403.5,219.5 L403.0,219.7 L402.8,219.8 L402.3,220.0 L402.0,220.1 L401.8,220.3 L401.2,220.5 L401.0,220.5 L400.5,220.7 L400.0,220.7 L399.7,220.8 L399.2,220.8 L398.8,220.9 L398.4,221.0 L398.0,221.1 L397.7,221.2 L397.2,221.4 L396.8,221.5 L396.5,221.5 L396.0,221.6 L395.5,221.6 L395.1,221.8 L394.8,221.9 L394.5,222.1 L394.3,222.5 L394.4,223.0 L394.5,223.2 L394.8,223.5 L395.0,223.8 L395.2,224.1 L395.5,224.4 L395.7,224.8 L395.9,225.0 L396.1,225.2 L396.3,225.5 L396.5,225.8 L396.8,226.1 L397.0,226.4 L397.2,226.6 L397.5,226.8 L397.8,227.0 L398.0,227.3 L398.2,227.6 L398.4,228.0 L398.3,228.5 L398.2,228.8 L398.0,229.1 L397.8,229.5 L397.6,229.8 L397.4,230.0 L397.1,230.2 L396.8,230.5 L396.5,230.7 L396.2,230.9 L396.0,231.1 L395.8,231.3 L395.5,231.5 L395.2,231.8 L394.8,232.0 L394.5,232.0Z M366.2,221.8 L365.8,221.9 L365.2,221.9 L364.8,221.9 L364.2,221.8 L364.0,221.7 L363.5,221.6 L363.2,221.5 L362.8,221.3 L362.5,221.2 L362.2,221.0 L361.8,220.8 L361.5,220.5 L361.2,220.3 L361.0,220.1 L360.8,219.8 L360.5,219.6 L360.2,219.4 L359.8,219.2 L359.5,219.2 L359.2,219.2 L358.8,219.3 L358.2,219.4 L357.8,219.5 L357.2,219.5 L356.8,219.2 L356.6,219.0 L356.7,218.5 L356.8,218.2 L357.1,218.0 L357.4,217.8 L357.8,217.5 L358.0,217.4 L358.3,217.2 L358.8,217.1 L359.0,216.9 L359.4,216.8 L359.8,216.6 L360.0,216.4 L360.2,216.2 L360.5,216.0 L360.9,215.8 L361.2,215.5 L361.5,215.3 L361.8,215.1 L362.0,215.0 L362.5,214.8 L362.8,214.8 L363.2,214.7 L363.8,214.7 L364.2,214.6 L364.6,214.5 L365.0,214.3 L365.2,214.2 L365.8,214.0 L366.0,214.0 L366.5,213.9 L367.0,213.8 L367.5,213.8 L368.0,213.8 L368.2,213.7 L368.8,213.7 L369.2,213.7 L369.5,213.8 L370.0,213.8 L370.5,213.9 L371.0,214.0 L371.2,214.0 L371.8,214.1 L372.2,214.1 L372.8,214.1 L373.2,214.1 L373.8,214.2 L374.2,214.2 L374.8,214.2 L375.2,214.2 L375.6,214.2 L376.0,214.3 L376.5,214.5 L376.8,214.6 L377.2,214.7 L377.5,214.8 L378.0,214.9 L378.5,215.0 L378.8,215.0 L379.2,215.1 L379.8,215.2 L380.0,215.4 L380.2,215.7 L380.4,216.0 L380.4,216.5 L380.2,216.9 L380.1,217.2 L379.9,217.5 L379.8,217.8 L379.5,218.2 L379.4,218.5 L379.2,218.8 L378.9,219.0 L378.5,219.2 L378.2,219.4 L378.0,219.5 L377.6,219.8 L377.2,220.0 L377.0,220.2 L376.8,220.4 L376.5,220.6 L376.2,220.8 L375.8,221.0 L375.5,221.1 L375.0,221.2 L374.8,221.3 L374.2,221.5 L374.0,221.5 L373.5,221.6 L373.0,221.7 L372.5,221.7 L372.0,221.7 L371.5,221.7 L371.0,221.6 L370.5,221.6 L370.0,221.5 L369.8,221.4 L369.2,221.3 L369.0,221.2 L368.5,221.2 L368.0,221.2 L367.8,221.3 L367.2,221.4 L367.0,221.5 L366.5,221.7 L366.2,221.8Z M438.2,223.0 L437.8,223.1 L437.2,223.1 L436.8,223.1 L436.2,223.1 L435.8,223.1 L435.2,223.1 L434.8,223.1 L434.2,223.0 L433.9,223.0 L433.5,222.9 L433.0,222.8 L432.6,222.8 L432.2,222.7 L431.8,222.6 L431.5,222.5 L431.0,222.4 L430.7,222.2 L430.2,222.0 L430.0,221.9 L429.8,221.7 L429.5,221.5 L429.2,221.2 L429.0,220.8 L428.8,220.5 L428.7,220.2 L428.5,219.9 L428.3,219.5 L428.2,219.2 L428.1,218.8 L428.0,218.3 L428.0,218.1 L428.0,217.8 L428.2,217.2 L428.4,217.0 L428.6,216.8 L428.8,216.5 L429.1,216.2 L429.5,216.0 L429.8,215.8 L430.0,215.7 L430.3,215.5 L430.7,215.2 L431.0,215.1 L431.3,215.0 L431.8,214.8 L432.1,214.8 L432.5,214.6 L433.0,214.5 L433.2,214.5 L433.8,214.4 L434.2,214.4 L434.8,214.3 L435.2,214.3 L435.8,214.4 L436.2,214.4 L436.8,214.4 L437.2,214.4 L437.8,214.4 L438.2,214.4 L438.7,214.5 L439.0,214.6 L439.5,214.8 L439.8,214.9 L440.0,215.0 L440.3,215.2 L440.7,215.5 L441.0,215.7 L441.2,215.8 L441.6,216.0 L442.0,216.2 L442.2,216.3 L442.5,216.5 L442.8,216.8 L443.0,217.0 L443.2,217.3 L443.5,217.8 L443.5,218.0 L443.7,218.5 L443.7,219.0 L443.7,219.5 L443.6,220.0 L443.4,220.2 L443.2,220.5 L443.0,220.8 L442.8,221.1 L442.5,221.3 L442.2,221.5 L441.9,221.8 L441.5,222.0 L441.2,222.1 L440.9,222.2 L440.5,222.4 L440.2,222.5 L439.8,222.7 L439.5,222.8 L439.0,222.9 L438.5,223.0 L438.2,223.0Z M372.8,257.5 L372.2,257.6 L371.8,257.6 L371.2,257.7 L370.8,257.7 L370.2,257.6 L370.0,257.5 L369.5,257.3 L369.2,257.2 L369.0,257.0 L368.6,256.8 L368.2,256.5 L368.0,256.4 L367.7,256.2 L367.3,256.0 L367.0,255.8 L366.8,255.7 L366.5,255.5 L366.2,255.2 L365.9,255.0 L365.6,254.8 L365.4,254.5 L365.2,254.2 L365.0,253.8 L364.9,253.5 L364.8,253.0 L364.7,252.8 L364.5,252.2 L364.5,252.0 L364.3,251.5 L364.2,251.2 L364.0,250.8 L364.0,250.5 L363.9,250.0 L363.8,249.5 L363.9,249.0 L364.0,248.5 L364.1,248.2 L364.2,247.9 L364.5,247.5 L364.7,247.2 L365.0,247.0 L365.2,246.8 L365.5,246.7 L365.8,246.5 L366.1,246.2 L366.5,246.0 L366.8,245.8 L367.0,245.6 L367.2,245.3 L367.5,245.1 L367.8,244.9 L368.0,244.7 L368.3,244.5 L368.6,244.2 L368.9,244.0 L369.2,243.8 L369.5,243.7 L369.9,243.5 L370.2,243.4 L370.8,243.3 L371.0,243.2 L371.5,243.2 L372.0,243.1 L372.5,243.1 L373.0,243.0 L373.2,243.0 L373.8,242.9 L374.1,242.8 L374.5,242.6 L374.8,242.5 L375.2,242.4 L375.8,242.3 L376.2,242.3 L376.8,242.3 L377.2,242.4 L377.7,242.5 L378.0,242.6 L378.5,242.6 L379.0,242.6 L379.5,242.6 L379.8,242.5 L380.2,242.4 L380.6,242.2 L381.0,242.1 L381.3,242.0 L381.8,241.9 L382.2,241.8 L382.5,241.7 L383.0,241.6 L383.5,241.6 L384.0,241.5 L384.5,241.5 L385.0,241.5 L385.5,241.6 L386.0,241.7 L386.5,241.7 L386.8,241.8 L387.2,241.8 L387.8,241.9 L388.2,242.0 L388.5,242.0 L389.0,242.1 L389.3,242.2 L389.8,242.4 L390.0,242.5 L390.5,242.7 L390.8,242.9 L391.0,243.0 L391.3,243.2 L391.6,243.5 L391.9,243.8 L392.1,244.0 L392.3,244.2 L392.5,244.7 L392.7,245.0 L392.8,245.2 L393.0,245.7 L393.2,246.0 L393.5,246.2 L393.8,246.3 L394.2,246.3 L394.8,246.3 L395.2,246.3 L395.6,246.5 L396.0,246.7 L396.2,247.0 L396.4,247.2 L396.6,247.5 L396.7,248.0 L396.6,248.5 L396.5,248.8 L396.2,249.2 L396.0,249.4 L395.8,249.6 L395.2,249.7 L394.8,249.7 L394.2,249.6 L393.9,249.5 L393.5,249.3 L393.2,249.1 L393.0,248.9 L392.8,248.7 L392.5,248.4 L392.2,248.1 L392.0,248.0 L391.5,247.9 L391.0,247.8 L390.5,247.8 L390.0,247.8 L389.5,247.8 L389.0,247.9 L388.5,248.0 L388.2,248.1 L387.8,248.2 L387.5,248.3 L387.1,248.5 L386.8,248.7 L386.5,248.8 L386.1,249.0 L385.8,249.2 L385.5,249.4 L385.2,249.7 L385.0,250.0 L384.8,250.2 L384.7,250.5 L384.5,250.9 L384.3,251.2 L384.1,251.5 L383.9,251.8 L383.8,252.0 L383.5,252.4 L383.3,252.8 L383.1,253.0 L382.9,253.2 L382.8,253.5 L382.5,253.9 L382.2,254.2 L382.0,254.5 L381.8,254.7 L381.5,254.9 L381.2,255.1 L381.0,255.4 L380.8,255.6 L380.5,255.8 L380.2,256.0 L379.9,256.2 L379.6,256.5 L379.2,256.7 L379.0,256.8 L378.6,257.0 L378.2,257.1 L377.9,257.2 L377.5,257.3 L377.0,257.4 L376.5,257.4 L376.0,257.4 L375.5,257.4 L375.0,257.4 L374.5,257.4 L374.0,257.4 L373.5,257.5 L373.0,257.5 L372.8,257.5Z M405.8,263.5 L405.2,263.7 L404.8,263.7 L404.2,263.7 L403.8,263.6 L403.4,263.5 L403.0,263.4 L402.5,263.2 L402.2,263.2 L401.8,263.1 L401.5,263.0 L401.0,262.9 L400.7,262.8 L400.2,262.6 L400.0,262.5 L399.5,262.2 L399.2,262.1 L399.0,261.9 L398.8,261.7 L398.5,261.3 L398.3,261.0 L398.1,260.8 L398.0,260.4 L397.8,260.0 L397.7,259.8 L397.5,259.2 L397.4,259.0 L397.3,258.5 L397.2,258.2 L397.2,257.8 L397.3,257.5 L397.4,257.0 L397.5,256.7 L397.7,256.2 L397.8,256.0 L398.0,255.5 L398.1,255.2 L398.2,254.8 L398.3,254.5 L398.5,254.0 L398.7,253.8 L398.9,253.5 L399.2,253.2 L399.5,253.0 L399.8,252.8 L400.0,252.6 L400.2,252.5 L400.6,252.2 L400.9,252.0 L401.2,251.8 L401.5,251.6 L401.8,251.4 L402.1,251.2 L402.5,251.0 L402.8,251.0 L403.2,250.9 L403.8,250.9 L404.2,250.9 L404.5,251.0 L405.0,251.1 L405.5,251.2 L405.8,251.3 L406.2,251.5 L406.5,251.5 L407.0,251.7 L407.2,251.8 L407.8,251.9 L408.0,252.0 L408.5,252.1 L409.0,252.1 L409.5,252.1 L410.0,252.2 L410.5,252.2 L410.8,252.3 L411.2,252.3 L411.8,252.4 L412.2,252.3 L412.8,252.3 L413.0,252.2 L413.5,252.1 L413.9,252.0 L414.2,251.9 L414.6,251.8 L415.0,251.6 L415.4,251.5 L415.8,251.4 L416.2,251.3 L416.5,251.2 L417.0,251.1 L417.2,251.0 L417.8,250.9 L418.2,250.8 L418.5,250.7 L419.0,250.7 L419.2,250.8 L419.8,250.9 L420.2,251.0 L420.5,251.1 L420.9,251.2 L421.2,251.4 L421.5,251.6 L421.8,251.8 L422.1,252.0 L422.3,252.2 L422.5,252.7 L422.5,253.0 L422.5,253.2 L422.2,253.6 L422.0,253.9 L421.8,254.1 L421.5,254.3 L421.2,254.5 L421.0,254.8 L420.7,255.0 L420.4,255.2 L420.2,255.5 L419.9,255.8 L419.7,256.0 L419.5,256.2 L419.1,256.5 L418.8,256.7 L418.5,256.8 L418.0,256.9 L417.6,257.0 L417.2,257.1 L416.8,257.2 L416.5,257.3 L416.0,257.5 L415.8,257.6 L415.2,257.7 L415.0,257.8 L414.5,258.0 L414.2,258.1 L413.8,258.2 L413.5,258.4 L413.2,258.5 L412.8,258.7 L412.5,258.9 L412.2,259.1 L412.0,259.2 L411.7,259.5 L411.5,259.8 L411.2,260.0 L411.0,260.2 L410.7,260.5 L410.4,260.8 L410.0,261.0 L409.8,261.2 L409.5,261.3 L409.2,261.5 L408.8,261.8 L408.5,262.0 L408.2,262.1 L408.0,262.3 L407.6,262.5 L407.2,262.7 L407.0,262.9 L406.8,263.1 L406.4,263.2 L406.0,263.4 L405.8,263.5Z M369.0,271.8 L368.5,271.9 L368.0,272.0 L367.5,272.0 L367.0,271.9 L366.5,271.8 L366.0,271.8 L365.8,271.7 L365.2,271.6 L365.0,271.5 L364.6,271.2 L364.2,271.0 L364.0,270.8 L363.8,270.5 L363.6,270.2 L363.5,270.0 L363.3,269.5 L363.2,269.2 L363.1,268.8 L363.1,268.2 L363.2,267.8 L363.4,267.5 L363.5,267.2 L363.8,266.8 L364.0,266.5 L364.1,266.2 L364.4,266.0 L364.6,265.8 L365.0,265.5 L365.2,265.3 L365.5,265.2 L366.0,265.1 L366.3,265.0 L366.8,264.9 L367.2,264.8 L367.5,264.7 L368.0,264.6 L368.2,264.5 L368.8,264.4 L369.2,264.3 L369.8,264.4 L370.2,264.5 L370.5,264.6 L370.8,264.8 L371.0,265.0 L371.2,265.3 L371.4,265.8 L371.5,266.0 L371.7,266.5 L371.8,266.8 L372.0,267.2 L372.0,267.5 L372.1,268.0 L372.0,268.5 L372.0,268.8 L371.8,269.2 L371.7,269.5 L371.5,269.9 L371.3,270.2 L371.1,270.5 L370.9,270.8 L370.6,271.0 L370.2,271.2 L370.0,271.4 L369.7,271.5 L369.2,271.7 L369.0,271.8Z M444.2,287.8 L443.8,287.8 L443.2,287.8 L442.8,287.8 L442.5,287.7 L442.0,287.5 L441.8,287.4 L441.5,287.1 L441.2,286.9 L441.0,286.5 L440.9,286.2 L440.8,285.9 L440.6,285.5 L440.6,285.0 L440.7,284.5 L440.8,284.2 L441.0,283.9 L441.2,283.5 L441.5,283.2 L441.7,283.0 L441.9,282.8 L442.2,282.5 L442.5,282.3 L442.8,282.2 L443.1,282.0 L443.5,281.9 L444.0,281.8 L444.2,281.7 L444.8,281.7 L445.2,281.7 L445.5,281.8 L446.0,281.9 L446.2,282.0 L446.6,282.2 L446.8,282.5 L447.0,282.8 L447.2,283.1 L447.4,283.5 L447.5,283.8 L447.6,284.2 L447.6,284.8 L447.5,285.2 L447.4,285.5 L447.2,285.9 L447.1,286.2 L446.9,286.5 L446.7,286.8 L446.4,287.0 L446.1,287.2 L445.8,287.4 L445.5,287.5 L445.0,287.6 L444.5,287.7 L444.2,287.8Z M402.0,292.8 L401.5,293.0 L401.0,293.0 L400.5,292.9 L400.0,292.8 L399.5,292.8 L399.2,292.7 L398.8,292.6 L398.5,292.5 L398.0,292.2 L397.8,292.0 L397.5,291.8 L397.2,291.6 L397.0,291.5 L396.6,291.2 L396.2,291.1 L396.0,290.9 L395.7,290.8 L395.5,290.5 L395.2,290.2 L395.0,289.8 L395.0,289.2 L395.1,288.8 L395.2,288.5 L395.5,288.0 L395.6,287.8 L395.8,287.4 L395.9,287.0 L396.1,286.8 L396.2,286.4 L396.5,286.1 L396.8,285.8 L397.0,285.7 L397.4,285.5 L397.8,285.4 L398.1,285.2 L398.5,285.0 L398.8,284.9 L399.1,284.8 L399.5,284.6 L400.0,284.5 L400.5,284.6 L401.0,284.7 L401.2,284.9 L401.5,285.1 L401.8,285.4 L402.0,285.7 L402.2,286.0 L402.5,286.2 L402.8,286.4 L403.0,286.6 L403.3,286.8 L403.6,287.0 L403.8,287.2 L404.0,287.5 L404.1,288.0 L404.2,288.5 L404.1,289.0 L404.0,289.5 L403.9,289.8 L403.8,290.1 L403.5,290.5 L403.4,290.8 L403.2,291.0 L403.0,291.5 L402.9,291.8 L402.8,292.1 L402.5,292.4 L402.2,292.7 L402.0,292.8Z M401.0,312.8 L400.5,312.9 L400.0,313.0 L399.5,312.9 L399.0,312.8 L398.8,312.7 L398.2,312.6 L398.0,312.5 L397.5,312.3 L397.1,312.2 L396.8,312.2 L396.2,312.2 L395.8,312.1 L395.2,312.1 L394.9,312.0 L394.5,311.9 L394.2,311.8 L393.8,311.5 L393.5,311.3 L393.2,311.1 L393.0,310.8 L392.8,310.5 L392.6,310.2 L392.4,310.0 L392.2,309.7 L392.0,309.3 L391.8,309.0 L391.7,308.8 L391.5,308.4 L391.2,308.0 L391.0,307.8 L390.8,307.5 L390.5,307.3 L390.2,307.2 L389.8,307.1 L389.2,307.1 L388.8,307.1 L388.2,307.0 L387.9,307.0 L387.5,306.9 L387.0,306.9 L386.5,306.8 L386.0,306.8 L385.7,306.8 L385.2,306.7 L384.8,306.6 L384.2,306.5 L384.0,306.5 L383.5,306.4 L383.0,306.5 L382.8,306.5 L382.2,306.7 L382.0,306.8 L381.5,307.0 L381.2,307.1 L380.8,307.2 L380.5,307.3 L380.0,307.4 L379.5,307.4 L379.2,307.5 L378.8,307.6 L378.2,307.7 L378.0,307.8 L377.5,307.9 L377.1,308.0 L376.8,308.1 L376.2,308.2 L375.9,308.2 L375.5,308.3 L375.0,308.3 L374.6,308.2 L374.2,308.2 L373.8,308.2 L373.2,308.1 L372.8,308.1 L372.2,308.1 L371.8,308.0 L371.4,308.0 L371.0,307.9 L370.5,307.8 L370.2,307.8 L369.8,307.6 L369.3,307.5 L369.0,307.4 L368.5,307.2 L368.2,307.2 L367.8,307.1 L367.4,307.0 L367.0,307.0 L366.5,307.0 L366.0,307.0 L365.8,307.0 L365.2,307.1 L364.9,307.2 L364.5,307.4 L364.2,307.5 L363.9,307.8 L363.5,308.0 L363.2,308.2 L363.0,308.3 L362.7,308.5 L362.3,308.8 L362.0,308.9 L361.8,309.0 L361.2,309.2 L361.0,309.3 L360.6,309.5 L360.2,309.6 L359.8,309.8 L359.5,309.8 L359.0,309.9 L358.5,309.9 L358.0,309.9 L357.5,309.8 L357.0,309.8 L356.5,309.8 L356.2,309.8 L355.8,309.7 L355.2,309.5 L355.0,309.4 L354.6,309.2 L354.2,309.1 L354.0,309.0 L353.6,308.8 L353.3,308.5 L353.1,308.2 L352.9,308.0 L352.7,307.8 L352.5,307.5 L352.2,307.1 L352.0,306.8 L351.9,306.5 L351.7,306.2 L351.5,305.9 L351.3,305.5 L351.2,305.2 L351.1,304.8 L351.0,304.3 L351.0,304.0 L351.0,303.8 L351.1,303.2 L351.2,303.0 L351.5,302.5 L351.6,302.2 L351.8,302.0 L352.0,301.6 L352.2,301.2 L352.4,301.0 L352.6,300.8 L352.8,300.5 L353.0,300.2 L353.3,300.0 L353.6,299.8 L354.0,299.5 L354.2,299.4 L354.5,299.2 L355.0,299.0 L355.2,298.9 L355.6,298.8 L356.0,298.6 L356.2,298.5 L356.8,298.3 L357.0,298.2 L357.5,298.1 L358.0,298.1 L358.5,298.2 L358.8,298.2 L359.2,298.3 L359.8,298.4 L360.2,298.4 L360.8,298.4 L361.2,298.4 L361.8,298.4 L362.2,298.5 L362.5,298.5 L363.0,298.6 L363.5,298.7 L363.8,298.8 L364.2,298.8 L364.8,298.8 L365.2,298.8 L365.5,298.7 L366.0,298.6 L366.3,298.5 L366.8,298.3 L367.0,298.2 L367.5,298.0 L367.8,297.9 L368.2,297.8 L368.5,297.6 L368.9,297.5 L369.2,297.4 L369.5,297.2 L370.0,297.1 L370.3,297.0 L370.8,296.9 L371.2,296.8 L371.8,296.8 L372.2,296.9 L372.8,296.9 L373.2,297.0 L373.5,297.0 L374.0,297.1 L374.5,297.1 L375.0,297.2 L375.5,297.2 L375.8,297.3 L376.2,297.4 L376.5,297.5 L377.0,297.7 L377.2,297.8 L377.5,298.0 L378.0,298.2 L378.2,298.4 L378.5,298.5 L379.0,298.7 L379.2,298.8 L379.7,299.0 L380.0,299.1 L380.3,299.2 L380.8,299.5 L381.0,299.7 L381.2,299.9 L381.5,300.2 L381.7,300.5 L381.8,300.8 L382.0,301.2 L382.1,301.5 L382.2,301.8 L382.5,302.2 L382.6,302.5 L382.8,302.8 L383.1,303.0 L383.4,303.2 L383.7,303.5 L384.0,303.6 L384.3,303.8 L384.8,303.9 L385.2,304.0 L385.5,304.0 L386.0,304.0 L386.5,304.0 L386.8,304.0 L387.2,304.0 L387.5,304.0 L388.0,304.1 L388.5,304.2 L388.8,304.3 L389.2,304.4 L389.8,304.5 L390.2,304.4 L390.7,304.2 L391.0,304.2 L391.5,304.0 L391.8,303.9 L392.2,303.8 L392.5,303.7 L393.0,303.6 L393.2,303.5 L393.8,303.3 L394.2,303.3 L394.5,303.2 L395.0,303.2 L395.5,303.1 L396.0,303.0 L396.2,303.0 L396.8,302.9 L397.2,302.8 L397.8,302.9 L398.2,303.0 L398.5,303.0 L399.0,303.1 L399.4,303.2 L399.8,303.3 L400.2,303.5 L400.5,303.5 L401.0,303.7 L401.2,303.8 L401.6,304.0 L402.0,304.2 L402.2,304.3 L402.8,304.4 L403.2,304.5 L403.8,304.5 L404.0,304.5 L404.5,304.6 L405.0,304.7 L405.2,304.8 L405.8,305.0 L406.0,305.1 L406.3,305.2 L406.6,305.5 L406.9,305.8 L407.0,306.0 L407.2,306.5 L407.3,306.8 L407.3,307.2 L407.2,307.5 L407.1,308.0 L407.0,308.3 L406.8,308.7 L406.5,309.0 L406.3,309.2 L406.2,309.5 L406.0,309.9 L405.9,310.2 L405.7,310.5 L405.5,311.0 L405.3,311.2 L405.1,311.5 L404.8,311.7 L404.5,311.8 L404.0,312.0 L403.8,312.0 L403.2,312.1 L402.8,312.2 L402.5,312.2 L402.0,312.4 L401.7,312.5 L401.2,312.7 L401.0,312.8Z M421.5,315.0 L421.1,315.0 L420.8,315.0 L420.2,314.9 L419.8,314.8 L419.5,314.7 L419.0,314.6 L418.7,314.5 L418.2,314.4 L417.8,314.2 L417.5,314.1 L417.2,314.0 L416.8,313.8 L416.5,313.5 L416.3,313.2 L416.0,313.0 L415.8,312.8 L415.7,312.5 L415.5,312.2 L415.2,311.8 L415.1,311.5 L415.0,311.1 L414.9,310.8 L414.8,310.2 L414.9,309.8 L414.9,309.2 L415.0,308.9 L415.1,308.5 L415.2,308.0 L415.3,307.8 L415.5,307.4 L415.8,307.0 L416.0,306.8 L416.2,306.5 L416.5,306.3 L416.8,306.1 L417.0,305.9 L417.2,305.7 L417.7,305.5 L418.0,305.3 L418.2,305.2 L418.7,305.0 L419.0,304.9 L419.5,304.8 L419.8,304.7 L420.2,304.7 L420.8,304.7 L421.2,304.8 L421.5,304.8 L422.0,304.9 L422.5,305.0 L422.8,305.0 L423.2,305.1 L423.6,305.2 L424.0,305.4 L424.3,305.5 L424.8,305.7 L425.0,305.9 L425.2,306.0 L425.5,306.2 L425.8,306.5 L426.0,306.8 L426.2,307.1 L426.5,307.5 L426.7,307.8 L426.8,308.0 L427.0,308.5 L427.1,308.8 L427.2,309.2 L427.2,309.7 L427.3,310.0 L427.2,310.2 L427.1,310.8 L427.0,311.2 L426.9,311.5 L426.8,311.8 L426.5,312.2 L426.4,312.5 L426.2,312.8 L426.0,313.0 L425.8,313.3 L425.5,313.6 L425.2,313.8 L424.9,314.0 L424.5,314.2 L424.2,314.3 L423.8,314.5 L423.5,314.6 L423.0,314.7 L422.8,314.8 L422.2,314.9 L421.8,315.0 L421.5,315.0Z M375.8,320.3 L375.2,320.4 L374.8,320.4 L374.2,320.5 L373.8,320.4 L373.2,320.3 L372.9,320.2 L372.5,320.1 L372.2,319.9 L371.9,319.8 L371.6,319.5 L371.4,319.2 L371.2,319.0 L371.2,318.5 L371.2,318.1 L371.4,317.8 L371.6,317.5 L371.8,317.2 L372.0,317.0 L372.2,316.7 L372.5,316.5 L372.8,316.2 L373.2,316.1 L373.8,316.1 L374.2,316.2 L374.5,316.4 L374.8,316.6 L375.1,316.8 L375.5,317.0 L375.8,317.1 L376.0,317.2 L376.5,317.4 L376.8,317.5 L377.2,317.7 L377.5,317.9 L377.7,318.2 L377.6,318.8 L377.5,319.0 L377.2,319.3 L377.0,319.6 L376.8,319.8 L376.4,320.0 L376.0,320.2 L375.8,320.3Z M434.2,324.5 L433.8,324.6 L433.3,324.5 L433.0,324.3 L432.8,324.1 L432.5,323.9 L432.3,323.5 L432.1,323.2 L432.0,322.9 L431.9,322.5 L431.8,322.0 L431.9,321.5 L432.0,321.2 L432.2,320.8 L432.5,320.5 L432.7,320.2 L433.0,320.0 L433.2,319.8 L433.5,319.7 L434.0,319.5 L434.2,319.5 L434.6,319.5 L435.0,319.6 L435.3,319.8 L435.8,320.0 L436.0,320.1 L436.2,320.3 L436.5,320.5 L436.8,320.8 L437.0,321.1 L437.2,321.5 L437.2,322.0 L437.1,322.5 L437.0,322.8 L436.8,323.1 L436.5,323.4 L436.2,323.5 L435.9,323.8 L435.5,324.0 L435.2,324.1 L435.0,324.2 L434.5,324.5 L434.2,324.5Z M370.0,336.0 L369.5,336.1 L369.0,336.1 L368.5,336.0 L368.2,336.0 L367.8,336.0 L367.2,335.9 L366.8,335.9 L366.2,335.9 L365.8,336.0 L365.2,336.0 L364.8,335.9 L364.2,335.8 L363.9,335.8 L363.5,335.6 L363.0,335.5 L362.5,335.6 L362.0,335.7 L361.8,335.8 L361.2,335.8 L360.8,335.8 L360.5,335.7 L360.2,335.5 L359.8,335.2 L359.5,335.1 L359.2,334.9 L358.8,334.8 L358.2,334.8 L357.8,334.8 L357.2,334.8 L356.8,334.8 L356.5,334.7 L356.2,334.5 L355.8,334.2 L355.5,334.0 L355.2,333.8 L355.0,333.6 L354.8,333.3 L354.5,333.1 L354.2,332.9 L354.0,332.7 L353.8,332.4 L353.5,332.0 L353.4,331.8 L353.2,331.3 L353.2,331.0 L353.2,330.5 L353.2,330.0 L353.2,329.7 L353.3,329.2 L353.5,328.8 L353.7,328.5 L354.0,328.2 L354.2,328.1 L354.5,328.0 L355.0,327.8 L355.2,327.7 L355.7,327.5 L356.0,327.3 L356.2,327.2 L356.8,327.0 L357.0,327.0 L357.5,326.9 L358.0,326.8 L358.5,326.8 L359.0,326.8 L359.5,326.8 L360.0,326.9 L360.3,327.0 L360.8,327.1 L361.1,327.2 L361.5,327.3 L362.0,327.4 L362.5,327.4 L362.9,327.2 L363.2,327.1 L363.5,326.9 L363.8,326.8 L364.2,326.5 L364.5,326.4 L364.8,326.2 L365.2,326.1 L365.6,326.0 L366.0,325.9 L366.5,325.8 L367.0,325.8 L367.5,325.8 L368.0,325.8 L368.5,325.9 L369.0,326.0 L369.2,326.0 L369.8,326.1 L370.2,326.2 L370.5,326.3 L370.9,326.2 L371.2,326.2 L371.8,326.1 L372.2,326.1 L372.8,326.1 L373.2,326.1 L373.8,326.1 L374.2,326.2 L374.5,326.3 L375.0,326.4 L375.2,326.5 L375.6,326.8 L375.9,327.0 L376.2,327.2 L376.4,327.5 L376.6,327.8 L376.8,328.0 L377.0,328.4 L377.2,328.6 L377.5,328.9 L377.8,329.2 L378.0,329.4 L378.2,329.8 L378.3,330.0 L378.4,330.5 L378.3,331.0 L378.2,331.2 L378.0,331.5 L377.7,331.8 L377.5,332.0 L377.2,332.2 L376.9,332.5 L376.6,332.8 L376.4,333.0 L376.1,333.2 L375.8,333.5 L375.5,333.7 L375.2,333.9 L375.0,334.1 L374.8,334.3 L374.3,334.5 L374.0,334.6 L373.7,334.8 L373.2,334.9 L373.0,335.0 L372.5,335.2 L372.2,335.3 L371.8,335.5 L371.5,335.6 L371.2,335.8 L370.8,335.9 L370.2,336.0 L370.0,336.0Z M441.8,340.0 L441.2,340.1 L440.8,340.0 L440.5,340.0 L440.0,339.8 L439.8,339.7 L439.5,339.5 L439.2,339.2 L439.0,338.9 L438.8,338.5 L438.6,338.2 L438.5,338.0 L438.3,337.5 L438.2,337.2 L438.2,336.8 L438.2,336.2 L438.3,336.0 L438.4,335.5 L438.5,335.2 L438.8,334.8 L439.0,334.5 L439.2,334.3 L439.5,334.2 L439.9,334.0 L440.2,333.9 L440.8,333.8 L441.2,333.8 L441.8,333.9 L442.1,334.0 L442.5,334.2 L442.8,334.3 L443.1,334.5 L443.4,334.8 L443.7,335.0 L443.9,335.2 L444.1,335.5 L444.2,336.0 L444.3,336.2 L444.4,336.8 L444.4,337.2 L444.3,337.8 L444.2,338.0 L444.0,338.5 L443.9,338.8 L443.7,339.0 L443.4,339.2 L443.1,339.5 L442.8,339.7 L442.5,339.8 L442.0,340.0 L441.8,340.0Z M373.8,389.8 L373.2,389.9 L372.8,389.9 L372.2,389.9 L371.8,389.8 L371.5,389.7 L371.0,389.6 L370.8,389.5 L370.2,389.3 L370.0,389.1 L369.7,389.0 L369.3,388.8 L369.0,388.6 L368.8,388.4 L368.5,388.2 L368.1,388.0 L367.9,387.8 L367.6,387.5 L367.4,387.2 L367.2,387.0 L367.0,386.7 L366.8,386.3 L366.6,386.0 L366.5,385.7 L366.3,385.2 L366.3,384.8 L366.2,384.5 L366.2,384.1 L366.3,383.8 L366.3,383.2 L366.4,382.8 L366.5,382.2 L366.5,382.0 L366.7,381.5 L366.8,381.2 L367.0,380.8 L367.2,380.5 L367.3,380.2 L367.5,380.0 L367.8,379.8 L368.0,379.5 L368.2,379.2 L368.5,379.0 L368.8,378.7 L369.0,378.5 L369.3,378.2 L369.6,378.0 L370.0,377.8 L370.2,377.6 L370.6,377.5 L371.0,377.4 L371.5,377.3 L372.0,377.3 L372.5,377.3 L373.0,377.4 L373.5,377.5 L373.8,377.5 L374.2,377.7 L374.5,377.8 L374.9,378.0 L375.2,378.2 L375.5,378.3 L375.8,378.5 L376.1,378.8 L376.4,379.0 L376.7,379.2 L377.0,379.5 L377.2,379.8 L377.4,380.0 L377.6,380.2 L377.8,380.5 L378.0,380.9 L378.1,381.2 L378.2,381.5 L378.4,382.0 L378.5,382.5 L378.5,382.8 L378.6,383.2 L378.6,383.8 L378.6,384.2 L378.5,384.8 L378.5,385.0 L378.3,385.5 L378.2,385.8 L378.0,386.2 L377.9,386.5 L377.8,386.8 L377.5,387.2 L377.4,387.5 L377.2,387.8 L377.0,388.0 L376.7,388.2 L376.4,388.5 L376.1,388.8 L375.8,388.9 L375.5,389.1 L375.2,389.2 L374.8,389.5 L374.5,389.6 L374.0,389.7 L373.8,389.8Z M311.8,394.3 L311.2,394.4 L310.8,394.4 L310.2,394.4 L309.8,394.4 L309.2,394.3 L309.0,394.2 L308.5,394.0 L308.2,393.9 L307.9,393.8 L307.5,393.6 L307.2,393.5 L306.8,393.2 L306.5,393.1 L306.2,392.9 L306.0,392.7 L305.8,392.4 L305.5,392.1 L305.3,391.8 L305.2,391.5 L305.0,391.0 L304.9,390.8 L304.8,390.3 L304.7,390.0 L304.6,389.5 L304.5,389.0 L304.5,388.8 L304.4,388.2 L304.5,387.8 L304.5,387.2 L304.5,387.0 L304.6,386.5 L304.7,386.0 L304.8,385.8 L305.0,385.2 L305.1,385.0 L305.2,384.7 L305.5,384.4 L305.8,384.1 L306.0,383.8 L306.2,383.6 L306.5,383.4 L306.8,383.2 L307.2,383.0 L307.5,382.8 L307.8,382.7 L308.2,382.5 L308.5,382.4 L309.0,382.3 L309.2,382.2 L309.8,382.1 L310.2,382.1 L310.8,382.1 L311.2,382.1 L311.8,382.2 L312.0,382.3 L312.5,382.4 L312.9,382.5 L313.2,382.6 L313.6,382.8 L314.0,382.9 L314.2,383.0 L314.6,383.2 L315.0,383.5 L315.2,383.7 L315.5,383.9 L315.8,384.2 L316.0,384.5 L316.2,384.8 L316.4,385.0 L316.5,385.2 L316.8,385.7 L316.9,386.0 L317.0,386.4 L317.1,386.8 L317.1,387.2 L317.2,387.8 L317.2,388.2 L317.2,388.8 L317.1,389.2 L317.0,389.8 L317.0,390.0 L316.8,390.5 L316.7,390.8 L316.5,391.1 L316.2,391.5 L316.1,391.8 L315.9,392.0 L315.6,392.2 L315.4,392.5 L315.1,392.8 L314.8,393.0 L314.5,393.1 L314.2,393.3 L313.9,393.5 L313.5,393.7 L313.2,393.8 L312.8,394.0 L312.5,394.1 L312.0,394.2 L311.8,394.3Z M422.0,392.0 L421.5,392.1 L421.0,392.1 L420.5,392.1 L420.0,392.0 L419.8,392.0 L419.2,391.8 L419.0,391.6 L418.7,391.5 L418.2,391.3 L418.0,391.1 L417.8,391.0 L417.4,390.8 L417.1,390.5 L416.9,390.2 L416.7,390.0 L416.5,389.7 L416.2,389.3 L416.1,389.0 L416.0,388.8 L415.8,388.2 L415.8,387.8 L415.8,387.2 L415.8,386.8 L415.9,386.2 L416.0,385.9 L416.2,385.5 L416.3,385.2 L416.5,385.0 L416.9,384.8 L417.2,384.6 L417.8,384.6 L418.2,384.6 L418.8,384.7 L419.0,384.8 L419.5,384.9 L420.0,385.0 L420.2,385.0 L420.8,385.1 L421.2,385.2 L421.6,385.2 L422.0,385.4 L422.4,385.5 L422.8,385.6 L423.0,385.8 L423.4,386.0 L423.7,386.2 L424.0,386.5 L424.2,386.8 L424.4,387.0 L424.5,387.2 L424.7,387.8 L424.8,388.0 L424.8,388.5 L424.8,389.0 L424.8,389.3 L424.6,389.8 L424.5,390.0 L424.2,390.4 L424.0,390.7 L423.8,391.0 L423.5,391.2 L423.2,391.4 L423.0,391.6 L422.7,391.8 L422.2,391.9 L422.0,392.0Z M390.8,46.5 L390.4,46.5 L390.0,46.5 L389.5,46.3 L389.2,46.2 L388.8,46.0 L388.5,45.9 L388.2,45.6 L388.0,45.2 L388.0,45.0 L388.1,44.8 L388.4,44.5 L388.8,44.3 L389.0,44.2 L389.5,44.1 L389.8,44.0 L390.2,43.8 L390.5,43.7 L391.0,43.7 L391.5,43.7 L392.0,43.7 L392.4,43.8 L392.8,43.8 L393.2,43.9 L393.5,44.0 L393.9,44.2 L394.2,44.5 L394.4,44.8 L394.4,45.2 L394.2,45.5 L394.0,45.8 L393.7,46.0 L393.2,46.2 L392.8,46.2 L392.5,46.3 L392.0,46.4 L391.5,46.4 L391.0,46.5 L390.8,46.5Z M380.2,60.3 L379.8,60.4 L379.2,60.4 L378.8,60.3 L378.2,60.3 L377.8,60.2 L377.5,60.2 L377.0,60.2 L376.5,60.2 L376.0,60.2 L375.5,60.1 L375.1,60.0 L374.8,59.9 L374.5,59.8 L374.1,59.5 L373.8,59.2 L373.6,59.0 L373.5,58.7 L373.3,58.2 L373.2,58.0 L373.2,57.5 L373.2,57.0 L373.2,56.5 L373.3,56.2 L373.5,55.8 L373.7,55.5 L373.9,55.2 L374.1,55.0 L374.3,54.8 L374.6,54.5 L374.8,54.2 L375.1,54.0 L375.4,53.8 L375.7,53.5 L376.0,53.3 L376.2,53.2 L376.8,53.0 L377.0,53.0 L377.5,52.9 L378.0,52.9 L378.5,52.9 L379.0,52.9 L379.5,52.9 L379.9,53.0 L380.2,53.1 L380.8,53.2 L381.0,53.3 L381.5,53.5 L381.8,53.6 L382.1,53.8 L382.5,54.0 L382.8,54.2 L383.0,54.4 L383.2,54.7 L383.4,55.0 L383.5,55.2 L383.6,55.8 L383.6,56.2 L383.6,56.8 L383.5,57.1 L383.4,57.5 L383.2,57.8 L383.0,58.1 L382.8,58.5 L382.5,58.8 L382.3,59.0 L382.0,59.2 L381.8,59.5 L381.5,59.7 L381.2,59.9 L381.0,60.0 L380.5,60.2 L380.2,60.3Z M421.0,83.8 L420.5,83.8 L420.0,83.9 L419.5,83.9 L419.0,83.8 L418.6,83.8 L418.2,83.7 L417.8,83.5 L417.5,83.5 L417.0,83.3 L416.8,83.2 L416.4,83.0 L416.0,82.8 L415.8,82.7 L415.5,82.5 L415.2,82.2 L414.9,82.0 L414.6,81.8 L414.4,81.5 L414.2,81.2 L414.0,81.0 L413.8,80.6 L413.6,80.2 L413.5,80.0 L413.3,79.5 L413.3,79.0 L413.2,78.8 L413.2,78.2 L413.2,77.9 L413.3,77.5 L413.4,77.0 L413.5,76.8 L413.8,76.3 L413.9,76.0 L414.1,75.8 L414.4,75.5 L414.7,75.2 L415.0,75.1 L415.2,75.0 L415.7,74.8 L416.0,74.6 L416.2,74.5 L416.8,74.3 L417.0,74.1 L417.3,74.0 L417.8,73.8 L418.0,73.7 L418.5,73.5 L418.8,73.4 L419.2,73.4 L419.8,73.3 L420.2,73.4 L420.8,73.5 L421.0,73.5 L421.5,73.6 L422.0,73.7 L422.2,73.8 L422.8,73.9 L423.0,74.0 L423.5,74.2 L423.8,74.3 L424.2,74.5 L424.5,74.6 L424.9,74.8 L425.2,74.9 L425.5,75.0 L426.0,75.2 L426.2,75.4 L426.5,75.5 L426.8,75.8 L427.2,76.0 L427.5,76.2 L427.8,76.5 L428.0,76.7 L428.2,77.0 L428.5,77.2 L428.7,77.5 L428.9,77.8 L429.1,78.0 L429.2,78.3 L429.4,78.8 L429.3,79.2 L429.2,79.5 L429.0,79.9 L428.8,80.2 L428.5,80.5 L428.2,80.7 L428.0,80.9 L427.8,81.0 L427.3,81.2 L427.0,81.4 L426.8,81.6 L426.5,81.8 L426.2,82.0 L425.8,82.2 L425.5,82.5 L425.2,82.6 L425.0,82.8 L424.5,82.9 L424.2,83.0 L423.8,83.2 L423.5,83.2 L423.0,83.4 L422.5,83.5 L422.2,83.5 L421.8,83.6 L421.2,83.7 L421.0,83.8Z M444.5,135.0 L444.0,135.0 L443.8,134.8 L443.5,134.6 L443.4,134.2 L443.4,133.8 L443.7,133.5 L444.0,133.3 L444.5,133.3 L445.0,133.4 L445.2,133.5 L445.5,133.9 L445.5,134.2 L445.4,134.5 L445.1,134.8 L444.8,135.0 L444.5,135.0Z M374.0,170.3 L373.8,170.2 L373.2,170.1 L373.0,169.9 L372.8,169.6 L372.5,169.3 L372.3,169.0 L372.2,168.8 L372.1,168.2 L372.0,167.8 L372.1,167.2 L372.2,166.8 L372.3,166.5 L372.5,166.0 L372.7,165.8 L372.9,165.5 L373.2,165.3 L373.8,165.3 L374.2,165.5 L374.5,165.6 L375.0,165.7 L375.5,165.7 L376.0,165.6 L376.2,165.5 L376.8,165.3 L377.0,165.2 L377.4,165.0 L377.8,164.8 L378.0,164.7 L378.5,164.6 L378.8,164.5 L379.2,164.4 L379.6,164.2 L380.0,164.1 L380.5,164.0 L380.9,164.0 L381.2,164.0 L381.5,164.0 L382.0,164.1 L382.5,164.2 L382.8,164.4 L383.1,164.5 L383.5,164.7 L383.8,164.8 L384.1,165.0 L384.5,165.2 L384.8,165.5 L385.0,165.7 L385.2,166.0 L385.3,166.2 L385.4,166.8 L385.3,167.2 L385.2,167.5 L385.0,167.9 L384.8,168.2 L384.5,168.3 L384.0,168.5 L383.8,168.5 L383.2,168.7 L383.0,168.8 L382.7,169.0 L382.3,169.2 L382.0,169.5 L381.8,169.6 L381.4,169.8 L381.0,169.9 L380.5,169.9 L380.0,169.9 L379.5,169.9 L379.0,169.9 L378.5,169.9 L378.0,169.9 L377.5,170.0 L377.2,170.0 L376.8,170.1 L376.2,170.1 L375.8,170.1 L375.2,170.1 L374.8,170.2 L374.2,170.2 L374.0,170.3Z M446.5,169.5 L446.0,169.7 L445.5,169.7 L445.0,169.5 L444.8,169.3 L444.6,169.0 L444.5,168.5 L444.6,168.0 L444.8,167.7 L445.0,167.3 L445.2,167.0 L445.5,166.8 L445.8,166.7 L446.2,166.5 L446.5,166.5 L447.0,166.5 L447.2,166.5 L447.6,166.8 L447.9,167.0 L448.0,167.5 L447.9,168.0 L447.8,168.3 L447.5,168.7 L447.3,169.0 L447.0,169.2 L446.8,169.4 L446.5,169.5Z M441.5,175.0 L441.0,175.2 L440.5,175.1 L440.2,174.9 L440.0,174.7 L439.7,174.5 L439.5,174.2 L439.2,174.0 L439.0,173.6 L438.9,173.2 L438.9,172.8 L439.0,172.4 L439.2,172.0 L439.5,171.8 L439.8,171.6 L440.1,171.5 L440.5,171.4 L440.9,171.5 L441.2,171.7 L441.5,172.0 L441.7,172.2 L441.8,172.5 L441.9,173.0 L442.0,173.5 L442.0,174.0 L441.9,174.5 L441.8,174.8 L441.5,175.0Z M386.5,188.5 L386.0,188.5 L385.8,188.5 L385.2,188.4 L384.8,188.2 L384.5,188.1 L384.1,188.0 L383.8,187.9 L383.5,187.8 L383.0,187.5 L382.8,187.3 L382.5,187.1 L382.2,186.9 L382.0,186.6 L381.8,186.3 L381.6,186.0 L381.4,185.8 L381.2,185.4 L381.1,185.0 L381.0,184.8 L380.9,184.2 L380.9,183.8 L381.0,183.5 L381.2,183.1 L381.5,182.8 L381.6,182.5 L381.8,182.2 L382.0,181.8 L382.2,181.5 L382.5,181.3 L382.8,181.1 L383.0,180.9 L383.3,180.8 L383.6,180.5 L384.0,180.2 L384.2,180.0 L384.5,179.8 L384.8,179.6 L385.0,179.4 L385.4,179.2 L385.8,179.1 L386.2,179.1 L386.7,179.0 L387.0,179.0 L387.5,178.9 L388.0,178.9 L388.5,178.8 L389.0,178.8 L389.2,178.7 L389.8,178.7 L390.2,178.6 L390.5,178.5 L391.0,178.4 L391.5,178.3 L391.8,178.2 L392.2,178.0 L392.5,177.9 L392.8,177.8 L393.2,177.5 L393.5,177.4 L393.8,177.2 L394.2,177.0 L394.5,176.8 L394.8,176.7 L395.1,176.5 L395.5,176.4 L395.9,176.2 L396.2,176.2 L396.8,176.1 L397.2,176.1 L397.8,176.0 L398.2,176.0 L398.8,176.0 L399.2,176.1 L399.7,176.2 L400.0,176.3 L400.3,176.5 L400.8,176.7 L401.0,176.9 L401.2,177.0 L401.6,177.2 L402.0,177.5 L402.2,177.6 L402.6,177.8 L403.0,177.9 L403.2,178.0 L403.8,178.2 L404.0,178.3 L404.5,178.5 L404.8,178.5 L405.2,178.7 L405.8,178.7 L406.2,178.6 L406.8,178.6 L407.2,178.5 L407.8,178.6 L408.2,178.7 L408.5,178.8 L408.9,179.0 L409.2,179.2 L409.5,179.3 L409.8,179.5 L410.2,179.8 L410.5,180.0 L410.8,180.2 L411.0,180.5 L411.1,180.8 L411.2,181.1 L411.4,181.5 L411.4,182.0 L411.4,182.5 L411.3,183.0 L411.2,183.2 L411.0,183.6 L410.8,184.0 L410.6,184.2 L410.3,184.5 L410.0,184.7 L409.8,184.9 L409.5,185.0 L409.0,185.2 L408.7,185.2 L408.2,185.3 L407.8,185.4 L407.2,185.4 L406.8,185.3 L406.5,185.2 L406.0,185.0 L405.8,184.8 L405.5,184.7 L405.2,184.5 L404.8,184.3 L404.2,184.3 L403.8,184.3 L403.2,184.4 L403.0,184.5 L402.5,184.7 L402.2,184.8 L401.8,184.9 L401.5,185.1 L401.2,185.2 L400.8,185.5 L400.5,185.6 L400.2,185.8 L399.8,186.0 L399.5,186.1 L399.0,186.2 L398.5,186.2 L398.2,186.3 L397.8,186.3 L397.5,186.2 L397.0,186.2 L396.5,186.2 L396.0,186.1 L395.5,186.0 L395.1,186.0 L394.8,186.0 L394.2,185.9 L393.8,185.9 L393.2,185.9 L392.8,186.0 L392.5,186.0 L392.0,186.1 L391.7,186.2 L391.2,186.5 L391.0,186.6 L390.8,186.8 L390.5,187.0 L390.1,187.2 L389.8,187.5 L389.5,187.6 L389.1,187.8 L388.8,187.9 L388.5,188.0 L388.0,188.2 L387.8,188.3 L387.2,188.4 L386.8,188.5 L386.5,188.5Z M368.8,184.0 L368.2,184.1 L367.8,184.1 L367.4,184.0 L367.0,183.9 L366.5,183.8 L366.2,183.6 L365.8,183.5 L365.5,183.4 L365.0,183.2 L364.8,183.2 L364.4,183.0 L364.0,182.8 L363.8,182.6 L363.5,182.3 L363.4,182.0 L363.4,181.5 L363.5,181.2 L363.7,180.8 L363.9,180.5 L364.1,180.2 L364.4,180.0 L364.8,179.8 L365.2,179.8 L365.8,179.8 L366.2,179.9 L366.8,179.9 L367.2,179.9 L367.8,179.8 L368.0,179.7 L368.5,179.6 L368.9,179.5 L369.2,179.5 L369.8,179.5 L370.0,179.5 L370.5,179.7 L370.8,179.8 L371.1,180.0 L371.5,180.2 L371.8,180.3 L372.2,180.5 L372.5,180.7 L372.8,180.8 L373.0,181.0 L373.2,181.3 L373.4,181.8 L373.4,182.2 L373.2,182.5 L373.0,182.8 L372.8,183.0 L372.5,183.2 L372.1,183.5 L371.8,183.7 L371.4,183.8 L371.0,183.8 L370.5,183.8 L370.0,183.8 L369.5,183.9 L369.0,184.0 L368.8,184.0Z M461.0,182.8 L460.7,182.8 L460.5,182.5 L460.6,182.2 L460.9,182.2 L461.1,182.5 L461.0,182.8Z M397.5,220.3 L397.0,220.4 L396.5,220.4 L396.0,220.4 L395.5,220.4 L395.0,220.4 L394.5,220.3 L394.1,220.2 L393.8,220.2 L393.2,220.1 L392.9,220.0 L392.5,220.0 L392.0,220.0 L391.7,220.0 L391.2,220.1 L390.8,220.2 L390.2,220.1 L389.9,220.0 L389.5,219.8 L389.2,219.6 L389.0,219.4 L388.8,219.1 L388.5,218.8 L388.3,218.5 L388.2,218.2 L388.0,217.8 L387.9,217.5 L387.8,217.0 L387.7,216.8 L387.5,216.2 L387.6,215.8 L387.8,215.4 L388.0,215.1 L388.2,214.9 L388.6,214.8 L389.0,214.5 L389.2,214.4 L389.5,214.2 L389.8,214.0 L390.0,213.8 L390.3,213.5 L390.6,213.2 L390.9,213.0 L391.2,212.8 L391.5,212.6 L391.8,212.5 L392.2,212.3 L392.5,212.2 L393.0,212.1 L393.4,212.0 L393.8,211.9 L394.1,211.8 L394.5,211.6 L394.8,211.5 L395.2,211.3 L395.5,211.2 L396.0,211.1 L396.5,211.1 L396.9,211.0 L397.2,211.0 L397.8,210.9 L398.2,210.8 L398.8,210.8 L399.2,210.8 L399.8,210.8 L400.2,210.8 L400.8,210.8 L401.2,210.8 L401.8,210.8 L402.2,210.8 L402.8,210.8 L403.2,210.8 L403.5,210.7 L403.9,210.5 L404.2,210.3 L404.5,210.2 L404.9,210.0 L405.2,209.8 L405.5,209.6 L405.8,209.4 L406.0,209.2 L406.3,209.0 L406.8,208.8 L407.0,208.6 L407.4,208.5 L407.8,208.4 L408.1,208.2 L408.5,208.1 L408.8,208.0 L409.2,207.8 L409.5,207.7 L409.9,207.5 L410.2,207.4 L410.6,207.2 L411.0,207.2 L411.5,207.1 L412.0,207.2 L412.2,207.3 L412.7,207.5 L413.0,207.8 L413.2,208.0 L413.3,208.2 L413.4,208.8 L413.4,209.2 L413.3,209.8 L413.2,210.0 L413.0,210.5 L412.9,210.8 L412.8,211.2 L412.6,211.5 L412.5,211.8 L412.3,212.2 L412.2,212.5 L412.0,212.9 L411.9,213.2 L411.7,213.5 L411.5,214.0 L411.5,214.2 L411.3,214.8 L411.2,215.1 L411.1,215.5 L411.0,216.0 L410.9,216.2 L410.8,216.6 L410.5,217.0 L410.2,217.2 L410.0,217.4 L409.7,217.5 L409.2,217.5 L409.0,217.5 L408.5,217.4 L408.0,217.2 L407.8,217.2 L407.2,217.2 L406.8,217.1 L406.2,217.1 L405.8,217.2 L405.2,217.2 L405.0,217.3 L404.5,217.4 L404.2,217.6 L404.0,217.8 L403.7,218.0 L403.4,218.2 L403.0,218.5 L402.8,218.7 L402.5,218.8 L402.0,218.9 L401.8,219.0 L401.2,219.2 L401.0,219.3 L400.5,219.5 L400.2,219.6 L399.8,219.7 L399.5,219.8 L399.0,219.9 L398.6,220.0 L398.2,220.1 L397.8,220.2 L397.5,220.3Z M438.5,222.3 L438.0,222.3 L437.5,222.3 L437.0,222.3 L436.5,222.3 L436.0,222.3 L435.5,222.4 L435.0,222.4 L434.5,222.4 L434.0,222.3 L433.5,222.3 L433.2,222.2 L432.8,222.1 L432.2,222.0 L432.0,221.9 L431.5,221.8 L431.2,221.7 L431.0,221.5 L430.6,221.2 L430.3,221.0 L430.1,220.8 L429.9,220.5 L429.8,220.2 L429.5,219.8 L429.5,219.5 L429.3,219.0 L429.2,218.6 L429.2,218.2 L429.3,218.0 L429.4,217.5 L429.6,217.2 L429.8,217.0 L430.1,216.8 L430.4,216.5 L430.8,216.3 L431.0,216.1 L431.2,215.9 L431.6,215.8 L432.0,215.6 L432.2,215.5 L432.8,215.3 L433.0,215.2 L433.5,215.1 L434.0,215.0 L434.5,215.0 L435.0,215.0 L435.5,215.0 L436.0,215.1 L436.5,215.1 L437.0,215.1 L437.5,215.1 L438.0,215.1 L438.5,215.2 L438.8,215.3 L439.2,215.5 L439.5,215.7 L439.8,215.8 L440.0,216.0 L440.4,216.2 L440.8,216.5 L441.0,216.7 L441.2,216.8 L441.5,217.0 L441.8,217.2 L442.0,217.5 L442.2,217.8 L442.5,218.2 L442.5,218.5 L442.6,219.0 L442.6,219.5 L442.5,219.8 L442.3,220.2 L442.1,220.5 L441.8,220.8 L441.5,221.0 L441.2,221.2 L441.0,221.4 L440.8,221.5 L440.2,221.7 L440.0,221.8 L439.6,222.0 L439.2,222.1 L438.8,222.2 L438.5,222.3Z M373.8,219.8 L373.2,219.9 L372.8,220.0 L372.2,220.0 L371.8,220.0 L371.2,219.9 L370.8,219.8 L370.4,219.8 L370.0,219.6 L369.7,219.5 L369.2,219.3 L369.0,219.2 L368.5,219.0 L368.2,219.0 L367.8,218.9 L367.2,218.9 L366.8,219.0 L366.5,219.1 L366.0,219.2 L365.5,219.2 L365.0,219.0 L364.8,218.9 L364.5,218.8 L364.2,218.4 L364.1,218.0 L364.2,217.5 L364.4,217.2 L364.7,217.0 L365.0,216.9 L365.3,216.8 L365.8,216.6 L366.2,216.5 L366.5,216.4 L367.0,216.3 L367.2,216.2 L367.7,216.0 L368.0,215.9 L368.4,215.8 L368.8,215.6 L369.0,215.5 L369.5,215.4 L370.0,215.3 L370.5,215.4 L370.8,215.5 L371.2,215.7 L371.5,215.8 L371.9,216.0 L372.2,216.2 L372.5,216.3 L373.0,216.4 L373.5,216.4 L374.0,216.3 L374.3,216.2 L374.8,216.2 L375.2,216.1 L375.8,216.2 L376.0,216.3 L376.2,216.5 L376.5,216.8 L376.7,217.2 L376.6,217.8 L376.5,218.0 L376.2,218.3 L376.0,218.7 L375.8,218.9 L375.5,219.1 L375.2,219.3 L374.8,219.5 L374.5,219.6 L374.0,219.7 L373.8,219.8Z M394.2,230.1 L393.8,230.1 L393.3,230.0 L393.0,229.9 L392.8,229.7 L392.2,229.5 L392.0,229.4 L391.5,229.3 L391.0,229.3 L390.8,229.2 L390.2,229.1 L390.0,228.9 L389.8,228.7 L389.5,228.5 L389.2,228.2 L388.9,228.0 L388.6,227.8 L388.4,227.5 L388.2,227.2 L388.0,226.9 L388.0,226.5 L388.0,226.1 L388.1,225.8 L388.2,225.3 L388.4,225.0 L388.5,224.6 L388.7,224.2 L388.8,224.0 L389.0,223.7 L389.2,223.5 L389.6,223.2 L390.0,223.2 L390.2,223.3 L390.5,223.5 L390.8,223.8 L391.0,224.1 L391.2,224.3 L391.6,224.5 L392.0,224.6 L392.5,224.7 L392.9,224.8 L393.2,224.8 L393.7,225.0 L394.0,225.2 L394.2,225.4 L394.5,225.7 L394.7,226.0 L394.9,226.2 L395.0,226.5 L395.2,226.8 L395.5,227.2 L395.7,227.5 L395.8,227.8 L395.9,228.2 L395.8,228.8 L395.7,229.0 L395.5,229.2 L395.2,229.5 L394.9,229.8 L394.5,230.0 L394.2,230.1Z M372.2,256.5 L371.8,256.6 L371.2,256.6 L370.8,256.6 L370.3,256.5 L370.0,256.4 L369.8,256.2 L369.5,256.0 L369.1,255.8 L368.8,255.5 L368.5,255.2 L368.2,255.1 L368.0,254.9 L367.7,254.8 L367.3,254.5 L367.0,254.2 L366.8,254.0 L366.6,253.8 L366.5,253.5 L366.4,253.0 L366.3,252.5 L366.2,252.1 L366.2,251.8 L366.1,251.2 L366.0,250.8 L365.9,250.5 L365.9,250.0 L365.9,249.5 L366.1,249.2 L366.2,249.0 L366.5,248.7 L366.8,248.3 L366.9,248.0 L367.0,247.8 L367.2,247.4 L367.5,247.0 L367.6,246.8 L367.8,246.5 L368.0,246.2 L368.3,246.0 L368.6,245.8 L368.9,245.5 L369.2,245.2 L369.5,245.0 L369.8,244.9 L370.0,244.7 L370.5,244.5 L370.8,244.4 L371.2,244.3 L371.8,244.3 L372.2,244.3 L372.5,244.2 L373.0,244.2 L373.5,244.1 L373.8,244.0 L374.2,243.9 L374.8,243.8 L375.0,243.8 L375.5,243.6 L376.0,243.5 L376.3,243.5 L376.8,243.5 L377.1,243.5 L377.5,243.6 L378.0,243.7 L378.3,243.8 L378.8,243.8 L379.2,243.8 L379.5,243.7 L380.0,243.6 L380.3,243.5 L380.8,243.3 L381.0,243.2 L381.5,243.1 L381.8,243.0 L382.2,242.8 L382.5,242.8 L383.0,242.6 L383.5,242.5 L383.8,242.5 L384.2,242.4 L384.8,242.5 L385.2,242.5 L385.5,242.5 L386.0,242.6 L386.5,242.7 L387.0,242.7 L387.2,242.8 L387.8,242.9 L388.1,243.0 L388.5,243.2 L388.8,243.3 L389.0,243.5 L389.3,243.8 L389.5,244.1 L389.7,244.5 L389.7,245.0 L389.5,245.5 L389.3,245.8 L389.1,246.0 L388.9,246.2 L388.6,246.5 L388.2,246.7 L388.0,246.8 L387.5,247.0 L387.2,247.1 L386.8,247.2 L386.5,247.4 L386.0,247.5 L385.8,247.6 L385.2,247.7 L385.0,247.8 L384.5,247.8 L384.0,248.0 L383.8,248.2 L383.5,248.4 L383.2,248.7 L383.0,249.0 L382.9,249.2 L382.7,249.5 L382.5,249.8 L382.2,250.0 L382.0,250.4 L381.8,250.8 L381.7,251.0 L381.6,251.5 L381.5,252.0 L381.5,252.2 L381.3,252.8 L381.2,253.0 L381.0,253.3 L380.8,253.6 L380.5,253.8 L380.2,254.0 L379.9,254.2 L379.6,254.5 L379.2,254.7 L379.0,254.9 L378.8,255.1 L378.5,255.2 L378.1,255.5 L377.8,255.7 L377.5,255.9 L377.2,256.0 L376.8,256.2 L376.3,256.2 L376.0,256.3 L375.5,256.4 L375.0,256.4 L374.5,256.4 L374.0,256.4 L373.5,256.4 L373.0,256.4 L372.5,256.5 L372.2,256.5Z M405.5,262.3 L405.0,262.4 L404.5,262.4 L404.0,262.3 L403.6,262.2 L403.2,262.2 L402.8,262.1 L402.4,262.0 L402.0,261.9 L401.5,261.8 L401.1,261.8 L400.8,261.7 L400.3,261.5 L400.0,261.3 L399.8,261.1 L399.5,260.9 L399.2,260.5 L399.1,260.2 L399.0,260.0 L398.8,259.5 L398.7,259.2 L398.5,258.8 L398.5,258.5 L398.5,258.0 L398.5,257.5 L398.6,257.2 L398.7,256.8 L398.8,256.5 L399.0,256.1 L399.2,255.8 L399.3,255.5 L399.5,255.2 L399.7,254.8 L399.9,254.5 L400.0,254.2 L400.2,253.9 L400.5,253.6 L400.8,253.4 L401.0,253.2 L401.3,253.0 L401.6,252.8 L402.0,252.5 L402.2,252.4 L402.6,252.2 L403.0,252.1 L403.4,252.0 L403.8,252.0 L404.0,252.0 L404.5,252.1 L405.0,252.2 L405.2,252.3 L405.8,252.5 L406.0,252.6 L406.5,252.8 L406.8,252.8 L407.2,253.0 L407.5,253.1 L408.0,253.2 L408.2,253.3 L408.8,253.5 L409.0,253.5 L409.5,253.7 L409.9,253.8 L410.2,253.8 L410.8,253.8 L411.2,253.8 L411.8,253.8 L412.0,253.7 L412.5,253.7 L413.0,253.6 L413.5,253.5 L413.8,253.5 L414.2,253.5 L414.8,253.5 L415.2,253.5 L415.8,253.5 L416.2,253.4 L416.8,253.3 L417.0,253.1 L417.2,252.9 L417.5,252.7 L417.8,252.5 L418.1,252.2 L418.5,252.1 L419.0,252.0 L419.5,252.1 L419.8,252.3 L420.0,252.5 L420.2,253.0 L420.1,253.5 L419.9,253.8 L419.7,254.0 L419.4,254.2 L419.0,254.5 L418.8,254.6 L418.4,254.8 L418.0,254.9 L417.8,255.0 L417.3,255.2 L417.0,255.4 L416.8,255.6 L416.5,255.8 L416.0,256.0 L415.8,256.0 L415.2,256.2 L415.0,256.3 L414.5,256.4 L414.2,256.5 L413.8,256.6 L413.5,256.8 L413.0,257.0 L412.8,257.1 L412.5,257.3 L412.2,257.5 L412.0,257.8 L411.7,258.0 L411.5,258.2 L411.2,258.5 L411.0,258.8 L410.8,259.0 L410.5,259.3 L410.2,259.5 L410.0,259.8 L409.7,260.0 L409.3,260.2 L409.0,260.5 L408.8,260.6 L408.5,260.8 L408.1,261.0 L407.8,261.2 L407.5,261.3 L407.2,261.5 L406.8,261.7 L406.5,261.9 L406.2,262.0 L405.8,262.2 L405.5,262.3Z M367.5,269.6 L367.0,269.6 L366.7,269.5 L366.4,269.2 L366.2,268.9 L366.2,268.5 L366.2,268.0 L366.3,267.8 L366.5,267.4 L366.8,267.2 L367.1,267.0 L367.5,266.8 L367.8,266.8 L368.2,266.7 L368.6,266.8 L369.0,267.0 L369.2,267.2 L369.3,267.5 L369.4,268.0 L369.2,268.3 L369.0,268.5 L368.7,268.8 L368.4,269.0 L368.1,269.2 L367.8,269.5 L367.5,269.6Z M444.2,286.8 L443.8,286.8 L443.2,286.9 L442.8,286.8 L442.5,286.7 L442.2,286.5 L441.9,286.2 L441.8,285.9 L441.6,285.5 L441.6,285.0 L441.7,284.5 L441.9,284.2 L442.0,284.0 L442.3,283.8 L442.5,283.5 L442.8,283.2 L443.2,283.0 L443.5,282.9 L444.0,282.8 L444.2,282.7 L444.8,282.7 L445.0,282.8 L445.5,282.9 L445.8,283.0 L446.0,283.2 L446.3,283.5 L446.5,283.9 L446.6,284.2 L446.6,284.8 L446.5,285.2 L446.4,285.5 L446.2,285.8 L446.0,286.0 L445.7,286.2 L445.2,286.5 L445.0,286.6 L444.5,286.7 L444.2,286.8Z M359.8,308.8 L359.2,308.9 L358.8,308.9 L358.2,308.9 L357.8,308.9 L357.2,308.9 L356.8,308.9 L356.2,308.9 L355.9,308.8 L355.5,308.6 L355.2,308.5 L354.8,308.2 L354.5,308.0 L354.2,307.9 L354.0,307.6 L353.8,307.3 L353.6,307.0 L353.4,306.8 L353.2,306.4 L353.0,306.0 L352.9,305.8 L352.8,305.4 L352.5,305.0 L352.4,304.8 L352.3,304.2 L352.3,303.8 L352.4,303.2 L352.5,302.8 L352.6,302.5 L352.8,302.2 L353.0,301.8 L353.2,301.5 L353.4,301.2 L353.6,301.0 L353.8,300.8 L354.1,300.5 L354.5,300.2 L354.8,300.1 L355.0,299.9 L355.4,299.8 L355.8,299.6 L356.0,299.5 L356.5,299.2 L356.8,299.2 L357.2,299.0 L357.8,299.0 L358.2,299.1 L358.8,299.2 L359.0,299.2 L359.5,299.3 L360.0,299.4 L360.5,299.4 L361.0,299.3 L361.5,299.3 L362.0,299.4 L362.5,299.5 L362.8,299.5 L363.2,299.6 L363.7,299.8 L364.0,299.8 L364.5,299.9 L365.0,300.0 L365.5,299.9 L366.0,299.8 L366.2,299.7 L366.7,299.5 L367.0,299.3 L367.2,299.2 L367.6,299.0 L368.0,298.8 L368.2,298.6 L368.5,298.5 L369.0,298.3 L369.2,298.2 L369.8,298.0 L370.0,297.9 L370.5,297.8 L371.0,297.8 L371.5,297.8 L372.0,297.8 L372.5,297.8 L373.0,297.9 L373.5,297.9 L374.0,297.9 L374.4,298.0 L374.8,298.0 L375.2,298.1 L375.6,298.2 L376.0,298.4 L376.3,298.5 L376.8,298.7 L377.0,298.9 L377.2,299.0 L377.7,299.2 L378.0,299.4 L378.2,299.5 L378.7,299.8 L379.0,299.9 L379.3,300.0 L379.7,300.2 L380.0,300.5 L380.2,300.7 L380.4,301.0 L380.6,301.2 L380.8,301.6 L380.9,302.0 L381.0,302.3 L381.2,302.8 L381.3,303.0 L381.5,303.5 L381.6,303.8 L381.7,304.2 L381.8,304.5 L381.7,304.8 L381.5,305.2 L381.3,305.5 L381.1,305.8 L380.8,305.9 L380.5,306.1 L380.0,306.2 L379.8,306.3 L379.2,306.5 L379.0,306.6 L378.5,306.7 L378.2,306.8 L377.8,306.9 L377.3,307.0 L377.0,307.1 L376.5,307.2 L376.0,307.2 L375.5,307.2 L375.4,307.2 L375.0,307.2 L374.5,307.2 L374.0,307.1 L373.5,307.0 L373.1,307.0 L372.8,307.0 L372.2,306.9 L371.8,306.8 L371.5,306.7 L371.0,306.7 L370.5,306.6 L370.0,306.6 L369.7,306.5 L369.2,306.4 L368.8,306.3 L368.5,306.2 L368.0,306.1 L367.5,306.0 L367.2,306.0 L366.8,305.9 L366.2,305.8 L365.8,305.8 L365.2,305.9 L364.9,306.0 L364.5,306.2 L364.2,306.3 L363.9,306.5 L363.6,306.8 L363.3,307.0 L363.0,307.2 L362.8,307.4 L362.5,307.6 L362.2,307.8 L361.8,308.0 L361.5,308.2 L361.2,308.3 L360.8,308.5 L360.5,308.6 L360.0,308.7 L359.8,308.8Z M400.5,311.5 L400.0,311.6 L399.5,311.5 L399.2,311.5 L398.8,311.3 L398.5,311.2 L398.1,311.0 L397.8,310.9 L397.4,310.8 L397.0,310.6 L396.5,310.5 L396.2,310.5 L395.8,310.4 L395.4,310.2 L395.1,310.0 L395.0,309.8 L394.8,309.2 L394.7,309.0 L394.5,308.5 L394.4,308.2 L394.2,308.0 L394.0,307.7 L393.8,307.3 L393.6,307.0 L393.5,306.5 L393.6,306.0 L393.8,305.6 L394.0,305.3 L394.2,305.1 L394.5,304.9 L394.8,304.8 L395.2,304.6 L395.7,304.5 L396.0,304.4 L396.5,304.3 L397.0,304.3 L397.5,304.4 L397.9,304.5 L398.2,304.6 L398.8,304.7 L399.0,304.8 L399.5,304.8 L400.0,304.9 L400.5,305.0 L400.8,305.1 L401.2,305.2 L401.5,305.4 L401.8,305.5 L402.2,305.8 L402.5,305.9 L402.8,306.0 L403.1,306.2 L403.4,306.5 L403.6,306.8 L403.8,307.1 L403.9,307.5 L403.9,308.0 L403.9,308.5 L403.8,309.0 L403.8,309.5 L403.7,309.8 L403.5,310.2 L403.2,310.5 L403.0,310.6 L402.8,310.8 L402.2,311.0 L402.0,311.0 L401.5,311.2 L401.2,311.3 L400.8,311.4 L400.5,311.5Z M422.5,314.3 L422.0,314.4 L421.5,314.4 L421.0,314.4 L420.5,314.4 L420.0,314.3 L419.8,314.2 L419.2,314.1 L419.0,314.0 L418.5,313.8 L418.2,313.7 L417.8,313.5 L417.5,313.4 L417.2,313.2 L417.0,313.0 L416.7,312.8 L416.5,312.5 L416.2,312.2 L416.0,311.8 L415.9,311.5 L415.8,311.2 L415.6,310.8 L415.5,310.2 L415.5,309.8 L415.6,309.2 L415.7,308.8 L415.8,308.5 L416.0,308.0 L416.1,307.8 L416.2,307.5 L416.5,307.2 L416.8,306.9 L417.0,306.7 L417.2,306.5 L417.5,306.2 L417.9,306.0 L418.2,305.8 L418.5,305.7 L418.8,305.5 L419.2,305.3 L419.6,305.2 L420.0,305.2 L420.5,305.2 L421.0,305.2 L421.2,305.3 L421.8,305.4 L422.2,305.5 L422.5,305.5 L423.0,305.6 L423.4,305.8 L423.8,305.9 L424.0,306.0 L424.5,306.2 L424.8,306.4 L425.0,306.6 L425.2,306.9 L425.5,307.2 L425.7,307.5 L425.9,307.8 L426.0,308.0 L426.2,308.5 L426.3,308.8 L426.5,309.2 L426.5,309.5 L426.5,310.0 L426.5,310.4 L426.4,310.8 L426.3,311.2 L426.2,311.5 L426.0,312.0 L425.8,312.2 L425.7,312.5 L425.5,312.8 L425.2,313.0 L424.9,313.2 L424.5,313.5 L424.2,313.7 L424.0,313.8 L423.5,314.0 L423.2,314.0 L422.8,314.2 L422.5,314.3Z M434.5,323.1 L434.0,323.1 L433.7,323.0 L433.5,322.7 L433.4,322.2 L433.5,321.8 L433.7,321.5 L433.9,321.2 L434.2,321.0 L434.5,321.0 L434.9,321.0 L435.2,321.2 L435.5,321.4 L435.7,321.8 L435.6,322.2 L435.5,322.5 L435.2,322.8 L434.8,323.0 L434.5,323.1Z M366.2,334.0 L365.8,334.1 L365.2,334.2 L364.8,334.2 L364.2,334.2 L363.8,334.0 L363.5,334.0 L363.0,333.8 L362.8,333.7 L362.2,333.6 L361.8,333.5 L361.5,333.5 L361.0,333.4 L360.7,333.2 L360.3,333.0 L360.0,332.8 L359.8,332.5 L359.5,332.3 L359.3,332.0 L359.1,331.8 L359.0,331.3 L359.0,331.2 L359.1,330.8 L359.2,330.2 L359.3,330.0 L359.5,329.7 L359.8,329.4 L360.0,329.2 L360.5,329.2 L361.0,329.2 L361.5,329.2 L361.8,329.3 L362.2,329.3 L362.5,329.2 L363.0,329.1 L363.3,329.0 L363.8,328.8 L364.0,328.6 L364.3,328.5 L364.7,328.2 L365.0,328.1 L365.2,328.0 L365.8,327.8 L366.0,327.7 L366.5,327.7 L367.0,327.7 L367.4,327.8 L367.8,327.8 L368.2,328.0 L368.5,328.1 L368.9,328.2 L369.2,328.4 L369.6,328.5 L370.0,328.7 L370.3,328.8 L370.8,328.9 L371.2,328.9 L371.8,328.9 L372.1,328.8 L372.5,328.5 L372.8,328.4 L373.2,328.3 L373.8,328.3 L374.1,328.5 L374.4,328.8 L374.7,329.0 L374.9,329.2 L375.1,329.5 L375.2,330.0 L375.2,330.5 L375.0,330.9 L374.8,331.2 L374.7,331.5 L374.5,331.9 L374.3,332.2 L374.1,332.5 L373.8,332.8 L373.5,332.9 L373.2,333.0 L372.8,333.1 L372.2,333.0 L372.0,333.0 L371.5,332.9 L371.0,332.8 L370.5,332.9 L370.0,332.9 L369.5,333.0 L369.0,333.0 L368.8,333.0 L368.2,333.2 L368.0,333.4 L367.8,333.5 L367.3,333.8 L367.0,333.8 L366.5,334.0 L366.2,334.0Z M441.8,339.0 L441.2,339.1 L440.8,339.0 L440.5,338.9 L440.2,338.7 L440.0,338.5 L439.8,338.2 L439.5,337.8 L439.4,337.5 L439.3,337.0 L439.4,336.5 L439.5,336.0 L439.7,335.8 L439.9,335.5 L440.2,335.3 L440.5,335.2 L441.0,335.1 L441.5,335.1 L442.0,335.2 L442.2,335.4 L442.5,335.6 L442.8,335.8 L443.0,336.2 L443.1,336.5 L443.1,337.0 L443.1,337.5 L443.0,337.8 L442.8,338.2 L442.6,338.5 L442.3,338.8 L442.0,338.9 L441.8,339.0Z M373.8,389.3 L373.2,389.4 L372.8,389.4 L372.2,389.4 L371.8,389.3 L371.5,389.2 L371.0,389.1 L370.8,389.0 L370.3,388.8 L370.0,388.6 L369.8,388.5 L369.4,388.2 L369.0,388.0 L368.8,387.8 L368.5,387.6 L368.2,387.4 L368.0,387.2 L367.8,386.9 L367.5,386.6 L367.3,386.2 L367.2,386.0 L367.0,385.6 L366.9,385.2 L366.8,384.8 L366.8,384.2 L366.8,383.8 L366.9,383.2 L366.9,382.8 L367.0,382.5 L367.1,382.0 L367.2,381.6 L367.4,381.2 L367.5,381.0 L367.8,380.7 L368.0,380.3 L368.2,380.0 L368.5,379.8 L368.7,379.5 L369.0,379.2 L369.2,379.0 L369.5,378.8 L369.8,378.6 L370.0,378.4 L370.2,378.2 L370.7,378.0 L371.0,377.9 L371.5,377.8 L372.0,377.8 L372.5,377.8 L373.0,377.9 L373.5,378.0 L373.8,378.1 L374.2,378.2 L374.5,378.3 L374.8,378.5 L375.2,378.7 L375.5,378.9 L375.8,379.1 L376.0,379.3 L376.3,379.5 L376.5,379.8 L376.8,380.0 L377.0,380.3 L377.2,380.6 L377.5,381.0 L377.6,381.2 L377.8,381.5 L377.9,382.0 L378.0,382.4 L378.1,382.8 L378.1,383.2 L378.1,383.8 L378.1,384.2 L378.0,384.7 L377.9,385.0 L377.8,385.5 L377.7,385.8 L377.5,386.2 L377.4,386.5 L377.2,386.8 L377.0,387.2 L376.8,387.5 L376.5,387.8 L376.2,388.0 L376.0,388.2 L375.8,388.3 L375.4,388.5 L375.0,388.7 L374.8,388.9 L374.5,389.0 L374.0,389.2 L373.8,389.3Z M311.8,393.8 L311.2,393.9 L310.8,393.9 L310.2,393.9 L309.8,393.9 L309.2,393.8 L309.0,393.7 L308.6,393.5 L308.2,393.4 L308.0,393.2 L307.5,393.0 L307.2,392.9 L307.0,392.8 L306.6,392.5 L306.3,392.2 L306.1,392.0 L306.0,391.8 L305.8,391.4 L305.6,391.0 L305.5,390.8 L305.3,390.2 L305.2,389.9 L305.2,389.5 L305.1,389.0 L305.0,388.5 L305.0,388.0 L305.0,387.5 L305.0,387.0 L305.1,386.5 L305.2,386.0 L305.2,385.7 L305.4,385.2 L305.6,385.0 L305.8,384.8 L306.0,384.4 L306.2,384.2 L306.5,384.0 L306.8,383.8 L307.2,383.5 L307.5,383.3 L307.8,383.2 L308.2,383.0 L308.5,382.9 L309.0,382.8 L309.2,382.7 L309.8,382.7 L310.2,382.6 L310.8,382.6 L311.2,382.7 L311.7,382.8 L312.0,382.8 L312.5,382.9 L312.8,383.0 L313.2,383.2 L313.5,383.3 L314.0,383.5 L314.2,383.6 L314.5,383.8 L314.8,384.0 L315.1,384.2 L315.4,384.5 L315.6,384.8 L315.8,385.0 L316.0,385.3 L316.2,385.8 L316.3,386.0 L316.5,386.5 L316.6,386.8 L316.6,387.2 L316.7,387.8 L316.7,388.2 L316.7,388.8 L316.6,389.2 L316.5,389.7 L316.4,390.0 L316.2,390.4 L316.1,390.8 L316.0,391.0 L315.8,391.3 L315.5,391.7 L315.2,391.9 L315.0,392.2 L314.8,392.4 L314.5,392.6 L314.2,392.8 L313.8,393.0 L313.5,393.2 L313.2,393.3 L312.8,393.5 L312.5,393.6 L312.0,393.7 L311.8,393.8Z M421.5,390.5 L421.0,390.6 L420.5,390.5 L420.2,390.5 L419.8,390.3 L419.5,390.2 L419.2,390.0 L418.9,389.8 L418.7,389.5 L418.5,389.2 L418.2,388.8 L418.2,388.5 L418.1,388.0 L418.2,387.5 L418.3,387.2 L418.5,386.9 L418.8,386.7 L419.2,386.5 L419.5,386.5 L420.0,386.5 L420.5,386.5 L420.9,386.5 L421.2,386.5 L421.8,386.7 L422.1,386.8 L422.5,387.0 L422.8,387.2 L422.9,387.5 L423.1,387.8 L423.1,388.2 L423.1,388.8 L423.0,389.2 L422.9,389.5 L422.8,389.8 L422.5,390.1 L422.2,390.2 L421.8,390.5 L421.5,390.5Z M380.0,59.3 L379.5,59.3 L379.0,59.3 L378.5,59.3 L378.0,59.3 L377.8,59.2 L377.2,59.2 L376.8,59.2 L376.2,59.1 L375.8,59.0 L375.5,58.9 L375.2,58.6 L375.0,58.3 L374.9,58.0 L374.8,57.5 L374.8,57.0 L374.9,56.5 L375.0,56.2 L375.2,55.8 L375.4,55.5 L375.6,55.2 L375.8,55.0 L376.0,54.8 L376.3,54.5 L376.6,54.2 L377.0,54.1 L377.5,54.0 L378.0,54.1 L378.5,54.2 L378.8,54.3 L379.2,54.4 L379.8,54.5 L380.2,54.5 L380.5,54.5 L381.0,54.6 L381.3,54.8 L381.7,55.0 L382.0,55.2 L382.1,55.5 L382.3,55.8 L382.4,56.2 L382.4,56.8 L382.2,57.2 L382.1,57.5 L382.0,57.8 L381.8,58.0 L381.5,58.3 L381.2,58.6 L381.0,58.8 L380.7,59.0 L380.2,59.2 L380.0,59.3Z M420.2,83.0 L419.8,83.1 L419.2,83.1 L418.8,83.1 L418.4,83.0 L418.0,82.9 L417.7,82.8 L417.2,82.5 L417.0,82.4 L416.7,82.2 L416.3,82.0 L416.0,81.8 L415.8,81.6 L415.5,81.4 L415.2,81.1 L415.0,80.8 L414.8,80.5 L414.6,80.2 L414.5,80.0 L414.3,79.5 L414.2,79.2 L414.2,78.8 L414.2,78.2 L414.2,77.8 L414.3,77.5 L414.5,77.0 L414.6,76.8 L414.8,76.5 L415.0,76.2 L415.2,76.0 L415.6,75.8 L416.0,75.5 L416.2,75.4 L416.6,75.2 L417.0,75.1 L417.2,75.0 L417.7,74.8 L418.0,74.6 L418.3,74.5 L418.8,74.3 L419.0,74.2 L419.5,74.2 L420.0,74.2 L420.5,74.2 L420.9,74.2 L421.2,74.3 L421.8,74.4 L422.1,74.5 L422.5,74.6 L422.8,74.8 L423.2,74.9 L423.5,75.0 L423.9,75.2 L424.2,75.4 L424.5,75.5 L425.0,75.8 L425.2,75.9 L425.5,76.0 L425.8,76.2 L426.1,76.5 L426.4,76.8 L426.6,77.0 L426.8,77.2 L427.0,77.6 L427.1,78.0 L427.1,78.5 L427.0,78.8 L426.8,79.2 L426.6,79.5 L426.4,79.8 L426.2,80.0 L426.0,80.2 L425.8,80.6 L425.5,80.9 L425.2,81.2 L425.0,81.4 L424.8,81.7 L424.5,81.8 L424.2,82.0 L423.8,82.2 L423.5,82.3 L423.0,82.4 L422.5,82.5 L422.2,82.5 L421.8,82.6 L421.3,82.8 L421.0,82.8 L420.5,83.0 L420.2,83.0Z M386.8,187.0 L386.2,187.1 L385.8,187.1 L385.4,187.0 L385.0,186.8 L384.8,186.7 L384.3,186.5 L384.0,186.3 L383.8,186.2 L383.5,186.0 L383.2,185.8 L383.0,185.4 L382.8,185.0 L382.8,184.5 L383.0,184.0 L383.1,183.8 L383.2,183.4 L383.4,183.0 L383.6,182.8 L383.8,182.4 L384.0,182.1 L384.2,181.9 L384.5,181.7 L384.8,181.5 L385.0,181.2 L385.4,181.0 L385.8,180.8 L386.0,180.6 L386.3,180.5 L386.8,180.4 L387.2,180.2 L387.5,180.2 L388.0,180.2 L388.5,180.2 L389.0,180.2 L389.2,180.3 L389.8,180.4 L390.1,180.5 L390.5,180.6 L390.8,180.8 L391.2,180.9 L391.8,180.8 L392.0,180.6 L392.2,180.2 L392.4,180.0 L392.5,179.8 L392.8,179.4 L393.0,179.1 L393.2,178.8 L393.5,178.6 L393.8,178.5 L394.1,178.2 L394.5,178.0 L394.8,177.9 L395.1,177.8 L395.5,177.6 L395.8,177.5 L396.2,177.3 L396.5,177.2 L397.0,177.1 L397.5,177.0 L397.8,177.0 L398.2,177.0 L398.5,177.0 L399.0,177.1 L399.4,177.2 L399.8,177.4 L400.0,177.6 L400.3,177.8 L400.6,178.0 L401.0,178.2 L401.2,178.5 L401.5,178.7 L401.8,178.9 L402.0,179.1 L402.2,179.3 L402.5,179.5 L402.8,179.8 L403.0,180.0 L403.2,180.3 L403.5,180.6 L403.8,180.9 L404.0,181.2 L404.2,181.5 L404.3,181.8 L404.3,182.2 L404.1,182.5 L403.8,182.7 L403.5,182.9 L403.2,183.0 L402.8,183.2 L402.5,183.4 L402.2,183.5 L401.8,183.7 L401.5,183.9 L401.2,184.0 L400.8,184.2 L400.5,184.5 L400.2,184.6 L400.0,184.8 L399.7,185.0 L399.2,185.2 L399.0,185.3 L398.5,185.3 L398.0,185.4 L397.5,185.3 L397.0,185.3 L396.8,185.2 L396.2,185.2 L395.8,185.1 L395.4,185.0 L395.0,184.9 L394.5,184.8 L394.0,184.8 L393.8,184.7 L393.2,184.6 L393.0,184.5 L392.5,184.3 L392.1,184.2 L391.8,184.2 L391.5,184.2 L391.0,184.4 L390.8,184.5 L390.4,184.8 L390.2,185.0 L389.9,185.2 L389.7,185.5 L389.4,185.8 L389.0,186.0 L388.8,186.1 L388.5,186.2 L388.0,186.4 L387.8,186.5 L387.3,186.8 L387.0,186.9 L386.8,187.0Z M408.5,183.8 L408.0,183.9 L407.5,183.8 L407.2,183.7 L406.9,183.5 L406.7,183.2 L406.4,183.0 L406.2,182.7 L406.1,182.2 L406.2,181.8 L406.5,181.5 L406.8,181.3 L407.0,181.1 L407.2,181.0 L407.8,180.8 L408.2,180.8 L408.8,180.9 L409.0,181.1 L409.2,181.3 L409.5,181.7 L409.6,182.0 L409.6,182.5 L409.5,182.9 L409.3,183.2 L409.1,183.5 L408.8,183.7 L408.5,183.8Z M397.0,219.3 L396.5,219.3 L396.0,219.3 L395.7,219.2 L395.2,219.1 L394.9,219.0 L394.5,218.8 L394.2,218.7 L393.9,218.5 L393.5,218.3 L393.2,218.2 L392.8,218.0 L392.5,218.0 L392.0,217.9 L391.5,217.8 L391.2,217.7 L390.8,217.5 L390.5,217.3 L390.3,217.0 L390.2,216.8 L390.2,216.2 L390.2,215.9 L390.4,215.5 L390.6,215.2 L390.8,215.0 L391.0,214.6 L391.2,214.3 L391.5,214.1 L391.8,213.9 L392.2,213.8 L392.5,213.7 L393.0,213.6 L393.2,213.5 L393.8,213.3 L394.0,213.2 L394.5,213.0 L394.8,212.9 L395.2,212.8 L395.5,212.7 L396.0,212.6 L396.3,212.5 L396.8,212.4 L397.2,212.4 L397.8,212.3 L398.2,212.3 L398.6,212.2 L399.0,212.2 L399.5,212.2 L400.0,212.2 L400.2,212.3 L400.8,212.3 L401.2,212.4 L401.8,212.5 L402.0,212.6 L402.4,212.8 L402.8,212.9 L403.0,213.1 L403.3,213.2 L403.8,213.4 L404.2,213.5 L404.8,213.4 L405.0,213.2 L405.3,213.0 L405.5,212.8 L405.8,212.5 L406.0,212.1 L406.2,211.8 L406.3,211.5 L406.5,211.0 L406.6,210.8 L406.8,210.5 L407.0,210.2 L407.2,210.0 L407.6,209.8 L408.0,209.5 L408.2,209.5 L408.8,209.4 L409.2,209.3 L409.8,209.3 L410.2,209.4 L410.5,209.7 L410.6,210.0 L410.7,210.5 L410.8,210.8 L410.8,211.2 L410.8,211.8 L410.7,212.0 L410.6,212.5 L410.5,212.8 L410.2,213.2 L410.1,213.5 L409.9,213.8 L409.8,214.0 L409.5,214.3 L409.2,214.6 L409.0,214.8 L408.6,215.0 L408.2,215.1 L408.0,215.3 L407.5,215.5 L407.2,215.5 L406.8,215.7 L406.2,215.7 L405.8,215.7 L405.2,215.6 L404.9,215.5 L404.5,215.4 L404.0,215.3 L403.5,215.5 L403.2,215.6 L403.0,215.8 L402.8,216.0 L402.5,216.3 L402.2,216.6 L402.0,216.9 L401.8,217.2 L401.5,217.4 L401.2,217.5 L400.9,217.8 L400.5,218.0 L400.2,218.2 L400.0,218.3 L399.5,218.5 L399.2,218.6 L398.9,218.8 L398.5,218.9 L398.2,219.0 L397.8,219.1 L397.2,219.2 L397.0,219.3Z M438.8,221.3 L438.2,221.4 L437.8,221.4 L437.2,221.4 L436.8,221.3 L436.2,221.3 L435.8,221.3 L435.2,221.3 L434.8,221.4 L434.2,221.4 L433.8,221.4 L433.2,221.3 L433.0,221.2 L432.5,221.1 L432.2,221.0 L431.8,220.8 L431.5,220.6 L431.2,220.4 L431.0,220.1 L430.8,219.8 L430.7,219.5 L430.6,219.0 L430.6,218.5 L430.7,218.0 L430.9,217.8 L431.1,217.5 L431.3,217.2 L431.5,217.0 L431.9,216.8 L432.2,216.5 L432.5,216.3 L432.8,216.2 L433.2,216.0 L433.5,215.9 L434.0,215.8 L434.5,215.8 L435.0,215.9 L435.5,216.0 L435.8,216.1 L436.2,216.1 L436.8,216.2 L437.2,216.2 L437.7,216.2 L438.0,216.3 L438.5,216.5 L438.8,216.6 L439.1,216.8 L439.5,216.9 L439.8,217.0 L440.1,217.2 L440.5,217.5 L440.8,217.7 L441.0,218.0 L441.2,218.2 L441.3,218.5 L441.4,219.0 L441.3,219.5 L441.2,219.8 L441.0,220.0 L440.8,220.3 L440.5,220.5 L440.1,220.8 L439.8,220.9 L439.5,221.0 L439.0,221.2 L438.8,221.3Z M372.2,255.3 L371.8,255.3 L371.2,255.3 L371.0,255.2 L370.6,255.0 L370.3,254.8 L370.1,254.5 L369.9,254.2 L369.7,254.0 L369.5,253.7 L369.2,253.4 L369.0,253.1 L368.8,252.8 L368.7,252.5 L368.5,252.1 L368.4,251.8 L368.2,251.4 L368.2,251.0 L368.1,250.5 L368.1,250.0 L368.2,249.5 L368.3,249.2 L368.4,248.8 L368.5,248.2 L368.5,248.0 L368.7,247.5 L368.9,247.2 L369.0,247.0 L369.2,246.7 L369.5,246.5 L369.8,246.2 L370.2,246.0 L370.5,245.9 L371.0,245.8 L371.3,245.8 L371.5,245.8 L372.0,245.8 L372.5,245.8 L373.0,245.8 L373.5,245.8 L374.0,245.8 L374.2,245.7 L374.8,245.7 L375.2,245.6 L375.6,245.5 L376.0,245.4 L376.5,245.3 L377.0,245.3 L377.5,245.4 L378.0,245.5 L378.5,245.5 L379.0,245.4 L379.5,245.3 L379.8,245.2 L380.2,245.1 L380.8,245.2 L381.0,245.3 L381.2,245.6 L381.5,246.0 L381.5,246.2 L381.6,246.8 L381.5,247.2 L381.5,247.5 L381.3,248.0 L381.2,248.2 L381.0,248.5 L380.8,248.8 L380.5,249.1 L380.2,249.4 L380.0,249.8 L379.9,250.0 L379.8,250.3 L379.6,250.8 L379.5,251.2 L379.5,251.5 L379.4,252.0 L379.2,252.4 L379.0,252.8 L378.8,253.0 L378.6,253.2 L378.3,253.5 L378.0,253.8 L377.8,254.0 L377.5,254.1 L377.2,254.3 L376.9,254.5 L376.5,254.7 L376.2,254.8 L375.8,254.9 L375.4,255.0 L375.0,255.1 L374.5,255.1 L374.0,255.1 L373.5,255.2 L373.0,255.2 L372.5,255.2 L372.2,255.3Z M405.0,261.0 L404.5,261.1 L404.0,261.1 L403.6,261.0 L403.2,260.9 L402.8,260.8 L402.5,260.7 L402.0,260.5 L401.8,260.4 L401.5,260.2 L401.1,260.0 L400.8,259.8 L400.5,259.5 L400.3,259.2 L400.2,259.0 L400.0,258.6 L399.9,258.2 L399.8,257.8 L399.9,257.2 L400.0,256.9 L400.2,256.5 L400.3,256.2 L400.5,255.9 L400.7,255.5 L400.8,255.2 L401.0,254.8 L401.2,254.5 L401.4,254.2 L401.6,254.0 L402.0,253.8 L402.2,253.6 L402.6,253.5 L403.0,253.4 L403.5,253.4 L403.8,253.5 L404.2,253.6 L404.5,253.8 L405.0,254.0 L405.2,254.1 L405.8,254.2 L406.0,254.3 L406.5,254.4 L407.0,254.5 L407.2,254.6 L407.8,254.7 L408.0,254.9 L408.2,255.0 L408.6,255.2 L408.9,255.5 L409.2,255.8 L409.4,256.0 L409.5,256.3 L409.6,256.8 L409.6,257.2 L409.5,257.5 L409.3,258.0 L409.1,258.2 L409.0,258.5 L408.8,258.8 L408.5,259.0 L408.2,259.3 L407.9,259.5 L407.5,259.8 L407.2,259.9 L407.0,260.0 L406.6,260.2 L406.2,260.4 L406.0,260.6 L405.7,260.8 L405.2,260.9 L405.0,261.0Z M376.8,306.0 L376.2,306.1 L375.8,306.1 L375.2,306.1 L374.8,306.1 L374.2,306.1 L374.0,306.0 L373.5,305.9 L373.1,305.8 L372.8,305.6 L372.4,305.5 L372.0,305.4 L371.5,305.2 L371.2,305.2 L370.8,305.1 L370.2,305.1 L369.8,305.1 L369.2,305.1 L368.8,305.0 L368.5,305.0 L368.0,304.8 L367.8,304.6 L367.5,304.3 L367.3,304.0 L367.2,303.8 L367.0,303.2 L367.0,303.0 L367.0,302.5 L367.0,302.2 L367.2,301.8 L367.3,301.5 L367.5,301.2 L367.7,300.8 L367.9,300.5 L368.1,300.2 L368.3,300.0 L368.5,299.8 L368.8,299.5 L369.2,299.2 L369.5,299.1 L369.8,299.0 L370.2,298.9 L370.8,298.8 L371.2,298.8 L371.8,298.9 L372.2,298.9 L372.8,298.9 L373.2,298.9 L373.8,298.9 L374.1,299.0 L374.5,299.1 L375.0,299.2 L375.2,299.4 L375.5,299.5 L376.0,299.8 L376.2,299.9 L376.5,300.0 L377.0,300.2 L377.2,300.4 L377.5,300.5 L377.9,300.8 L378.2,301.0 L378.5,301.2 L378.8,301.4 L379.0,301.8 L379.1,302.0 L379.2,302.4 L379.4,302.8 L379.5,303.2 L379.5,303.6 L379.5,304.0 L379.5,304.2 L379.3,304.8 L379.1,305.0 L378.9,305.2 L378.5,305.5 L378.2,305.6 L378.0,305.8 L377.5,305.9 L377.0,306.0 L376.8,306.0Z M360.0,307.5 L359.5,307.6 L359.0,307.6 L358.5,307.6 L358.0,307.6 L357.5,307.6 L357.0,307.6 L356.5,307.5 L356.2,307.4 L355.8,307.2 L355.5,307.1 L355.2,306.9 L355.0,306.7 L354.8,306.4 L354.5,306.1 L354.3,305.8 L354.2,305.5 L354.0,305.1 L353.9,304.8 L353.8,304.3 L353.7,304.0 L353.7,303.5 L353.8,303.1 L353.9,302.8 L354.0,302.4 L354.2,302.0 L354.5,301.8 L354.7,301.5 L355.0,301.2 L355.2,301.0 L355.5,300.9 L355.8,300.7 L356.1,300.5 L356.5,300.3 L356.8,300.2 L357.2,300.0 L357.7,300.0 L357.8,300.0 L358.2,300.1 L358.8,300.2 L359.1,300.2 L359.5,300.3 L360.0,300.4 L360.5,300.4 L361.0,300.5 L361.3,300.5 L361.8,300.6 L362.2,300.7 L362.6,300.8 L363.0,300.9 L363.3,301.0 L363.8,301.2 L364.0,301.3 L364.4,301.5 L364.8,301.7 L365.0,301.9 L365.2,302.1 L365.5,302.4 L365.6,302.8 L365.5,303.1 L365.3,303.5 L365.1,303.8 L364.8,304.0 L364.5,304.2 L364.2,304.5 L364.0,304.6 L363.8,304.9 L363.5,305.1 L363.2,305.3 L363.0,305.5 L362.8,305.8 L362.5,306.1 L362.2,306.3 L362.0,306.5 L361.8,306.8 L361.4,307.0 L361.0,307.2 L360.8,307.3 L360.2,307.5 L360.0,307.5Z M422.0,313.8 L421.5,313.8 L421.0,313.8 L420.5,313.8 L420.2,313.7 L419.8,313.6 L419.5,313.5 L419.0,313.3 L418.8,313.2 L418.3,313.0 L418.0,312.8 L417.8,312.6 L417.5,312.4 L417.2,312.2 L417.0,311.9 L416.8,311.6 L416.6,311.2 L416.5,311.0 L416.3,310.5 L416.3,310.0 L416.3,309.5 L416.4,309.0 L416.5,308.7 L416.7,308.2 L416.8,308.0 L417.0,307.7 L417.2,307.4 L417.5,307.2 L417.8,306.9 L418.0,306.7 L418.3,306.5 L418.7,306.2 L419.0,306.1 L419.2,306.0 L419.8,305.8 L420.2,305.8 L420.8,305.8 L421.2,305.9 L421.8,306.0 L422.0,306.0 L422.5,306.1 L422.9,306.2 L423.2,306.4 L423.6,306.5 L424.0,306.7 L424.2,306.9 L424.5,307.2 L424.8,307.4 L425.0,307.8 L425.1,308.0 L425.3,308.2 L425.5,308.8 L425.6,309.0 L425.7,309.5 L425.8,309.9 L425.8,310.2 L425.7,310.5 L425.6,311.0 L425.5,311.4 L425.3,311.8 L425.2,312.0 L425.0,312.2 L424.8,312.5 L424.5,312.8 L424.1,313.0 L423.8,313.2 L423.5,313.3 L423.0,313.5 L422.8,313.6 L422.2,313.7 L422.0,313.8Z M398.5,308.6 L398.0,308.7 L397.5,308.5 L397.3,308.2 L397.2,308.0 L397.2,307.5 L397.4,307.2 L397.7,307.0 L398.0,307.0 L398.3,307.0 L398.7,307.2 L398.9,307.5 L398.9,308.0 L398.8,308.4 L398.5,308.6Z M373.5,388.8 L373.0,388.9 L372.5,388.9 L372.0,388.8 L371.6,388.8 L371.2,388.6 L371.0,388.5 L370.5,388.3 L370.2,388.1 L370.0,388.0 L369.6,387.8 L369.2,387.5 L369.0,387.3 L368.8,387.1 L368.5,386.9 L368.2,386.6 L368.0,386.3 L367.8,386.0 L367.7,385.8 L367.5,385.3 L367.4,385.0 L367.4,384.5 L367.4,384.0 L367.4,383.5 L367.5,383.1 L367.6,382.8 L367.7,382.2 L367.8,382.0 L368.0,381.5 L368.1,381.2 L368.3,381.0 L368.5,380.7 L368.8,380.3 L369.0,380.0 L369.2,379.8 L369.5,379.5 L369.8,379.3 L370.0,379.1 L370.2,378.9 L370.5,378.7 L371.0,378.5 L371.2,378.4 L371.8,378.4 L372.2,378.4 L372.8,378.4 L373.2,378.5 L373.5,378.6 L374.0,378.7 L374.2,378.8 L374.7,379.0 L375.0,379.2 L375.2,379.4 L375.5,379.5 L375.8,379.8 L376.0,380.0 L376.2,380.3 L376.5,380.6 L376.8,380.9 L377.0,381.2 L377.1,381.5 L377.3,381.8 L377.4,382.2 L377.5,382.5 L377.6,383.0 L377.6,383.5 L377.5,384.0 L377.5,384.2 L377.4,384.8 L377.3,385.2 L377.2,385.5 L377.0,386.0 L376.9,386.2 L376.8,386.5 L376.5,386.9 L376.2,387.2 L376.0,387.5 L375.8,387.7 L375.5,387.8 L375.2,388.0 L374.8,388.2 L374.5,388.4 L374.2,388.5 L373.8,388.7 L373.5,388.8Z M311.5,393.3 L311.0,393.4 L310.5,393.4 L310.0,393.3 L309.5,393.2 L309.2,393.2 L308.8,393.0 L308.5,392.9 L308.2,392.7 L307.8,392.5 L307.5,392.4 L307.2,392.2 L307.0,392.0 L306.8,391.7 L306.5,391.4 L306.3,391.0 L306.2,390.8 L306.0,390.2 L305.9,390.0 L305.8,389.5 L305.8,389.0 L305.7,388.8 L305.7,388.2 L305.6,387.8 L305.6,387.2 L305.6,386.8 L305.6,386.2 L305.7,385.8 L305.8,385.5 L306.0,385.2 L306.2,384.9 L306.5,384.6 L306.8,384.4 L307.0,384.2 L307.3,384.0 L307.8,383.8 L308.0,383.7 L308.5,383.5 L308.8,383.4 L309.2,383.3 L309.6,383.2 L310.0,383.2 L310.5,383.2 L311.0,383.2 L311.2,383.3 L311.8,383.3 L312.2,383.4 L312.5,383.5 L313.0,383.7 L313.2,383.8 L313.8,384.0 L314.0,384.1 L314.2,384.3 L314.5,384.5 L314.8,384.8 L315.1,385.0 L315.3,385.2 L315.5,385.6 L315.7,386.0 L315.8,386.2 L316.0,386.8 L316.0,387.0 L316.1,387.5 L316.1,388.0 L316.1,388.5 L316.1,389.0 L316.0,389.5 L315.9,389.8 L315.8,390.2 L315.6,390.5 L315.5,390.8 L315.2,391.1 L315.0,391.4 L314.8,391.7 L314.5,391.9 L314.2,392.1 L314.0,392.3 L313.6,392.5 L313.2,392.7 L313.0,392.8 L312.5,393.0 L312.2,393.1 L311.8,393.2 L311.5,393.3Z M419.5,81.8 L419.0,81.9 L418.5,81.8 L418.2,81.8 L417.8,81.6 L417.5,81.5 L417.0,81.2 L416.8,81.1 L416.5,81.0 L416.2,80.8 L416.0,80.5 L415.8,80.2 L415.5,79.8 L415.3,79.5 L415.2,79.2 L415.2,78.8 L415.2,78.2 L415.3,78.0 L415.5,77.5 L415.6,77.2 L415.8,77.0 L416.1,76.8 L416.5,76.5 L416.8,76.4 L417.0,76.2 L417.5,76.0 L417.8,75.9 L418.2,75.8 L418.5,75.6 L418.9,75.5 L419.2,75.4 L419.8,75.3 L420.0,75.2 L420.5,75.2 L421.0,75.2 L421.4,75.2 L421.8,75.3 L422.2,75.5 L422.5,75.6 L422.8,75.8 L423.1,76.0 L423.5,76.2 L423.8,76.5 L424.0,76.7 L424.2,77.0 L424.5,77.2 L424.6,77.5 L424.8,77.8 L424.9,78.2 L424.8,78.8 L424.8,79.0 L424.6,79.5 L424.5,79.8 L424.2,80.2 L424.0,80.5 L423.8,80.8 L423.5,81.0 L423.2,81.1 L422.8,81.2 L422.5,81.3 L422.0,81.3 L421.5,81.3 L421.0,81.3 L420.5,81.4 L420.2,81.5 L419.8,81.7 L419.5,81.8Z M398.8,183.8 L398.2,183.9 L397.8,183.9 L397.2,183.9 L396.8,183.8 L396.5,183.8 L396.0,183.6 L395.5,183.5 L395.2,183.4 L394.9,183.2 L394.6,183.0 L394.3,182.8 L394.1,182.5 L394.0,182.2 L393.9,181.8 L393.9,181.2 L393.9,180.8 L394.0,180.5 L394.2,180.0 L394.4,179.8 L394.7,179.5 L395.0,179.2 L395.2,179.1 L395.5,178.9 L395.9,178.8 L396.2,178.6 L396.5,178.5 L397.0,178.3 L397.2,178.2 L397.8,178.2 L398.2,178.2 L398.5,178.4 L398.8,178.5 L399.0,178.8 L399.3,179.0 L399.6,179.2 L400.0,179.5 L400.2,179.7 L400.5,180.0 L400.7,180.2 L400.9,180.5 L401.1,180.8 L401.2,181.1 L401.4,181.5 L401.4,182.0 L401.2,182.2 L400.9,182.5 L400.6,182.8 L400.2,183.0 L400.0,183.1 L399.8,183.3 L399.4,183.5 L399.0,183.7 L398.8,183.8Z M397.5,217.1 L397.0,217.2 L396.5,217.2 L396.0,217.1 L395.7,217.0 L395.3,216.8 L395.0,216.6 L394.8,216.5 L394.3,216.2 L394.0,216.0 L394.0,215.8 L394.0,215.5 L394.3,215.2 L394.8,215.0 L395.0,215.0 L395.5,215.0 L395.8,215.1 L396.2,215.1 L396.6,215.0 L397.0,214.9 L397.2,214.7 L397.8,214.5 L398.0,214.4 L398.5,214.3 L399.0,214.3 L399.5,214.4 L399.8,214.6 L399.9,215.0 L399.8,215.5 L399.6,215.8 L399.3,216.0 L399.0,216.2 L398.8,216.4 L398.5,216.6 L398.2,216.8 L397.8,217.0 L397.5,217.1Z M434.0,219.5 L433.5,219.5 L433.2,219.5 L432.8,219.3 L432.5,219.1 L432.4,218.8 L432.4,218.2 L432.5,218.0 L432.8,217.7 L433.0,217.5 L433.4,217.2 L433.8,217.2 L434.2,217.2 L434.5,217.3 L434.9,217.5 L435.1,217.8 L435.3,218.0 L435.4,218.5 L435.2,218.8 L435.0,219.1 L434.8,219.3 L434.2,219.5 L434.0,219.5Z M438.5,219.5 L438.0,219.6 L437.8,219.5 L437.4,219.2 L437.3,218.8 L437.6,218.5 L438.0,218.4 L438.4,218.5 L438.8,218.6 L439.0,219.0 L438.8,219.3 L438.5,219.5Z M375.2,253.5 L374.8,253.6 L374.2,253.5 L374.0,253.4 L373.7,253.2 L373.3,253.0 L373.0,252.8 L372.8,252.6 L372.5,252.4 L372.2,252.2 L371.8,252.0 L371.5,251.9 L371.2,251.7 L370.9,251.5 L370.7,251.2 L370.5,251.0 L370.3,250.5 L370.2,250.2 L370.2,249.8 L370.2,249.2 L370.2,248.8 L370.3,248.5 L370.5,248.1 L370.8,247.9 L371.0,247.7 L371.5,247.6 L372.0,247.6 L372.5,247.7 L372.8,247.8 L373.2,247.9 L373.8,248.0 L374.0,248.0 L374.5,248.2 L374.8,248.3 L375.2,248.4 L375.8,248.5 L376.0,248.5 L376.4,248.8 L376.7,249.0 L376.9,249.2 L377.0,249.7 L377.0,250.0 L377.0,250.5 L377.0,251.0 L377.0,251.2 L377.0,251.8 L376.9,252.2 L376.8,252.6 L376.5,252.9 L376.2,253.1 L376.0,253.3 L375.5,253.5 L375.2,253.5Z M404.2,259.1 L403.8,259.1 L403.4,259.0 L403.1,258.8 L402.9,258.5 L402.7,258.2 L402.5,257.8 L402.5,257.5 L402.4,257.0 L402.5,256.5 L402.5,256.2 L402.8,255.9 L403.0,255.7 L403.5,255.6 L404.0,255.6 L404.5,255.6 L405.0,255.7 L405.3,255.8 L405.8,255.8 L406.2,256.0 L406.5,256.1 L406.8,256.3 L407.0,256.8 L406.8,257.2 L406.6,257.5 L406.3,257.8 L406.0,258.0 L405.8,258.1 L405.5,258.3 L405.2,258.5 L404.9,258.8 L404.5,259.0 L404.2,259.1Z M375.0,304.8 L374.5,304.8 L374.2,304.7 L373.8,304.6 L373.5,304.4 L373.2,304.2 L372.8,304.0 L372.5,303.8 L372.2,303.7 L371.9,303.5 L371.6,303.2 L371.2,303.0 L371.0,302.8 L370.8,302.6 L370.5,302.3 L370.3,302.0 L370.2,301.7 L370.2,301.2 L370.3,301.0 L370.5,300.8 L370.8,300.5 L371.2,300.3 L371.7,300.2 L372.0,300.2 L372.5,300.1 L373.0,300.1 L373.5,300.2 L373.9,300.2 L374.2,300.4 L374.5,300.5 L374.9,300.8 L375.2,300.9 L375.5,301.1 L375.8,301.3 L376.0,301.5 L376.4,301.8 L376.7,302.0 L376.9,302.2 L377.1,302.5 L377.3,302.8 L377.4,303.2 L377.3,303.8 L377.1,304.0 L376.8,304.2 L376.5,304.4 L376.2,304.5 L375.8,304.6 L375.2,304.7 L375.0,304.8Z M358.0,306.0 L357.5,306.1 L357.0,306.0 L356.8,306.0 L356.3,305.8 L356.0,305.5 L355.8,305.2 L355.6,305.0 L355.5,304.8 L355.3,304.2 L355.2,304.0 L355.2,303.6 L355.3,303.2 L355.5,302.9 L355.8,302.5 L356.0,302.3 L356.2,302.1 L356.5,301.9 L356.8,301.7 L357.2,301.5 L357.5,301.5 L358.0,301.4 L358.3,301.5 L358.8,301.6 L359.1,301.8 L359.5,301.9 L359.9,302.0 L360.2,302.1 L360.8,302.2 L361.2,302.2 L361.5,302.3 L361.9,302.5 L362.2,302.8 L362.3,303.0 L362.2,303.4 L362.0,303.8 L361.8,304.0 L361.5,304.2 L361.2,304.4 L361.0,304.6 L360.8,304.8 L360.4,305.0 L360.0,305.2 L359.8,305.4 L359.5,305.5 L359.0,305.7 L358.8,305.8 L358.2,306.0 L358.0,306.0Z M422.0,313.1 L421.5,313.1 L421.0,313.1 L420.5,313.1 L420.2,313.0 L419.8,312.8 L419.5,312.7 L419.1,312.5 L418.8,312.3 L418.5,312.1 L418.2,311.9 L418.0,311.6 L417.8,311.4 L417.5,311.0 L417.3,310.8 L417.2,310.5 L417.2,310.0 L417.2,309.5 L417.2,309.2 L417.4,308.8 L417.5,308.5 L417.8,308.1 L418.0,307.8 L418.2,307.5 L418.5,307.3 L418.8,307.0 L419.0,306.9 L419.2,306.7 L419.8,306.6 L420.1,306.5 L420.5,306.5 L420.8,306.5 L421.2,306.6 L421.8,306.7 L422.0,306.8 L422.5,306.9 L422.8,307.0 L423.2,307.2 L423.5,307.4 L423.8,307.6 L424.0,307.9 L424.2,308.2 L424.4,308.5 L424.5,308.8 L424.7,309.2 L424.8,309.5 L424.9,310.0 L424.8,310.5 L424.8,310.9 L424.6,311.2 L424.5,311.5 L424.2,311.9 L424.0,312.1 L423.8,312.3 L423.5,312.5 L423.0,312.7 L422.8,312.8 L422.2,313.0 L422.0,313.1Z M373.0,388.3 L372.5,388.3 L372.0,388.3 L371.8,388.2 L371.2,388.0 L371.0,387.9 L370.7,387.8 L370.2,387.5 L370.0,387.3 L369.8,387.2 L369.5,387.0 L369.2,386.8 L368.9,386.5 L368.7,386.2 L368.5,385.9 L368.3,385.5 L368.2,385.2 L368.1,384.8 L368.0,384.2 L368.1,383.8 L368.2,383.2 L368.2,382.9 L368.4,382.5 L368.5,382.1 L368.6,381.8 L368.8,381.5 L369.0,381.1 L369.2,380.8 L369.4,380.5 L369.6,380.2 L369.9,380.0 L370.1,379.8 L370.4,379.5 L370.8,379.3 L371.0,379.2 L371.5,379.0 L372.0,379.0 L372.2,379.0 L372.5,379.0 L373.0,379.1 L373.5,379.2 L373.8,379.2 L374.2,379.4 L374.5,379.6 L374.8,379.8 L375.1,380.0 L375.4,380.2 L375.7,380.5 L375.9,380.8 L376.1,381.0 L376.3,381.2 L376.5,381.6 L376.7,382.0 L376.8,382.2 L376.9,382.8 L377.0,383.2 L376.9,383.8 L376.8,384.2 L376.8,384.6 L376.7,385.0 L376.5,385.5 L376.4,385.8 L376.2,386.2 L376.1,386.5 L375.9,386.8 L375.6,387.0 L375.3,387.2 L375.0,387.4 L374.8,387.6 L374.4,387.8 L374.0,387.9 L373.8,388.0 L373.2,388.2 L373.0,388.3Z M312.0,392.5 L311.5,392.6 L311.0,392.7 L310.5,392.7 L310.0,392.7 L309.5,392.6 L309.2,392.5 L308.8,392.3 L308.5,392.1 L308.2,392.0 L307.8,391.8 L307.5,391.5 L307.3,391.2 L307.1,391.0 L307.0,390.8 L306.8,390.3 L306.7,390.0 L306.5,389.5 L306.5,389.2 L306.4,388.8 L306.3,388.2 L306.3,387.8 L306.2,387.5 L306.2,387.0 L306.2,386.5 L306.2,386.1 L306.4,385.8 L306.5,385.5 L306.8,385.1 L307.0,384.9 L307.2,384.7 L307.5,384.5 L308.0,384.3 L308.2,384.2 L308.8,384.1 L309.0,384.0 L309.5,383.9 L310.0,383.9 L310.5,383.8 L311.0,383.9 L311.5,383.9 L311.8,384.0 L312.2,384.1 L312.8,384.2 L313.0,384.3 L313.4,384.5 L313.8,384.7 L314.0,384.9 L314.2,385.1 L314.5,385.3 L314.8,385.6 L315.0,386.0 L315.1,386.2 L315.2,386.5 L315.4,387.0 L315.5,387.5 L315.5,387.8 L315.5,388.2 L315.5,388.8 L315.5,389.0 L315.4,389.5 L315.2,390.0 L315.1,390.2 L315.0,390.5 L314.8,390.8 L314.5,391.1 L314.2,391.4 L314.0,391.6 L313.7,391.8 L313.3,392.0 L313.0,392.1 L312.7,392.2 L312.2,392.4 L312.0,392.5Z M422.5,79.8 L422.0,79.9 L421.5,79.8 L421.0,79.8 L420.8,79.7 L420.2,79.6 L420.0,79.5 L419.5,79.3 L419.2,79.2 L418.8,79.1 L418.2,79.1 L417.8,79.1 L417.4,79.0 L417.2,78.8 L417.3,78.5 L417.5,78.2 L417.8,78.0 L418.1,77.8 L418.5,77.6 L418.8,77.4 L419.2,77.2 L419.5,77.1 L419.8,77.0 L420.2,76.8 L420.5,76.7 L421.0,76.6 L421.5,76.7 L421.8,76.8 L422.2,77.0 L422.4,77.2 L422.6,77.5 L422.8,77.8 L423.0,78.2 L423.1,78.5 L423.0,79.0 L423.0,79.2 L422.8,79.6 L422.5,79.8Z M422.2,312.1 L421.8,312.2 L421.2,312.2 L420.8,312.1 L420.4,312.0 L420.0,311.8 L419.8,311.7 L419.5,311.5 L419.2,311.2 L419.0,311.0 L418.7,310.8 L418.5,310.4 L418.3,310.0 L418.3,309.5 L418.4,309.0 L418.5,308.8 L418.8,308.4 L419.0,308.1 L419.2,307.9 L419.5,307.7 L420.0,307.5 L420.2,307.5 L420.7,307.5 L421.0,307.6 L421.5,307.7 L421.8,307.8 L422.1,308.0 L422.5,308.2 L422.8,308.4 L423.0,308.6 L423.2,308.9 L423.4,309.2 L423.6,309.5 L423.7,310.0 L423.7,310.5 L423.6,311.0 L423.4,311.2 L423.2,311.5 L422.9,311.8 L422.5,312.0 L422.2,312.1Z M373.0,387.6 L372.5,387.6 L372.0,387.6 L371.6,387.5 L371.2,387.4 L371.0,387.2 L370.6,387.0 L370.2,386.8 L370.0,386.6 L369.8,386.4 L369.5,386.1 L369.2,385.8 L369.1,385.5 L368.9,385.2 L368.8,384.8 L368.8,384.2 L368.8,383.8 L368.9,383.2 L369.0,382.9 L369.1,382.5 L369.2,382.2 L369.5,381.8 L369.6,381.5 L369.8,381.2 L370.0,380.9 L370.2,380.6 L370.5,380.4 L370.8,380.1 L371.0,380.0 L371.5,379.8 L371.8,379.7 L372.2,379.7 L372.8,379.7 L373.0,379.8 L373.5,379.9 L373.9,380.0 L374.2,380.2 L374.5,380.3 L374.8,380.5 L375.0,380.8 L375.2,381.1 L375.5,381.4 L375.8,381.7 L375.9,382.0 L376.0,382.2 L376.2,382.8 L376.2,383.2 L376.2,383.3 L376.2,383.8 L376.1,384.2 L376.0,384.7 L375.9,385.0 L375.8,385.4 L375.6,385.8 L375.5,386.0 L375.2,386.3 L375.0,386.5 L374.7,386.8 L374.3,387.0 L374.0,387.2 L373.8,387.3 L373.2,387.5 L373.0,387.6Z M310.8,392.0 L310.4,392.0 L310.0,392.0 L309.5,391.8 L309.2,391.7 L308.9,391.5 L308.5,391.3 L308.2,391.1 L308.0,390.8 L307.8,390.5 L307.6,390.2 L307.5,390.0 L307.3,389.5 L307.2,389.2 L307.1,388.8 L307.0,388.2 L307.0,388.0 L306.9,387.5 L306.9,387.0 L306.9,386.5 L307.0,386.2 L307.2,385.8 L307.4,385.5 L307.7,385.2 L308.0,385.1 L308.2,385.0 L308.8,384.8 L309.0,384.8 L309.5,384.7 L310.0,384.6 L310.5,384.6 L311.0,384.6 L311.5,384.6 L312.0,384.8 L312.2,384.8 L312.7,385.0 L313.0,385.1 L313.2,385.3 L313.6,385.5 L313.9,385.8 L314.1,386.0 L314.3,386.2 L314.5,386.7 L314.6,387.0 L314.7,387.5 L314.8,387.8 L314.8,388.2 L314.8,388.8 L314.8,389.2 L314.7,389.5 L314.5,390.0 L314.4,390.2 L314.2,390.5 L314.0,390.8 L313.7,391.0 L313.3,391.2 L313.0,391.4 L312.8,391.5 L312.2,391.7 L312.0,391.8 L311.5,391.9 L311.0,392.0 L310.8,392.0Z M372.8,386.8 L372.2,386.8 L371.8,386.8 L371.5,386.7 L371.1,386.5 L370.8,386.3 L370.5,386.1 L370.2,385.8 L370.0,385.5 L369.8,385.2 L369.7,385.0 L369.6,384.5 L369.6,384.0 L369.6,383.5 L369.8,383.1 L369.9,382.8 L370.0,382.5 L370.2,382.1 L370.5,381.8 L370.7,381.5 L370.9,381.2 L371.1,381.0 L371.5,380.8 L371.8,380.6 L372.2,380.5 L372.8,380.5 L373.2,380.7 L373.5,380.8 L374.0,381.0 L374.2,381.2 L374.5,381.5 L374.7,381.8 L374.9,382.0 L375.1,382.2 L375.2,382.6 L375.4,383.0 L375.4,383.5 L375.3,384.0 L375.2,384.2 L375.1,384.8 L374.9,385.0 L374.8,385.4 L374.5,385.7 L374.2,386.0 L374.0,386.2 L373.8,386.4 L373.5,386.5 L373.0,386.7 L372.8,386.8Z M311.5,391.1 L311.0,391.1 L310.5,391.2 L310.0,391.1 L309.8,391.0 L309.3,390.8 L309.0,390.6 L308.8,390.3 L308.5,390.0 L308.3,389.8 L308.2,389.5 L308.0,389.0 L307.9,388.8 L307.8,388.2 L307.8,387.8 L307.8,387.2 L307.9,386.8 L308.0,386.5 L308.2,386.1 L308.5,386.0 L308.9,385.8 L309.2,385.6 L309.8,385.5 L310.0,385.5 L310.5,385.4 L311.0,385.4 L311.5,385.5 L311.8,385.6 L312.2,385.7 L312.5,385.9 L312.8,386.0 L313.1,386.2 L313.3,386.5 L313.5,386.8 L313.7,387.2 L313.8,387.5 L313.9,388.0 L314.0,388.5 L313.9,389.0 L313.8,389.5 L313.7,389.8 L313.5,390.1 L313.2,390.3 L313.0,390.5 L312.5,390.8 L312.2,390.8 L311.8,391.0 L311.5,391.1Z M372.8,385.6 L372.2,385.7 L371.8,385.7 L371.4,385.5 L371.1,385.2 L370.9,385.0 L370.8,384.7 L370.6,384.2 L370.7,383.8 L370.8,383.5 L371.0,383.0 L371.2,382.8 L371.4,382.5 L371.7,382.2 L372.0,382.0 L372.2,381.9 L372.8,381.9 L373.2,382.0 L373.5,382.2 L373.8,382.5 L373.9,382.8 L374.1,383.0 L374.2,383.5 L374.1,384.0 L374.0,384.3 L373.8,384.8 L373.6,385.0 L373.3,385.2 L373.0,385.5 L372.8,385.6Z M310.8,390.0 L310.5,390.0 L310.0,389.8 L309.8,389.7 L309.5,389.4 L309.2,389.0 L309.1,388.8 L309.0,388.3 L309.0,388.0 L309.0,387.7 L309.2,387.2 L309.5,387.0 L309.8,386.8 L310.0,386.7 L310.5,386.7 L311.0,386.7 L311.2,386.8 L311.8,387.0 L312.0,387.2 L312.2,387.5 L312.3,387.8 L312.5,388.2 L312.5,388.5 L312.5,388.9 L312.4,389.2 L312.2,389.5 L311.8,389.8 L311.5,389.9 L311.0,390.0 L310.8,390.0Z" fill="none" stroke="#2e2ed0" stroke-width="1.05" stroke-linejoin="round"/>
<line x1="558" y1="128.5" x2="798.8" y2="128.5" stroke="#231f20" stroke-width="2.2"/>
<line x1="558.8" y1="128.5" x2="558.8" y2="132.0" stroke="#231f20" stroke-width="1"/>
<line x1="606.5" y1="128.5" x2="606.5" y2="132.0" stroke="#231f20" stroke-width="1"/>
<line x1="654.5" y1="128.5" x2="654.5" y2="132.0" stroke="#231f20" stroke-width="1"/>
<line x1="702.5" y1="128.5" x2="702.5" y2="132.0" stroke="#231f20" stroke-width="1"/>
<line x1="750.5" y1="128.5" x2="750.5" y2="132.0" stroke="#231f20" stroke-width="1"/>
<line x1="798.0" y1="128.5" x2="798.0" y2="132.0" stroke="#231f20" stroke-width="1"/>
<line x1="558" y1="270.3" x2="798.8" y2="270.3" stroke="#231f20" stroke-width="2.2"/>
<line x1="558.8" y1="270.3" x2="558.8" y2="273.8" stroke="#231f20" stroke-width="1"/>
<line x1="606.5" y1="270.3" x2="606.5" y2="273.8" stroke="#231f20" stroke-width="1"/>
<line x1="654.5" y1="270.3" x2="654.5" y2="273.8" stroke="#231f20" stroke-width="1"/>
<line x1="702.5" y1="270.3" x2="702.5" y2="273.8" stroke="#231f20" stroke-width="1"/>
<line x1="750.5" y1="270.3" x2="750.5" y2="273.8" stroke="#231f20" stroke-width="1"/>
<line x1="798.0" y1="270.3" x2="798.0" y2="273.8" stroke="#231f20" stroke-width="1"/>
<line x1="558" y1="413.2" x2="798.8" y2="413.2" stroke="#231f20" stroke-width="2.2"/>
<line x1="558.8" y1="413.2" x2="558.8" y2="416.7" stroke="#231f20" stroke-width="1"/>
<line x1="606.5" y1="413.2" x2="606.5" y2="416.7" stroke="#231f20" stroke-width="1"/>
<line x1="654.5" y1="413.2" x2="654.5" y2="416.7" stroke="#231f20" stroke-width="1"/>
<line x1="702.5" y1="413.2" x2="702.5" y2="416.7" stroke="#231f20" stroke-width="1"/>
<line x1="750.5" y1="413.2" x2="750.5" y2="416.7" stroke="#231f20" stroke-width="1"/>
<line x1="798.0" y1="413.2" x2="798.0" y2="416.7" stroke="#231f20" stroke-width="1"/>
<path d="M558.50,119.00 C559.42,119.17 562.08,119.67 564.00,120.00 C565.92,120.33 567.83,121.17 570.00,121.00 C572.17,120.83 574.83,119.00 577.00,119.00 C579.17,119.00 581.00,120.08 583.00,121.00 C585.00,121.92 587.00,124.50 589.00,124.50 C591.00,124.50 593.00,121.25 595.00,121.00 C597.00,120.75 599.17,122.42 601.00,123.00 C602.83,123.58 604.33,125.42 606.00,124.50 C607.67,123.58 609.17,118.50 611.00,117.50 C612.83,116.50 614.83,118.75 617.00,118.50 C619.17,118.25 622.17,116.33 624.00,116.00 C625.83,115.67 626.50,115.78 628.00,116.50 C629.50,117.22 631.42,121.22 633.00,120.30 C634.58,119.38 636.17,115.05 637.50,111.00 C638.83,106.95 639.92,102.50 641.00,96.00 C642.08,89.50 643.00,79.17 644.00,72.00 C645.00,64.83 646.13,57.07 647.00,53.00 C647.87,48.93 648.45,47.77 649.20,47.60 C649.95,47.43 650.58,47.43 651.50,52.00 C652.42,56.57 653.65,67.00 654.70,75.00 C655.75,83.00 656.92,94.50 657.80,100.00 C658.68,105.50 659.22,106.17 660.00,108.00 C660.78,109.83 661.50,111.00 662.50,111.00 C663.50,111.00 664.96,109.83 666.00,108.00 C667.04,106.17 667.92,106.33 668.75,100.00 C669.58,93.67 670.29,80.33 671.00,70.00 C671.71,59.67 672.28,46.03 673.00,38.00 C673.72,29.97 674.55,22.30 675.30,21.80 C676.05,21.30 676.77,28.22 677.50,35.00 C678.23,41.78 679.03,55.33 679.70,62.50 C680.37,69.67 680.83,74.62 681.50,78.00 C682.17,81.38 683.08,84.13 683.75,82.80 C684.42,81.47 684.88,77.97 685.50,70.00 C686.12,62.03 686.92,44.33 687.50,35.00 C688.08,25.67 688.47,18.98 689.00,14.00 C689.53,9.02 690.12,5.10 690.70,5.10 C691.28,5.10 691.88,8.60 692.50,14.00 C693.12,19.40 693.73,28.17 694.40,37.50 C695.07,46.83 695.83,61.15 696.50,70.00 C697.17,78.85 697.75,85.33 698.40,90.60 C699.05,95.87 699.63,101.37 700.40,101.60 C701.17,101.83 701.93,95.35 703.00,92.00 C704.07,88.65 705.72,81.50 706.80,81.50 C707.88,81.50 708.70,87.92 709.50,92.00 C710.30,96.08 710.85,103.33 711.60,106.00 C712.35,108.67 712.80,108.07 714.00,108.00 C715.20,107.93 717.47,105.43 718.80,105.60 C720.13,105.77 720.80,108.07 722.00,109.00 C723.20,109.93 724.67,112.37 726.00,111.20 C727.33,110.03 728.53,105.73 730.00,102.00 C731.47,98.27 733.47,89.80 734.80,88.80 C736.13,87.80 736.80,92.63 738.00,96.00 C739.20,99.37 740.67,106.47 742.00,109.00 C743.33,111.53 744.67,112.70 746.00,111.20 C747.33,109.70 748.83,104.87 750.00,100.00 C751.17,95.13 751.95,86.53 753.00,82.00 C754.05,77.47 755.30,73.13 756.30,72.80 C757.30,72.47 758.05,76.13 759.00,80.00 C759.95,83.87 761.00,91.87 762.00,96.00 C763.00,100.13 764.17,102.47 765.00,104.80 C765.83,107.13 766.17,107.60 767.00,110.00 C767.83,112.40 768.67,117.62 770.00,119.20 C771.33,120.78 773.42,119.24 775.00,119.50 C776.58,119.76 778.00,120.92 779.50,120.75 C781.00,120.58 782.42,118.50 784.00,118.50 C785.58,118.50 787.33,120.58 789.00,120.75 C790.67,120.92 792.50,119.62 794.00,119.50 C795.50,119.38 797.33,119.92 798.00,120.00" fill="none" stroke="#e04853" stroke-width="1.8" stroke-linejoin="round"/>
<path d="M558.50,259.00 C559.58,259.33 563.08,260.33 565.00,261.00 C566.92,261.67 568.33,263.33 570.00,263.00 C571.67,262.67 573.38,260.90 575.00,259.00 C576.62,257.10 578.37,251.60 579.70,251.60 C581.03,251.60 581.28,257.77 583.00,259.00 C584.72,260.23 588.00,259.50 590.00,259.00 C592.00,258.50 593.60,254.90 595.00,256.00 C596.40,257.10 597.07,265.10 598.40,265.60 C599.73,266.10 601.07,260.43 603.00,259.00 C604.93,257.57 607.67,257.00 610.00,257.00 C612.33,257.00 615.33,258.89 617.00,259.00 C618.67,259.11 618.46,258.07 620.00,257.68 C621.54,257.29 624.17,258.73 626.26,256.64 C628.35,254.55 630.79,251.25 632.53,245.16 C634.27,239.07 635.13,227.93 636.70,220.10 C638.27,212.27 640.35,199.57 641.92,198.18 C643.49,196.79 644.71,205.66 646.10,211.75 C647.49,217.84 649.05,230.20 650.27,234.72 C651.49,239.24 652.18,237.15 653.40,238.89 C654.62,240.63 656.36,243.42 657.58,245.16 C658.80,246.90 659.49,251.42 660.71,249.33 C661.93,247.24 663.50,240.63 664.89,232.63 C666.28,224.63 667.84,208.10 669.06,201.32 C670.28,194.53 670.80,190.88 672.19,191.92 C673.58,192.96 675.67,209.84 677.41,207.58 C679.15,205.32 681.06,179.39 682.63,178.35 C684.20,177.31 685.59,192.27 686.81,201.32 C688.03,210.37 689.07,224.63 689.94,232.63 C690.81,240.63 691.16,246.37 692.03,249.33 C692.90,252.29 694.12,250.73 695.16,250.38 C696.20,250.03 696.90,245.68 698.29,247.24 C699.68,248.81 701.77,258.72 703.51,259.77 C705.25,260.81 707.16,254.21 708.73,253.51 C710.30,252.81 711.68,255.76 712.90,255.59 C714.12,255.42 715.10,255.73 716.03,252.46 C716.96,249.19 717.75,242.24 718.50,236.00 C719.25,229.76 719.83,224.33 720.50,215.00 C721.17,205.67 721.92,189.67 722.50,180.00 C723.08,170.33 723.52,162.50 724.00,157.00 C724.48,151.50 724.93,147.00 725.40,147.00 C725.87,147.00 726.28,150.67 726.80,157.00 C727.32,163.33 727.88,175.33 728.50,185.00 C729.12,194.67 729.75,206.67 730.50,215.00 C731.25,223.33 732.08,230.00 733.00,235.00 C733.92,240.00 735.17,243.07 736.00,245.00 C736.83,246.93 736.32,244.89 738.00,246.60 C739.68,248.31 742.84,254.55 746.11,255.27 C749.38,256.00 753.80,250.95 757.64,250.95 C761.48,250.95 765.32,255.51 769.16,255.27 C773.00,255.03 777.81,249.27 780.69,249.51 C783.57,249.75 784.06,255.27 786.46,256.71 C788.86,258.15 793.34,257.95 795.10,258.16 C796.86,258.38 796.68,258.03 797.00,258.00" fill="none" stroke="#e04853" stroke-width="1.8" stroke-linejoin="round"/>
<path d="M558.12,402.19 C559.94,402.84 566.19,406.22 569.06,406.09 C571.92,405.96 573.23,401.54 575.31,401.41 C577.39,401.28 579.21,405.18 581.56,405.31 C583.90,405.44 586.77,402.71 589.38,402.19 C591.99,401.67 595.11,402.06 597.19,402.19 C599.27,402.32 600.32,403.36 601.88,402.97 C603.44,402.58 604.48,399.19 606.56,399.84 C608.64,400.49 612.04,406.36 614.38,406.88 C616.72,407.40 618.28,403.49 620.62,402.97 C622.96,402.45 626.10,404.92 628.44,403.75 C630.79,402.58 632.61,401.15 634.69,395.94 C636.77,390.73 638.86,375.11 640.94,372.50 C643.02,369.89 645.11,376.93 647.19,380.31 C649.27,383.69 651.88,390.60 653.44,392.81 C655.00,395.02 655.26,391.77 656.56,393.59 C657.86,395.41 659.43,403.36 661.25,403.75 C663.07,404.14 665.16,397.24 667.50,395.94 C669.84,394.64 673.56,398.60 675.31,395.94 C677.06,393.28 677.22,383.99 678.00,380.00 C678.78,376.01 679.33,377.00 680.00,372.00 C680.67,367.00 681.33,356.33 682.00,350.00 C682.67,343.67 683.30,338.45 684.00,334.00 C684.70,329.55 685.53,323.30 686.20,323.30 C686.87,323.30 687.37,327.88 688.00,334.00 C688.63,340.12 689.33,351.50 690.00,360.00 C690.67,368.50 691.03,378.68 692.00,385.00 C692.97,391.32 694.63,397.90 695.80,397.90 C696.97,397.90 697.80,392.65 699.00,385.00 C700.20,377.35 701.83,363.17 703.00,352.00 C704.17,340.83 705.08,326.67 706.00,318.00 C706.92,309.33 707.75,303.55 708.50,300.00 C709.25,296.45 709.83,296.37 710.50,296.70 C711.17,297.03 711.75,296.45 712.50,302.00 C713.25,307.55 714.08,318.67 715.00,330.00 C715.92,341.33 716.90,358.90 718.00,370.00 C719.10,381.10 719.22,390.39 721.60,396.60 C723.98,402.81 728.96,406.16 732.30,407.27 C735.64,408.38 738.30,403.49 741.63,403.27 C744.96,403.05 748.51,406.38 752.29,405.94 C756.07,405.50 761.18,400.39 764.29,400.61 C767.40,400.83 768.51,406.83 770.95,407.27 C773.39,407.71 776.28,403.49 778.94,403.27 C781.61,403.05 784.50,406.16 786.94,405.94 C789.38,405.72 791.60,402.16 793.60,401.94 C795.60,401.72 798.04,404.17 798.93,404.61" fill="none" stroke="#e04853" stroke-width="1.8" stroke-linejoin="round"/>
<path d="M558.90,112.00 C559.25,112.13 560.32,111.63 561.00,112.80 C561.68,113.97 561.92,117.83 563.00,119.00 C564.08,120.17 566.00,119.58 567.50,119.80 C569.00,120.02 570.25,119.95 572.00,120.30 C573.75,120.65 576.17,122.12 578.00,121.90 C579.83,121.68 580.58,119.73 583.00,119.00 C585.42,118.27 589.83,117.37 592.50,117.50 C595.17,117.63 596.92,119.07 599.00,119.80 C601.08,120.53 603.17,122.28 605.00,121.90 C606.83,121.52 608.43,118.23 610.00,117.50 C611.57,116.77 612.63,117.12 614.40,117.50 C616.17,117.88 618.50,120.45 620.60,119.80 C622.70,119.15 625.18,114.23 627.00,113.60 C628.82,112.97 629.70,117.82 631.50,116.00 C633.30,114.18 636.10,105.32 637.80,102.70 C639.50,100.08 640.27,101.62 641.70,100.30 C643.13,98.98 644.68,95.06 646.40,94.80 C648.12,94.54 650.07,97.57 652.00,98.75 C653.93,99.93 656.00,100.34 658.00,101.90 C660.00,103.46 661.90,109.93 664.00,108.10 C666.10,106.27 668.77,96.42 670.60,90.90 C672.43,85.38 673.77,78.82 675.00,75.00 C676.23,71.18 677.17,68.50 678.00,68.00 C678.83,67.50 679.04,69.53 680.00,72.00 C680.96,74.47 682.58,82.30 683.75,82.80 C684.92,83.30 685.86,77.60 687.00,75.00 C688.14,72.40 689.60,67.20 690.60,67.20 C691.60,67.20 691.95,70.58 693.00,75.00 C694.05,79.42 695.80,89.05 696.90,93.75 C698.00,98.45 698.62,100.96 699.60,103.20 C700.58,105.44 701.73,107.15 702.80,107.20 C703.87,107.25 704.93,104.30 706.00,103.50 C707.07,102.70 708.20,101.82 709.20,102.40 C710.20,102.98 711.20,105.67 712.00,107.00 C712.80,108.33 712.87,109.75 714.00,110.40 C715.13,111.05 716.80,109.97 718.80,110.90 C720.80,111.83 723.60,117.02 726.00,116.00 C728.40,114.98 731.20,106.13 733.20,104.80 C735.20,103.47 736.13,106.53 738.00,108.00 C739.87,109.47 742.02,113.07 744.40,113.60 C746.78,114.13 749.92,113.60 752.30,111.20 C754.68,108.80 757.08,100.07 758.70,99.20 C760.32,98.33 760.95,103.73 762.00,106.00 C763.05,108.27 763.42,110.34 765.00,112.80 C766.58,115.26 769.62,119.95 771.50,120.75 C773.38,121.55 774.43,118.19 776.30,117.60 C778.17,117.01 780.58,116.13 782.70,117.20 C784.82,118.27 786.87,123.67 789.00,124.00 C791.13,124.33 793.75,120.13 795.50,119.20 C797.25,118.27 798.83,118.53 799.50,118.40" fill="none" stroke="#3b3bd8" stroke-width="1.8" stroke-linejoin="round"/>
<path d="M558.50,261.00 C559.58,260.50 562.75,257.83 565.00,258.00 C567.25,258.17 569.50,262.00 572.00,262.00 C574.50,262.00 577.00,258.50 580.00,258.00 C583.00,257.50 586.67,259.17 590.00,259.00 C593.33,258.83 596.67,257.00 600.00,257.00 C603.33,257.00 607.00,259.17 610.00,259.00 C613.00,258.83 616.33,256.57 618.00,256.00 C619.67,255.43 618.97,255.13 620.00,255.59 C621.03,256.05 622.09,260.12 624.18,258.73 C626.27,257.34 629.92,250.37 632.53,247.24 C635.14,244.11 637.57,241.33 639.83,239.94 C642.09,238.55 644.19,239.59 646.10,238.89 C648.01,238.19 649.58,235.58 651.32,235.76 C653.06,235.94 654.62,239.24 656.53,239.94 C658.44,240.64 660.71,241.68 662.80,239.94 C664.89,238.20 666.97,231.07 669.06,229.50 C671.15,227.93 673.06,231.93 675.32,230.54 C677.58,229.15 680.54,221.84 682.63,221.15 C684.72,220.46 686.11,222.72 687.85,226.37 C689.59,230.02 690.81,239.76 693.07,243.07 C695.33,246.38 699.33,244.98 701.42,246.20 C703.51,247.42 704.03,250.90 705.59,250.38 C707.15,249.86 709.24,243.77 710.81,243.07 C712.38,242.37 713.60,247.94 714.99,246.20 C716.38,244.46 717.99,235.50 719.16,232.63 C720.33,229.76 721.19,230.27 722.00,229.00 C722.81,227.73 723.33,225.90 724.00,225.00 C724.67,224.10 725.33,223.43 726.00,223.60 C726.67,223.77 727.17,223.93 728.00,226.00 C728.83,228.07 729.90,233.52 731.00,236.00 C732.10,238.48 732.08,237.45 734.60,240.90 C737.12,244.35 742.27,254.55 746.11,256.71 C749.95,258.87 753.32,254.07 757.64,253.83 C761.96,253.59 767.73,254.79 772.05,255.27 C776.37,255.75 780.21,254.79 783.57,256.71 C786.93,258.63 789.82,266.56 792.22,266.80 C794.62,267.04 797.02,259.60 797.98,258.16" fill="none" stroke="#3b3bd8" stroke-width="1.8" stroke-linejoin="round"/>
<path d="M558.12,401.41 C558.90,400.76 560.99,396.20 562.81,397.50 C564.63,398.80 567.24,408.44 569.06,409.22 C570.88,410.00 571.67,403.75 573.75,402.19 C575.83,400.63 579.09,400.62 581.56,399.84 C584.03,399.06 586.77,396.85 588.59,397.50 C590.41,398.15 590.55,403.36 592.50,403.75 C594.45,404.14 597.71,399.71 600.31,399.84 C602.91,399.97 605.77,403.88 608.12,404.53 C610.47,405.18 612.30,404.27 614.38,403.75 C616.46,403.23 618.93,401.93 620.62,401.41 C622.31,400.89 622.71,402.31 624.53,400.62 C626.35,398.93 629.61,393.20 631.56,391.25 C633.51,389.30 634.43,390.86 636.25,388.91 C638.07,386.96 640.42,380.18 642.50,379.53 C644.58,378.88 646.93,382.79 648.75,385.00 C650.57,387.21 652.01,391.12 653.44,392.81 C654.87,394.50 656.04,395.16 657.34,395.16 C658.64,395.16 659.82,392.42 661.25,392.81 C662.68,393.20 664.12,397.37 665.94,397.50 C667.76,397.63 670.37,395.41 672.19,393.59 C674.01,391.77 675.75,389.66 676.88,386.56 C678.01,383.46 678.31,377.76 679.00,375.00 C679.69,372.24 680.33,371.33 681.00,370.00 C681.67,368.67 682.13,367.80 683.00,367.00 C683.87,366.20 685.20,363.87 686.20,365.20 C687.20,366.53 687.87,371.53 689.00,375.00 C690.13,378.47 691.50,384.17 693.00,386.00 C694.50,387.83 696.42,387.00 698.00,386.00 C699.58,385.00 701.08,383.50 702.50,380.00 C703.92,376.50 705.32,368.13 706.50,365.00 C707.68,361.87 708.60,361.03 709.60,361.20 C710.60,361.37 711.43,363.03 712.50,366.00 C713.57,368.97 714.92,375.00 716.00,379.00 C717.08,383.00 717.83,387.00 719.00,390.00 C720.17,393.00 720.78,395.23 723.00,397.00 C725.22,398.77 729.19,399.88 732.30,400.61 C735.40,401.35 738.74,401.63 741.63,401.41 C744.52,401.19 746.52,398.97 749.63,399.28 C752.74,399.59 757.18,403.05 760.29,403.27 C763.40,403.49 765.62,400.39 768.28,400.61 C770.94,400.83 773.61,404.83 776.28,404.61 C778.95,404.39 781.39,399.06 784.28,399.28 C787.17,399.50 791.16,405.27 793.60,405.94 C796.04,406.61 798.04,403.71 798.93,403.27" fill="none" stroke="#3b3bd8" stroke-width="1.8" stroke-linejoin="round"/>
<rect x="36.85" y="2.00" width="205.95" height="402.00" fill="none" stroke="#231f20" stroke-width="2.2"/>
<rect x="290.75" y="2.00" width="205.65" height="402.00" fill="none" stroke="#231f20" stroke-width="2.2"/>
<text x="78.00" y="423.50" font-size="17.50" text-anchor="middle" fill="#231f20" stroke="#231f20" stroke-width="0.3">10</text>
<text x="119.30" y="423.50" font-size="17.50" text-anchor="middle" fill="#231f20" stroke="#231f20" stroke-width="0.3">9</text>
<text x="160.00" y="423.50" font-size="17.50" text-anchor="middle" fill="#231f20" stroke="#231f20" stroke-width="0.3">8</text>
<text x="201.00" y="423.50" font-size="17.50" text-anchor="middle" fill="#231f20" stroke="#231f20" stroke-width="0.3">7</text>
<text x="249.40" y="101.80" font-size="17.50" text-anchor="start" fill="#231f20" stroke="#231f20" stroke-width="0.3">110</text>
<text x="249.40" y="234.10" font-size="17.50" text-anchor="start" fill="#231f20" stroke="#231f20" stroke-width="0.3">120</text>
<text x="249.40" y="369.20" font-size="17.50" text-anchor="start" fill="#231f20" stroke="#231f20" stroke-width="0.3">130</text>
<line x1="77.8" y1="404" x2="77.8" y2="407.5" stroke="#231f20" stroke-width="1"/>
<line x1="118.7" y1="404" x2="118.7" y2="407.5" stroke="#231f20" stroke-width="1"/>
<line x1="159.8" y1="404" x2="159.8" y2="407.5" stroke="#231f20" stroke-width="1"/>
<line x1="201.0" y1="404" x2="201.0" y2="407.5" stroke="#231f20" stroke-width="1"/>
<line x1="242.8" y1="404" x2="242.8" y2="407.5" stroke="#231f20" stroke-width="1"/>
<line x1="242.8" y1="95.3" x2="246.3" y2="95.3" stroke="#231f20" stroke-width="1"/>
<line x1="242.8" y1="229.3" x2="246.3" y2="229.3" stroke="#231f20" stroke-width="1"/>
<line x1="242.8" y1="363.6" x2="246.3" y2="363.6" stroke="#231f20" stroke-width="1"/>
<text x="331.50" y="423.50" font-size="17.50" text-anchor="middle" fill="#231f20" stroke="#231f20" stroke-width="0.3">10</text>
<text x="372.80" y="423.50" font-size="17.50" text-anchor="middle" fill="#231f20" stroke="#231f20" stroke-width="0.3">9</text>
<text x="413.50" y="423.50" font-size="17.50" text-anchor="middle" fill="#231f20" stroke="#231f20" stroke-width="0.3">8</text>
<text x="454.50" y="423.50" font-size="17.50" text-anchor="middle" fill="#231f20" stroke="#231f20" stroke-width="0.3">7</text>
<text x="502.90" y="101.80" font-size="17.50" text-anchor="start" fill="#231f20" stroke="#231f20" stroke-width="0.3">110</text>
<text x="502.90" y="234.10" font-size="17.50" text-anchor="start" fill="#231f20" stroke="#231f20" stroke-width="0.3">120</text>
<text x="502.90" y="369.20" font-size="17.50" text-anchor="start" fill="#231f20" stroke="#231f20" stroke-width="0.3">130</text>
<line x1="331.3" y1="404" x2="331.3" y2="407.5" stroke="#231f20" stroke-width="1"/>
<line x1="372.2" y1="404" x2="372.2" y2="407.5" stroke="#231f20" stroke-width="1"/>
<line x1="413.3" y1="404" x2="413.3" y2="407.5" stroke="#231f20" stroke-width="1"/>
<line x1="454.5" y1="404" x2="454.5" y2="407.5" stroke="#231f20" stroke-width="1"/>
<line x1="496.3" y1="404" x2="496.3" y2="407.5" stroke="#231f20" stroke-width="1"/>
<line x1="496.3" y1="95.3" x2="499.8" y2="95.3" stroke="#231f20" stroke-width="1"/>
<line x1="496.3" y1="229.3" x2="499.8" y2="229.3" stroke="#231f20" stroke-width="1"/>
<line x1="496.3" y1="363.6" x2="499.8" y2="363.6" stroke="#231f20" stroke-width="1"/>
<text x="608.50" y="147.70" font-size="17.50" text-anchor="middle" fill="#231f20" stroke="#231f20" stroke-width="0.3">10</text>
<text x="655.30" y="147.70" font-size="17.50" text-anchor="middle" fill="#231f20" stroke="#231f20" stroke-width="0.3">9</text>
<text x="703.20" y="147.70" font-size="17.50" text-anchor="middle" fill="#231f20" stroke="#231f20" stroke-width="0.3">8</text>
<text x="751.00" y="147.70" font-size="17.50" text-anchor="middle" fill="#231f20" stroke="#231f20" stroke-width="0.3">7</text>
<text x="608.50" y="289.70" font-size="17.50" text-anchor="middle" fill="#231f20" stroke="#231f20" stroke-width="0.3">10</text>
<text x="655.30" y="289.70" font-size="17.50" text-anchor="middle" fill="#231f20" stroke="#231f20" stroke-width="0.3">9</text>
<text x="703.20" y="289.70" font-size="17.50" text-anchor="middle" fill="#231f20" stroke="#231f20" stroke-width="0.3">8</text>
<text x="751.00" y="289.70" font-size="17.50" text-anchor="middle" fill="#231f20" stroke="#231f20" stroke-width="0.3">7</text>
<text x="608.50" y="432.50" font-size="17.50" text-anchor="middle" fill="#231f20" stroke="#231f20" stroke-width="0.3">10</text>
<text x="655.30" y="432.50" font-size="17.50" text-anchor="middle" fill="#231f20" stroke="#231f20" stroke-width="0.3">9</text>
<text x="703.20" y="432.50" font-size="17.50" text-anchor="middle" fill="#231f20" stroke="#231f20" stroke-width="0.3">8</text>
<text x="751.00" y="432.50" font-size="17.50" text-anchor="middle" fill="#231f20" stroke="#231f20" stroke-width="0.3">7</text>
<text x="43.50" y="31.00" font-size="24.00" text-anchor="start" fill="#231f20" letter-spacing="0.7" stroke="#231f20" stroke-width="0.3">a) 80 kHz</text>
<text x="296.50" y="30.70" font-size="24.00" text-anchor="start" fill="#231f20" letter-spacing="0.9" stroke="#231f20" stroke-width="0.3">b) 50 kHz</text>
<text x="555.20" y="31.30" font-size="25.50" text-anchor="start" fill="#231f20" letter-spacing="1.3" stroke="#231f20" stroke-width="0.3">c)</text>
<text x="83.0" y="459.7" font-size="25.0" fill="#231f20" letter-spacing="0.35" stroke="#231f20" stroke-width="0.3"><tspan font-size="14" dy="-9.5">1</tspan><tspan dy="9.5">H (ppm)</tspan></text>
<text x="344.5" y="460.2" font-size="25.0" fill="#231f20" letter-spacing="0.35" stroke="#231f20" stroke-width="0.3"><tspan font-size="14" dy="-9.5">1</tspan><tspan dy="9.5">H (ppm)</tspan></text>
<text x="623.5" y="459.0" font-size="25.0" fill="#231f20" letter-spacing="0.35" stroke="#231f20" stroke-width="0.3"><tspan font-size="14" dy="-9.5">1</tspan><tspan dy="9.5">H (ppm)</tspan></text>
<text transform="translate(24.3,253) rotate(-90)" x="0" y="0" font-size="25.0" fill="#231f20" letter-spacing="0.4" stroke="#231f20" stroke-width="0.3"><tspan font-size="14" dy="-9.5">15</tspan><tspan dy="9.5">N (ppm)</tspan></text>
</svg></body></html>
